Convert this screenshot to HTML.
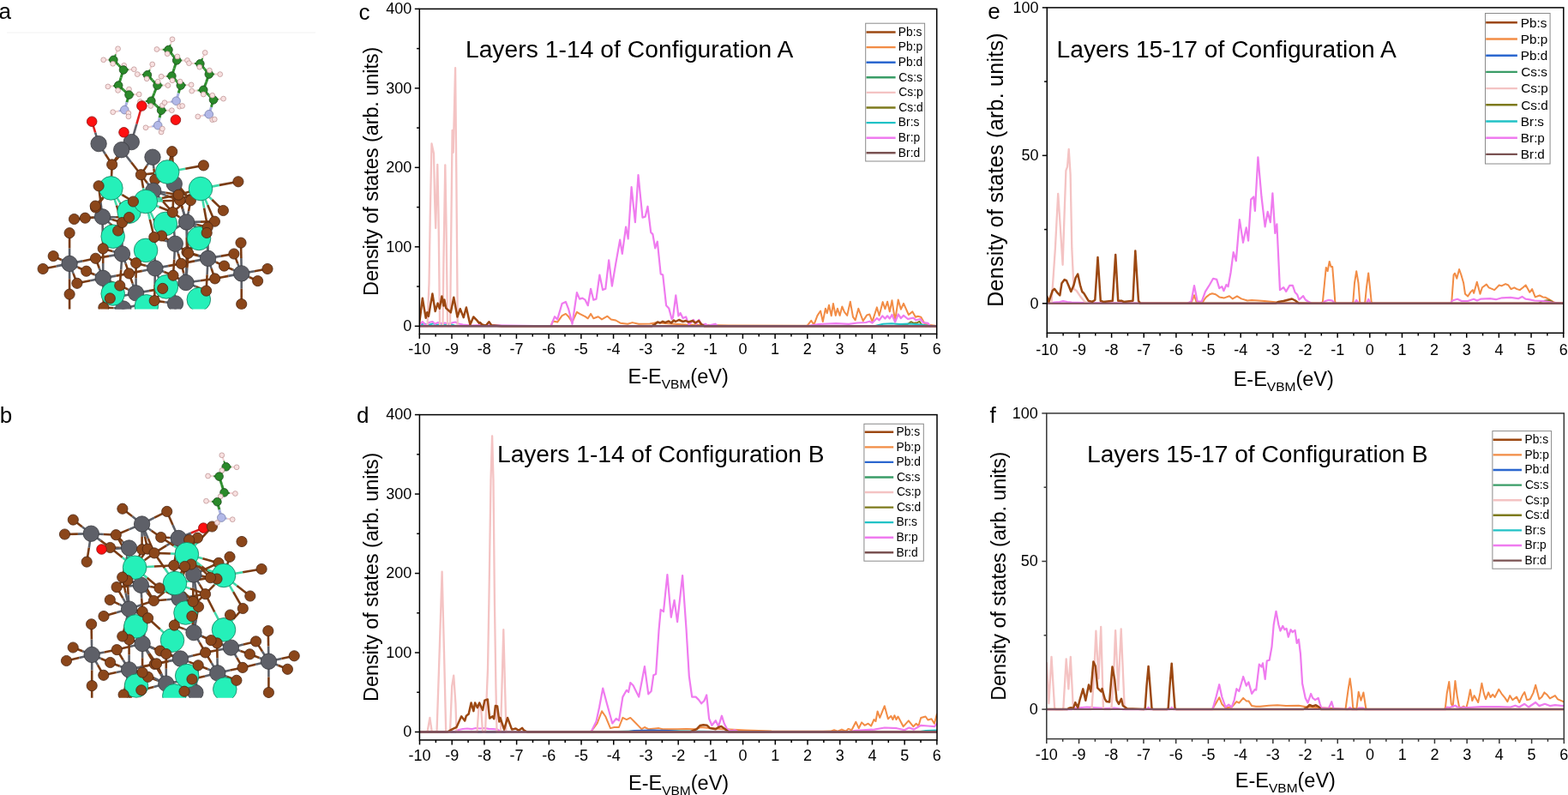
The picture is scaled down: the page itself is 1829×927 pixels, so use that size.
<!DOCTYPE html><html><head><meta charset="utf-8"><title>DOS figure</title><style>html,body{margin:0;padding:0;background:#fff;overflow:hidden}svg{display:block}</style></head><body><svg width="1829" height="927" viewBox="0 0 1829 927">
<defs>
<clipPath id="clipc"><rect x="489.3" y="10.4" width="603.4" height="379.0"/></clipPath>
<clipPath id="clipd"><rect x="489.4" y="483.6" width="603.6" height="379.3"/></clipPath>
<clipPath id="clipe"><rect x="1221.3" y="8.9" width="602.5" height="379.4"/></clipPath>
<clipPath id="clipf"><rect x="1220.8" y="481.9" width="603.5" height="379.7"/></clipPath>
<clipPath id="clipA"><rect x="0" y="38" width="380" height="322.6"/></clipPath>
<clipPath id="clipB"><rect x="0" y="510" width="380" height="303.7"/></clipPath>
</defs>
<rect width="1829" height="927" fill="#fff"/>
<g font-family="'Liberation Sans', Arial, sans-serif" fill="#000">
<text x="-1.40" y="22.40" font-size="26">a</text>
<text x="-0.38" y="493.30" font-size="26">b</text>
<text x="418.40" y="22.50" font-size="26">c</text>
<text x="415.91" y="493.20" font-size="26">d</text>
<text x="1152.20" y="22.10" font-size="26">e</text>
<text x="1154.53" y="493.40" font-size="26">f</text>
<line x1="8" y1="38" x2="368" y2="38" stroke="#f2f2f2" stroke-width="1"/>
<g clip-path="url(#clipA)"><line x1="203.3" y1="214.4" x2="192.1" y2="211.9" stroke="#5d6068" stroke-width="2.6"/><line x1="192.1" y1="211.9" x2="180.8" y2="209.4" stroke="#7a3c14" stroke-width="2.6"/>
<line x1="203.3" y1="214.4" x2="206.6" y2="224.1" stroke="#5d6068" stroke-width="2.6"/><line x1="206.6" y1="224.1" x2="209.9" y2="233.7" stroke="#7a3c14" stroke-width="2.6"/>
<line x1="203.3" y1="214.4" x2="212.9" y2="224.1" stroke="#5d6068" stroke-width="2.6"/><line x1="212.9" y1="224.1" x2="222.4" y2="233.7" stroke="#7a3c14" stroke-width="2.6"/>
<line x1="203.3" y1="214.4" x2="202.3" y2="230.9" stroke="#5d6068" stroke-width="2.6"/><line x1="202.3" y1="230.9" x2="201.3" y2="247.5" stroke="#7a3c14" stroke-width="2.6"/>
<line x1="203.3" y1="214.4" x2="202.0" y2="195.6" stroke="#5d6068" stroke-width="2.6"/><line x1="202.0" y1="195.6" x2="200.7" y2="176.7" stroke="#7a3c14" stroke-width="2.6"/>
<line x1="203.3" y1="214.4" x2="205.8" y2="220.8" stroke="#5d6068" stroke-width="2.6"/><line x1="205.8" y1="220.8" x2="208.2" y2="227.2" stroke="#7a3c14" stroke-width="2.6"/>
<line x1="180.8" y1="209.4" x2="179.8" y2="215.9" stroke="#7a3c14" stroke-width="2.6"/><line x1="179.8" y1="215.9" x2="178.7" y2="222.4" stroke="#5d6068" stroke-width="2.6"/>
<line x1="180.8" y1="209.4" x2="179.4" y2="196.3" stroke="#7a3c14" stroke-width="2.6"/><line x1="179.4" y1="196.3" x2="178.0" y2="183.2" stroke="#5d6068" stroke-width="2.6"/>
<line x1="180.8" y1="209.4" x2="175.3" y2="222.2" stroke="#7a3c14" stroke-width="2.6"/><line x1="175.3" y1="222.2" x2="169.8" y2="235.0" stroke="#40d8a8" stroke-width="2.6"/>
<line x1="180.8" y1="209.4" x2="188.0" y2="204.9" stroke="#7a3c14" stroke-width="2.6"/><line x1="188.0" y1="204.9" x2="195.2" y2="200.5" stroke="#40d8a8" stroke-width="2.6"/>
<line x1="119.5" y1="252.8" x2="115.5" y2="247.4" stroke="#5d6068" stroke-width="2.6"/><line x1="115.5" y1="247.4" x2="111.5" y2="242.0" stroke="#7a3c14" stroke-width="2.6"/>
<line x1="119.5" y1="252.8" x2="103.0" y2="254.2" stroke="#5d6068" stroke-width="2.6"/><line x1="103.0" y1="254.2" x2="86.5" y2="255.5" stroke="#7a3c14" stroke-width="2.6"/>
<line x1="119.5" y1="252.8" x2="109.4" y2="253.5" stroke="#5d6068" stroke-width="2.6"/><line x1="109.4" y1="253.5" x2="99.3" y2="254.2" stroke="#7a3c14" stroke-width="2.6"/>
<line x1="119.5" y1="252.8" x2="128.6" y2="260.9" stroke="#5d6068" stroke-width="2.6"/><line x1="128.6" y1="260.9" x2="137.7" y2="269.0" stroke="#7a3c14" stroke-width="2.6"/>
<line x1="119.5" y1="252.8" x2="131.0" y2="256.1" stroke="#5d6068" stroke-width="2.6"/><line x1="131.0" y1="256.1" x2="142.5" y2="259.5" stroke="#7a3c14" stroke-width="2.6"/>
<line x1="119.5" y1="252.8" x2="135.1" y2="253.2" stroke="#5d6068" stroke-width="2.6"/><line x1="135.1" y1="253.2" x2="150.6" y2="253.5" stroke="#7a3c14" stroke-width="2.6"/>
<line x1="119.5" y1="252.8" x2="119.8" y2="271.4" stroke="#5d6068" stroke-width="2.6"/><line x1="119.8" y1="271.4" x2="120.2" y2="289.9" stroke="#7a3c14" stroke-width="2.6"/>
<line x1="119.5" y1="252.8" x2="117.3" y2="234.8" stroke="#5d6068" stroke-width="2.6"/><line x1="117.3" y1="234.8" x2="115.1" y2="216.8" stroke="#7a3c14" stroke-width="2.6"/>
<line x1="119.5" y1="252.8" x2="115.3" y2="246.4" stroke="#5d6068" stroke-width="2.6"/><line x1="115.3" y1="246.4" x2="111.2" y2="240.1" stroke="#7a3c14" stroke-width="2.6"/>
<line x1="143.8" y1="360.0" x2="141.8" y2="346.5" stroke="#5d6068" stroke-width="2.6"/><line x1="141.8" y1="346.5" x2="139.8" y2="333.0" stroke="#7a3c14" stroke-width="2.6"/>
<line x1="143.8" y1="360.0" x2="136.1" y2="353.9" stroke="#5d6068" stroke-width="2.6"/><line x1="136.1" y1="353.9" x2="128.3" y2="347.9" stroke="#7a3c14" stroke-width="2.6"/>
<line x1="143.8" y1="360.0" x2="162.0" y2="355.3" stroke="#5d6068" stroke-width="2.6"/><line x1="162.0" y1="355.3" x2="180.2" y2="350.6" stroke="#7a3c14" stroke-width="2.6"/>
<line x1="143.8" y1="360.0" x2="132.4" y2="359.3" stroke="#5d6068" stroke-width="2.6"/><line x1="132.4" y1="359.3" x2="120.9" y2="358.6" stroke="#7a3c14" stroke-width="2.6"/>
<line x1="143.8" y1="360.0" x2="143.8" y2="377.5" stroke="#5d6068" stroke-width="2.6"/><line x1="143.8" y1="377.5" x2="143.8" y2="395.0" stroke="#7a3c14" stroke-width="2.6"/>
<line x1="204.5" y1="353.9" x2="197.1" y2="345.1" stroke="#5d6068" stroke-width="2.6"/><line x1="197.1" y1="345.1" x2="189.7" y2="336.4" stroke="#7a3c14" stroke-width="2.6"/>
<line x1="204.5" y1="353.9" x2="203.2" y2="337.5" stroke="#5d6068" stroke-width="2.6"/><line x1="203.2" y1="337.5" x2="202.0" y2="321.2" stroke="#7a3c14" stroke-width="2.6"/>
<line x1="204.5" y1="353.9" x2="192.3" y2="352.2" stroke="#5d6068" stroke-width="2.6"/><line x1="192.3" y1="352.2" x2="180.2" y2="350.6" stroke="#7a3c14" stroke-width="2.6"/>
<line x1="204.5" y1="353.9" x2="204.5" y2="371.9" stroke="#5d6068" stroke-width="2.6"/><line x1="204.5" y1="371.9" x2="204.5" y2="390.0" stroke="#7a3c14" stroke-width="2.6"/>
<line x1="216.9" y1="329.5" x2="214.2" y2="318.4" stroke="#5d6068" stroke-width="2.6"/><line x1="214.2" y1="318.4" x2="211.4" y2="307.4" stroke="#7a3c14" stroke-width="2.6"/>
<line x1="216.9" y1="329.5" x2="217.4" y2="311.8" stroke="#5d6068" stroke-width="2.6"/><line x1="217.4" y1="311.8" x2="218.0" y2="294.0" stroke="#7a3c14" stroke-width="2.6"/>
<line x1="216.9" y1="329.5" x2="203.3" y2="332.9" stroke="#5d6068" stroke-width="2.6"/><line x1="203.3" y1="332.9" x2="189.7" y2="336.4" stroke="#7a3c14" stroke-width="2.6"/>
<line x1="216.9" y1="329.5" x2="209.4" y2="325.4" stroke="#5d6068" stroke-width="2.6"/><line x1="209.4" y1="325.4" x2="202.0" y2="321.2" stroke="#7a3c14" stroke-width="2.6"/>
<line x1="216.9" y1="329.5" x2="218.3" y2="312.4" stroke="#5d6068" stroke-width="2.6"/><line x1="218.3" y1="312.4" x2="219.7" y2="295.3" stroke="#7a3c14" stroke-width="2.6"/>
<line x1="216.9" y1="329.5" x2="233.8" y2="327.2" stroke="#5d6068" stroke-width="2.6"/><line x1="233.8" y1="327.2" x2="250.7" y2="324.9" stroke="#7a3c14" stroke-width="2.6"/>
<line x1="216.9" y1="329.5" x2="228.8" y2="334.3" stroke="#5d6068" stroke-width="2.6"/><line x1="228.8" y1="334.3" x2="240.6" y2="339.1" stroke="#7a3c14" stroke-width="2.6"/>
<line x1="158.6" y1="341.8" x2="158.6" y2="324.2" stroke="#5d6068" stroke-width="2.6"/><line x1="158.6" y1="324.2" x2="158.6" y2="306.7" stroke="#7a3c14" stroke-width="2.6"/>
<line x1="158.6" y1="341.8" x2="154.6" y2="330.4" stroke="#5d6068" stroke-width="2.6"/><line x1="154.6" y1="330.4" x2="150.6" y2="318.9" stroke="#7a3c14" stroke-width="2.6"/>
<line x1="158.6" y1="341.8" x2="149.2" y2="337.4" stroke="#5d6068" stroke-width="2.6"/><line x1="149.2" y1="337.4" x2="139.8" y2="333.0" stroke="#7a3c14" stroke-width="2.6"/>
<line x1="158.6" y1="341.8" x2="143.4" y2="344.9" stroke="#5d6068" stroke-width="2.6"/><line x1="143.4" y1="344.9" x2="128.3" y2="347.9" stroke="#7a3c14" stroke-width="2.6"/>
<line x1="158.6" y1="341.8" x2="174.1" y2="339.1" stroke="#5d6068" stroke-width="2.6"/><line x1="174.1" y1="339.1" x2="189.7" y2="336.4" stroke="#7a3c14" stroke-width="2.6"/>
<line x1="158.6" y1="341.8" x2="169.4" y2="346.2" stroke="#5d6068" stroke-width="2.6"/><line x1="169.4" y1="346.2" x2="180.2" y2="350.6" stroke="#7a3c14" stroke-width="2.6"/>
<line x1="120.2" y1="324.3" x2="115.8" y2="312.8" stroke="#5d6068" stroke-width="2.6"/><line x1="115.8" y1="312.8" x2="111.5" y2="301.3" stroke="#7a3c14" stroke-width="2.6"/>
<line x1="120.2" y1="324.3" x2="120.2" y2="307.1" stroke="#5d6068" stroke-width="2.6"/><line x1="120.2" y1="307.1" x2="120.2" y2="289.9" stroke="#7a3c14" stroke-width="2.6"/>
<line x1="120.2" y1="324.3" x2="110.5" y2="320.2" stroke="#5d6068" stroke-width="2.6"/><line x1="110.5" y1="320.2" x2="100.7" y2="316.2" stroke="#7a3c14" stroke-width="2.6"/>
<line x1="120.2" y1="324.3" x2="135.4" y2="321.6" stroke="#5d6068" stroke-width="2.6"/><line x1="135.4" y1="321.6" x2="150.6" y2="318.9" stroke="#7a3c14" stroke-width="2.6"/>
<line x1="120.2" y1="324.3" x2="105.1" y2="327.3" stroke="#5d6068" stroke-width="2.6"/><line x1="105.1" y1="327.3" x2="89.9" y2="330.3" stroke="#7a3c14" stroke-width="2.6"/>
<line x1="120.2" y1="324.3" x2="130.0" y2="328.6" stroke="#5d6068" stroke-width="2.6"/><line x1="130.0" y1="328.6" x2="139.8" y2="333.0" stroke="#7a3c14" stroke-width="2.6"/>
<line x1="120.2" y1="324.3" x2="124.2" y2="336.1" stroke="#5d6068" stroke-width="2.6"/><line x1="124.2" y1="336.1" x2="128.3" y2="347.9" stroke="#7a3c14" stroke-width="2.6"/>
<line x1="120.2" y1="324.3" x2="120.6" y2="341.5" stroke="#5d6068" stroke-width="2.6"/><line x1="120.6" y1="341.5" x2="120.9" y2="358.6" stroke="#7a3c14" stroke-width="2.6"/>
<line x1="180.9" y1="312.8" x2="169.8" y2="309.8" stroke="#5d6068" stroke-width="2.6"/><line x1="169.8" y1="309.8" x2="158.6" y2="306.7" stroke="#7a3c14" stroke-width="2.6"/>
<line x1="180.9" y1="312.8" x2="196.2" y2="310.1" stroke="#5d6068" stroke-width="2.6"/><line x1="196.2" y1="310.1" x2="211.4" y2="307.4" stroke="#7a3c14" stroke-width="2.6"/>
<line x1="180.9" y1="312.8" x2="165.8" y2="315.9" stroke="#5d6068" stroke-width="2.6"/><line x1="165.8" y1="315.9" x2="150.6" y2="318.9" stroke="#7a3c14" stroke-width="2.6"/>
<line x1="180.9" y1="312.8" x2="185.3" y2="324.6" stroke="#5d6068" stroke-width="2.6"/><line x1="185.3" y1="324.6" x2="189.7" y2="336.4" stroke="#7a3c14" stroke-width="2.6"/>
<line x1="180.9" y1="312.8" x2="191.4" y2="317.0" stroke="#5d6068" stroke-width="2.6"/><line x1="191.4" y1="317.0" x2="202.0" y2="321.2" stroke="#7a3c14" stroke-width="2.6"/>
<line x1="180.9" y1="312.8" x2="180.6" y2="331.7" stroke="#5d6068" stroke-width="2.6"/><line x1="180.6" y1="331.7" x2="180.2" y2="350.6" stroke="#7a3c14" stroke-width="2.6"/>
<line x1="180.9" y1="312.8" x2="180.4" y2="294.6" stroke="#5d6068" stroke-width="2.6"/><line x1="180.4" y1="294.6" x2="179.8" y2="276.5" stroke="#7a3c14" stroke-width="2.6"/>
<line x1="142.5" y1="296.0" x2="140.1" y2="282.5" stroke="#5d6068" stroke-width="2.6"/><line x1="140.1" y1="282.5" x2="137.7" y2="269.0" stroke="#7a3c14" stroke-width="2.6"/>
<line x1="142.5" y1="296.0" x2="142.5" y2="277.8" stroke="#5d6068" stroke-width="2.6"/><line x1="142.5" y1="277.8" x2="142.5" y2="259.5" stroke="#7a3c14" stroke-width="2.6"/>
<line x1="142.5" y1="296.0" x2="127.0" y2="298.6" stroke="#5d6068" stroke-width="2.6"/><line x1="127.0" y1="298.6" x2="111.5" y2="301.3" stroke="#7a3c14" stroke-width="2.6"/>
<line x1="142.5" y1="296.0" x2="131.3" y2="292.9" stroke="#5d6068" stroke-width="2.6"/><line x1="131.3" y1="292.9" x2="120.2" y2="289.9" stroke="#7a3c14" stroke-width="2.6"/>
<line x1="142.5" y1="296.0" x2="150.6" y2="301.4" stroke="#5d6068" stroke-width="2.6"/><line x1="150.6" y1="301.4" x2="158.6" y2="306.7" stroke="#7a3c14" stroke-width="2.6"/>
<line x1="142.5" y1="296.0" x2="146.6" y2="307.4" stroke="#5d6068" stroke-width="2.6"/><line x1="146.6" y1="307.4" x2="150.6" y2="318.9" stroke="#7a3c14" stroke-width="2.6"/>
<line x1="142.5" y1="296.0" x2="141.2" y2="314.5" stroke="#5d6068" stroke-width="2.6"/><line x1="141.2" y1="314.5" x2="139.8" y2="333.0" stroke="#7a3c14" stroke-width="2.6"/>
<line x1="204.3" y1="284.2" x2="207.9" y2="295.8" stroke="#5d6068" stroke-width="2.6"/><line x1="207.9" y1="295.8" x2="211.4" y2="307.4" stroke="#7a3c14" stroke-width="2.6"/>
<line x1="204.3" y1="284.2" x2="211.2" y2="289.1" stroke="#5d6068" stroke-width="2.6"/><line x1="211.2" y1="289.1" x2="218.0" y2="294.0" stroke="#7a3c14" stroke-width="2.6"/>
<line x1="204.3" y1="284.2" x2="203.2" y2="302.7" stroke="#5d6068" stroke-width="2.6"/><line x1="203.2" y1="302.7" x2="202.0" y2="321.2" stroke="#7a3c14" stroke-width="2.6"/>
<line x1="204.3" y1="284.2" x2="212.0" y2="289.8" stroke="#5d6068" stroke-width="2.6"/><line x1="212.0" y1="289.8" x2="219.7" y2="295.3" stroke="#7a3c14" stroke-width="2.6"/>
<line x1="204.3" y1="284.2" x2="202.8" y2="265.9" stroke="#5d6068" stroke-width="2.6"/><line x1="202.8" y1="265.9" x2="201.3" y2="247.5" stroke="#7a3c14" stroke-width="2.6"/>
<line x1="204.3" y1="284.2" x2="196.4" y2="279.6" stroke="#5d6068" stroke-width="2.6"/><line x1="196.4" y1="279.6" x2="188.5" y2="275.0" stroke="#7a3c14" stroke-width="2.6"/>
<line x1="204.3" y1="284.2" x2="192.1" y2="280.4" stroke="#5d6068" stroke-width="2.6"/><line x1="192.1" y1="280.4" x2="179.8" y2="276.5" stroke="#7a3c14" stroke-width="2.6"/>
<line x1="242.6" y1="301.3" x2="227.0" y2="304.4" stroke="#5d6068" stroke-width="2.6"/><line x1="227.0" y1="304.4" x2="211.4" y2="307.4" stroke="#7a3c14" stroke-width="2.6"/>
<line x1="242.6" y1="301.3" x2="230.3" y2="297.6" stroke="#5d6068" stroke-width="2.6"/><line x1="230.3" y1="297.6" x2="218.0" y2="294.0" stroke="#7a3c14" stroke-width="2.6"/>
<line x1="242.6" y1="301.3" x2="231.1" y2="298.3" stroke="#5d6068" stroke-width="2.6"/><line x1="231.1" y1="298.3" x2="219.7" y2="295.3" stroke="#7a3c14" stroke-width="2.6"/>
<line x1="242.6" y1="301.3" x2="257.8" y2="298.6" stroke="#5d6068" stroke-width="2.6"/><line x1="257.8" y1="298.6" x2="272.9" y2="296.0" stroke="#7a3c14" stroke-width="2.6"/>
<line x1="242.6" y1="301.3" x2="252.1" y2="305.7" stroke="#5d6068" stroke-width="2.6"/><line x1="252.1" y1="305.7" x2="261.5" y2="310.1" stroke="#7a3c14" stroke-width="2.6"/>
<line x1="242.6" y1="301.3" x2="246.6" y2="313.1" stroke="#5d6068" stroke-width="2.6"/><line x1="246.6" y1="313.1" x2="250.7" y2="324.9" stroke="#7a3c14" stroke-width="2.6"/>
<line x1="242.6" y1="301.3" x2="241.6" y2="320.2" stroke="#5d6068" stroke-width="2.6"/><line x1="241.6" y1="320.2" x2="240.6" y2="339.1" stroke="#7a3c14" stroke-width="2.6"/>
<line x1="242.6" y1="301.3" x2="242.4" y2="283.1" stroke="#5d6068" stroke-width="2.6"/><line x1="242.4" y1="283.1" x2="242.2" y2="265.0" stroke="#7a3c14" stroke-width="2.6"/>
<line x1="242.6" y1="301.3" x2="241.9" y2="286.4" stroke="#5d6068" stroke-width="2.6"/><line x1="241.9" y1="286.4" x2="241.2" y2="271.5" stroke="#7a3c14" stroke-width="2.6"/>
<line x1="281.7" y1="318.9" x2="277.3" y2="307.4" stroke="#5d6068" stroke-width="2.6"/><line x1="277.3" y1="307.4" x2="272.9" y2="296.0" stroke="#7a3c14" stroke-width="2.6"/>
<line x1="281.7" y1="318.9" x2="281.4" y2="301.0" stroke="#5d6068" stroke-width="2.6"/><line x1="281.4" y1="301.0" x2="281.0" y2="283.1" stroke="#7a3c14" stroke-width="2.6"/>
<line x1="281.7" y1="318.9" x2="271.6" y2="314.5" stroke="#5d6068" stroke-width="2.6"/><line x1="271.6" y1="314.5" x2="261.5" y2="310.1" stroke="#7a3c14" stroke-width="2.6"/>
<line x1="281.7" y1="318.9" x2="296.9" y2="316.2" stroke="#5d6068" stroke-width="2.6"/><line x1="296.9" y1="316.2" x2="312.0" y2="313.5" stroke="#7a3c14" stroke-width="2.6"/>
<line x1="281.7" y1="318.9" x2="291.1" y2="323.2" stroke="#5d6068" stroke-width="2.6"/><line x1="291.1" y1="323.2" x2="300.6" y2="327.6" stroke="#7a3c14" stroke-width="2.6"/>
<line x1="281.7" y1="318.9" x2="266.2" y2="321.9" stroke="#5d6068" stroke-width="2.6"/><line x1="266.2" y1="321.9" x2="250.7" y2="324.9" stroke="#7a3c14" stroke-width="2.6"/>
<line x1="281.7" y1="318.9" x2="281.7" y2="336.8" stroke="#5d6068" stroke-width="2.6"/><line x1="281.7" y1="336.8" x2="281.7" y2="354.6" stroke="#7a3c14" stroke-width="2.6"/>
<line x1="81.1" y1="307.4" x2="81.1" y2="289.5" stroke="#5d6068" stroke-width="2.6"/><line x1="81.1" y1="289.5" x2="81.1" y2="271.7" stroke="#7a3c14" stroke-width="2.6"/>
<line x1="81.1" y1="307.4" x2="71.7" y2="303.0" stroke="#5d6068" stroke-width="2.6"/><line x1="71.7" y1="303.0" x2="62.2" y2="298.6" stroke="#7a3c14" stroke-width="2.6"/>
<line x1="81.1" y1="307.4" x2="65.6" y2="310.4" stroke="#5d6068" stroke-width="2.6"/><line x1="65.6" y1="310.4" x2="50.1" y2="313.5" stroke="#7a3c14" stroke-width="2.6"/>
<line x1="81.1" y1="307.4" x2="96.3" y2="304.4" stroke="#5d6068" stroke-width="2.6"/><line x1="96.3" y1="304.4" x2="111.5" y2="301.3" stroke="#7a3c14" stroke-width="2.6"/>
<line x1="81.1" y1="307.4" x2="90.9" y2="311.8" stroke="#5d6068" stroke-width="2.6"/><line x1="90.9" y1="311.8" x2="100.7" y2="316.2" stroke="#7a3c14" stroke-width="2.6"/>
<line x1="81.1" y1="307.4" x2="85.5" y2="318.9" stroke="#5d6068" stroke-width="2.6"/><line x1="85.5" y1="318.9" x2="89.9" y2="330.3" stroke="#7a3c14" stroke-width="2.6"/>
<line x1="81.1" y1="307.4" x2="81.1" y2="325.2" stroke="#5d6068" stroke-width="2.6"/><line x1="81.1" y1="325.2" x2="81.1" y2="343.1" stroke="#7a3c14" stroke-width="2.6"/>
<line x1="217.6" y1="259.0" x2="217.8" y2="276.5" stroke="#5d6068" stroke-width="2.6"/><line x1="217.8" y1="276.5" x2="218.0" y2="294.0" stroke="#7a3c14" stroke-width="2.6"/>
<line x1="217.6" y1="259.0" x2="218.6" y2="277.1" stroke="#5d6068" stroke-width="2.6"/><line x1="218.6" y1="277.1" x2="219.7" y2="295.3" stroke="#7a3c14" stroke-width="2.6"/>
<line x1="217.6" y1="259.0" x2="213.8" y2="246.3" stroke="#5d6068" stroke-width="2.6"/><line x1="213.8" y1="246.3" x2="209.9" y2="233.7" stroke="#7a3c14" stroke-width="2.6"/>
<line x1="217.6" y1="259.0" x2="220.0" y2="246.3" stroke="#5d6068" stroke-width="2.6"/><line x1="220.0" y1="246.3" x2="222.4" y2="233.7" stroke="#7a3c14" stroke-width="2.6"/>
<line x1="217.6" y1="259.0" x2="209.4" y2="253.2" stroke="#5d6068" stroke-width="2.6"/><line x1="209.4" y1="253.2" x2="201.3" y2="247.5" stroke="#7a3c14" stroke-width="2.6"/>
<line x1="217.6" y1="259.0" x2="234.0" y2="258.6" stroke="#5d6068" stroke-width="2.6"/><line x1="234.0" y1="258.6" x2="250.4" y2="258.2" stroke="#7a3c14" stroke-width="2.6"/>
<line x1="217.6" y1="259.0" x2="229.9" y2="262.0" stroke="#5d6068" stroke-width="2.6"/><line x1="229.9" y1="262.0" x2="242.2" y2="265.0" stroke="#7a3c14" stroke-width="2.6"/>
<line x1="217.6" y1="259.0" x2="229.4" y2="265.2" stroke="#5d6068" stroke-width="2.6"/><line x1="229.4" y1="265.2" x2="241.2" y2="271.5" stroke="#7a3c14" stroke-width="2.6"/>
<line x1="217.6" y1="259.0" x2="203.1" y2="267.0" stroke="#5d6068" stroke-width="2.6"/><line x1="203.1" y1="267.0" x2="188.5" y2="275.0" stroke="#7a3c14" stroke-width="2.6"/>
<line x1="217.6" y1="259.0" x2="212.9" y2="243.1" stroke="#5d6068" stroke-width="2.6"/><line x1="212.9" y1="243.1" x2="208.2" y2="227.2" stroke="#7a3c14" stroke-width="2.6"/>
<line x1="178.7" y1="222.4" x2="194.3" y2="228.1" stroke="#5d6068" stroke-width="2.6"/><line x1="194.3" y1="228.1" x2="209.9" y2="233.7" stroke="#7a3c14" stroke-width="2.6"/>
<line x1="178.7" y1="222.4" x2="190.0" y2="234.9" stroke="#5d6068" stroke-width="2.6"/><line x1="190.0" y1="234.9" x2="201.3" y2="247.5" stroke="#7a3c14" stroke-width="2.6"/>
<line x1="178.7" y1="222.4" x2="171.6" y2="213.1" stroke="#5d6068" stroke-width="2.6"/><line x1="171.6" y1="213.1" x2="164.4" y2="203.7" stroke="#7a3c14" stroke-width="2.6"/>
<line x1="178.7" y1="222.4" x2="167.1" y2="228.7" stroke="#5d6068" stroke-width="2.6"/><line x1="167.1" y1="228.7" x2="155.4" y2="235.0" stroke="#7a3c14" stroke-width="2.6"/>
<line x1="178.7" y1="222.4" x2="193.4" y2="224.8" stroke="#5d6068" stroke-width="2.6"/><line x1="193.4" y1="224.8" x2="208.2" y2="227.2" stroke="#7a3c14" stroke-width="2.6"/>
<line x1="150.6" y1="246.7" x2="144.1" y2="257.9" stroke="#40d8a8" stroke-width="2.6"/><line x1="144.1" y1="257.9" x2="137.7" y2="269.0" stroke="#7a3c14" stroke-width="2.6"/>
<line x1="150.6" y1="246.7" x2="146.6" y2="253.1" stroke="#40d8a8" stroke-width="2.6"/><line x1="146.6" y1="253.1" x2="142.5" y2="259.5" stroke="#7a3c14" stroke-width="2.6"/>
<line x1="150.6" y1="246.7" x2="153.0" y2="240.8" stroke="#40d8a8" stroke-width="2.6"/><line x1="153.0" y1="240.8" x2="155.4" y2="235.0" stroke="#7a3c14" stroke-width="2.6"/>
<line x1="131.7" y1="275.7" x2="137.1" y2="267.6" stroke="#40d8a8" stroke-width="2.6"/><line x1="137.1" y1="267.6" x2="142.5" y2="259.5" stroke="#7a3c14" stroke-width="2.6"/>
<line x1="131.7" y1="275.7" x2="125.9" y2="282.8" stroke="#40d8a8" stroke-width="2.6"/><line x1="125.9" y1="282.8" x2="120.2" y2="289.9" stroke="#7a3c14" stroke-width="2.6"/>
<line x1="170.1" y1="291.9" x2="164.3" y2="299.3" stroke="#40d8a8" stroke-width="2.6"/><line x1="164.3" y1="299.3" x2="158.6" y2="306.7" stroke="#7a3c14" stroke-width="2.6"/>
<line x1="170.1" y1="291.9" x2="179.3" y2="283.4" stroke="#40d8a8" stroke-width="2.6"/><line x1="179.3" y1="283.4" x2="188.5" y2="275.0" stroke="#7a3c14" stroke-width="2.6"/>
<line x1="170.1" y1="291.9" x2="174.9" y2="284.2" stroke="#40d8a8" stroke-width="2.6"/><line x1="174.9" y1="284.2" x2="179.8" y2="276.5" stroke="#7a3c14" stroke-width="2.6"/>
<line x1="193.9" y1="334.4" x2="197.9" y2="327.8" stroke="#40d8a8" stroke-width="2.6"/><line x1="197.9" y1="327.8" x2="202.0" y2="321.2" stroke="#7a3c14" stroke-width="2.6"/>
<line x1="193.9" y1="334.4" x2="187.1" y2="342.5" stroke="#40d8a8" stroke-width="2.6"/><line x1="187.1" y1="342.5" x2="180.2" y2="350.6" stroke="#7a3c14" stroke-width="2.6"/>
<line x1="131.7" y1="342.5" x2="135.8" y2="337.8" stroke="#40d8a8" stroke-width="2.6"/><line x1="135.8" y1="337.8" x2="139.8" y2="333.0" stroke="#7a3c14" stroke-width="2.6"/>
<line x1="131.7" y1="342.5" x2="126.3" y2="350.6" stroke="#40d8a8" stroke-width="2.6"/><line x1="126.3" y1="350.6" x2="120.9" y2="358.6" stroke="#7a3c14" stroke-width="2.6"/>
<line x1="170.8" y1="357.3" x2="175.5" y2="354.0" stroke="#40d8a8" stroke-width="2.6"/><line x1="175.5" y1="354.0" x2="180.2" y2="350.6" stroke="#7a3c14" stroke-width="2.6"/>
<line x1="231.8" y1="349.2" x2="236.2" y2="344.1" stroke="#40d8a8" stroke-width="2.6"/><line x1="236.2" y1="344.1" x2="240.6" y2="339.1" stroke="#7a3c14" stroke-width="2.6"/>
<line x1="232.0" y1="278.0" x2="225.0" y2="286.0" stroke="#40d8a8" stroke-width="2.6"/><line x1="225.0" y1="286.0" x2="218.0" y2="294.0" stroke="#7a3c14" stroke-width="2.6"/>
<line x1="232.0" y1="278.0" x2="225.8" y2="286.6" stroke="#40d8a8" stroke-width="2.6"/><line x1="225.8" y1="286.6" x2="219.7" y2="295.3" stroke="#7a3c14" stroke-width="2.6"/>
<line x1="232.0" y1="278.0" x2="237.1" y2="271.5" stroke="#40d8a8" stroke-width="2.6"/><line x1="237.1" y1="271.5" x2="242.2" y2="265.0" stroke="#7a3c14" stroke-width="2.6"/>
<line x1="232.0" y1="278.0" x2="236.6" y2="274.8" stroke="#40d8a8" stroke-width="2.6"/><line x1="236.6" y1="274.8" x2="241.2" y2="271.5" stroke="#7a3c14" stroke-width="2.6"/>
<line x1="192.9" y1="261.0" x2="197.1" y2="254.2" stroke="#40d8a8" stroke-width="2.6"/><line x1="197.1" y1="254.2" x2="201.3" y2="247.5" stroke="#7a3c14" stroke-width="2.6"/>
<line x1="192.9" y1="261.0" x2="190.7" y2="268.0" stroke="#40d8a8" stroke-width="2.6"/><line x1="190.7" y1="268.0" x2="188.5" y2="275.0" stroke="#7a3c14" stroke-width="2.6"/>
<line x1="192.9" y1="261.0" x2="186.4" y2="268.8" stroke="#40d8a8" stroke-width="2.6"/><line x1="186.4" y1="268.8" x2="179.8" y2="276.5" stroke="#7a3c14" stroke-width="2.6"/>
<line x1="115.1" y1="167.6" x2="122.9" y2="179.8" stroke="#5d6068" stroke-width="2.6"/><line x1="122.9" y1="179.8" x2="130.7" y2="191.9" stroke="#7a3c14" stroke-width="2.6"/>
<line x1="153.3" y1="165.6" x2="142.0" y2="178.8" stroke="#5d6068" stroke-width="2.6"/><line x1="142.0" y1="178.8" x2="130.7" y2="191.9" stroke="#7a3c14" stroke-width="2.6"/>
<line x1="141.7" y1="174.7" x2="136.2" y2="183.3" stroke="#5d6068" stroke-width="2.6"/><line x1="136.2" y1="183.3" x2="130.7" y2="191.9" stroke="#7a3c14" stroke-width="2.6"/>
<line x1="141.7" y1="174.7" x2="153.1" y2="189.2" stroke="#5d6068" stroke-width="2.6"/><line x1="153.1" y1="189.2" x2="164.4" y2="203.7" stroke="#7a3c14" stroke-width="2.6"/>
<line x1="178.0" y1="183.2" x2="171.2" y2="193.4" stroke="#5d6068" stroke-width="2.6"/><line x1="171.2" y1="193.4" x2="164.4" y2="203.7" stroke="#7a3c14" stroke-width="2.6"/>
<line x1="111.5" y1="242.0" x2="120.5" y2="230.7" stroke="#7a3c14" stroke-width="2.6"/><line x1="120.5" y1="230.7" x2="129.4" y2="219.4" stroke="#40d8a8" stroke-width="2.6"/>
<line x1="142.5" y1="259.5" x2="135.9" y2="239.4" stroke="#7a3c14" stroke-width="2.6"/><line x1="135.9" y1="239.4" x2="129.4" y2="219.4" stroke="#40d8a8" stroke-width="2.6"/>
<line x1="142.5" y1="259.5" x2="156.2" y2="247.2" stroke="#7a3c14" stroke-width="2.6"/><line x1="156.2" y1="247.2" x2="169.8" y2="235.0" stroke="#40d8a8" stroke-width="2.6"/>
<line x1="150.6" y1="253.5" x2="140.0" y2="236.4" stroke="#7a3c14" stroke-width="2.6"/><line x1="140.0" y1="236.4" x2="129.4" y2="219.4" stroke="#40d8a8" stroke-width="2.6"/>
<line x1="150.6" y1="253.5" x2="160.2" y2="244.2" stroke="#7a3c14" stroke-width="2.6"/><line x1="160.2" y1="244.2" x2="169.8" y2="235.0" stroke="#40d8a8" stroke-width="2.6"/>
<line x1="81.1" y1="343.1" x2="81.1" y2="361.1" stroke="#7a3c14" stroke-width="2.6"/><line x1="81.1" y1="361.1" x2="81.1" y2="379.0" stroke="#5d6068" stroke-width="2.6"/>
<line x1="281.7" y1="354.6" x2="281.7" y2="372.3" stroke="#7a3c14" stroke-width="2.6"/><line x1="281.7" y1="372.3" x2="281.7" y2="390.0" stroke="#5d6068" stroke-width="2.6"/>
<line x1="209.9" y1="233.7" x2="189.9" y2="234.3" stroke="#7a3c14" stroke-width="2.6"/><line x1="189.9" y1="234.3" x2="169.8" y2="235.0" stroke="#40d8a8" stroke-width="2.6"/>
<line x1="209.9" y1="233.7" x2="202.6" y2="217.1" stroke="#7a3c14" stroke-width="2.6"/><line x1="202.6" y1="217.1" x2="195.2" y2="200.5" stroke="#40d8a8" stroke-width="2.6"/>
<line x1="209.9" y1="233.7" x2="221.9" y2="226.9" stroke="#7a3c14" stroke-width="2.6"/><line x1="221.9" y1="226.9" x2="234.0" y2="220.1" stroke="#40d8a8" stroke-width="2.6"/>
<line x1="222.4" y1="233.7" x2="208.8" y2="217.1" stroke="#7a3c14" stroke-width="2.6"/><line x1="208.8" y1="217.1" x2="195.2" y2="200.5" stroke="#40d8a8" stroke-width="2.6"/>
<line x1="222.4" y1="233.7" x2="228.2" y2="226.9" stroke="#7a3c14" stroke-width="2.6"/><line x1="228.2" y1="226.9" x2="234.0" y2="220.1" stroke="#40d8a8" stroke-width="2.6"/>
<line x1="201.3" y1="247.5" x2="185.6" y2="241.2" stroke="#7a3c14" stroke-width="2.6"/><line x1="185.6" y1="241.2" x2="169.8" y2="235.0" stroke="#40d8a8" stroke-width="2.6"/>
<line x1="201.3" y1="247.5" x2="217.7" y2="233.8" stroke="#7a3c14" stroke-width="2.6"/><line x1="217.7" y1="233.8" x2="234.0" y2="220.1" stroke="#40d8a8" stroke-width="2.6"/>
<line x1="260.4" y1="245.5" x2="247.2" y2="232.8" stroke="#7a3c14" stroke-width="2.6"/><line x1="247.2" y1="232.8" x2="234.0" y2="220.1" stroke="#40d8a8" stroke-width="2.6"/>
<line x1="250.4" y1="258.2" x2="242.2" y2="239.1" stroke="#7a3c14" stroke-width="2.6"/><line x1="242.2" y1="239.1" x2="234.0" y2="220.1" stroke="#40d8a8" stroke-width="2.6"/>
<line x1="242.2" y1="265.0" x2="238.1" y2="242.6" stroke="#7a3c14" stroke-width="2.6"/><line x1="238.1" y1="242.6" x2="234.0" y2="220.1" stroke="#40d8a8" stroke-width="2.6"/>
<line x1="188.5" y1="275.0" x2="179.2" y2="255.0" stroke="#7a3c14" stroke-width="2.6"/><line x1="179.2" y1="255.0" x2="169.8" y2="235.0" stroke="#40d8a8" stroke-width="2.6"/>
<line x1="179.8" y1="276.5" x2="174.8" y2="255.8" stroke="#7a3c14" stroke-width="2.6"/><line x1="174.8" y1="255.8" x2="169.8" y2="235.0" stroke="#40d8a8" stroke-width="2.6"/>
<line x1="129.4" y1="219.4" x2="130.1" y2="205.7" stroke="#40d8a8" stroke-width="2.6"/><line x1="130.1" y1="205.7" x2="130.7" y2="191.9" stroke="#7a3c14" stroke-width="2.6"/>
<line x1="129.4" y1="219.4" x2="122.2" y2="218.1" stroke="#40d8a8" stroke-width="2.6"/><line x1="122.2" y1="218.1" x2="115.1" y2="216.8" stroke="#7a3c14" stroke-width="2.6"/>
<line x1="129.4" y1="219.4" x2="120.3" y2="229.8" stroke="#40d8a8" stroke-width="2.6"/><line x1="120.3" y1="229.8" x2="111.2" y2="240.1" stroke="#7a3c14" stroke-width="2.6"/>
<line x1="129.4" y1="219.4" x2="142.4" y2="227.2" stroke="#40d8a8" stroke-width="2.6"/><line x1="142.4" y1="227.2" x2="155.4" y2="235.0" stroke="#7a3c14" stroke-width="2.6"/>
<line x1="169.8" y1="235.0" x2="167.1" y2="219.3" stroke="#40d8a8" stroke-width="2.6"/><line x1="167.1" y1="219.3" x2="164.4" y2="203.7" stroke="#7a3c14" stroke-width="2.6"/>
<line x1="169.8" y1="235.0" x2="162.6" y2="235.0" stroke="#40d8a8" stroke-width="2.6"/><line x1="162.6" y1="235.0" x2="155.4" y2="235.0" stroke="#7a3c14" stroke-width="2.6"/>
<line x1="169.8" y1="235.0" x2="189.0" y2="231.1" stroke="#40d8a8" stroke-width="2.6"/><line x1="189.0" y1="231.1" x2="208.2" y2="227.2" stroke="#7a3c14" stroke-width="2.6"/>
<line x1="195.2" y1="200.5" x2="179.8" y2="202.1" stroke="#40d8a8" stroke-width="2.6"/><line x1="179.8" y1="202.1" x2="164.4" y2="203.7" stroke="#7a3c14" stroke-width="2.6"/>
<line x1="195.2" y1="200.5" x2="197.9" y2="188.6" stroke="#40d8a8" stroke-width="2.6"/><line x1="197.9" y1="188.6" x2="200.7" y2="176.7" stroke="#7a3c14" stroke-width="2.6"/>
<line x1="195.2" y1="200.5" x2="216.3" y2="196.7" stroke="#40d8a8" stroke-width="2.6"/><line x1="216.3" y1="196.7" x2="237.4" y2="192.9" stroke="#7a3c14" stroke-width="2.6"/>
<line x1="195.2" y1="200.5" x2="201.7" y2="213.8" stroke="#40d8a8" stroke-width="2.6"/><line x1="201.7" y1="213.8" x2="208.2" y2="227.2" stroke="#7a3c14" stroke-width="2.6"/>
<line x1="234.0" y1="220.1" x2="255.9" y2="215.9" stroke="#40d8a8" stroke-width="2.6"/><line x1="255.9" y1="215.9" x2="277.9" y2="211.8" stroke="#7a3c14" stroke-width="2.6"/>
<line x1="234.0" y1="220.1" x2="221.1" y2="223.6" stroke="#40d8a8" stroke-width="2.6"/><line x1="221.1" y1="223.6" x2="208.2" y2="227.2" stroke="#7a3c14" stroke-width="2.6"/>
<line x1="107.2" y1="141.7" x2="111.2" y2="154.6" stroke="#e02020" stroke-width="2.6"/><line x1="111.2" y1="154.6" x2="115.1" y2="167.6" stroke="#5d6068" stroke-width="2.6"/>
<line x1="165.4" y1="123.5" x2="159.4" y2="144.6" stroke="#e02020" stroke-width="2.6"/><line x1="159.4" y1="144.6" x2="153.3" y2="165.6" stroke="#5d6068" stroke-width="2.6"/>
<line x1="132.4" y1="69.8" x2="138.2" y2="75.7" stroke="#2f8f2f" stroke-width="3.0"/><line x1="138.2" y1="75.7" x2="144.0" y2="81.5" stroke="#2f8f2f" stroke-width="3.0"/>
<line x1="144.0" y1="81.5" x2="141.1" y2="90.5" stroke="#2f8f2f" stroke-width="3.0"/><line x1="141.1" y1="90.5" x2="138.2" y2="99.6" stroke="#2f8f2f" stroke-width="3.0"/>
<line x1="138.2" y1="99.6" x2="144.3" y2="105.1" stroke="#2f8f2f" stroke-width="3.0"/><line x1="144.3" y1="105.1" x2="150.5" y2="110.6" stroke="#2f8f2f" stroke-width="3.0"/>
<line x1="150.5" y1="110.6" x2="147.9" y2="119.3" stroke="#2f8f2f" stroke-width="3.0"/><line x1="147.9" y1="119.3" x2="145.3" y2="128.1" stroke="#a8b0e0" stroke-width="3.0"/>
<line x1="137.6" y1="56.8" x2="135.0" y2="63.3" stroke="#f0d0d0" stroke-width="2.0"/><line x1="135.0" y1="63.3" x2="132.4" y2="69.8" stroke="#2f8f2f" stroke-width="2.0"/>
<line x1="120.7" y1="69.8" x2="126.6" y2="69.8" stroke="#f0d0d0" stroke-width="2.0"/><line x1="126.6" y1="69.8" x2="132.4" y2="69.8" stroke="#2f8f2f" stroke-width="2.0"/>
<line x1="131.7" y1="74.3" x2="132.1" y2="72.0" stroke="#f0d0d0" stroke-width="2.0"/><line x1="132.1" y1="72.0" x2="132.4" y2="69.8" stroke="#2f8f2f" stroke-width="2.0"/>
<line x1="144.7" y1="76.3" x2="144.3" y2="78.9" stroke="#f0d0d0" stroke-width="2.0"/><line x1="144.3" y1="78.9" x2="144.0" y2="81.5" stroke="#2f8f2f" stroke-width="2.0"/>
<line x1="156.3" y1="80.8" x2="150.2" y2="81.2" stroke="#f0d0d0" stroke-width="2.0"/><line x1="150.2" y1="81.2" x2="144.0" y2="81.5" stroke="#2f8f2f" stroke-width="2.0"/>
<line x1="125.9" y1="100.9" x2="132.1" y2="100.2" stroke="#f0d0d0" stroke-width="2.0"/><line x1="132.1" y1="100.2" x2="138.2" y2="99.6" stroke="#2f8f2f" stroke-width="2.0"/>
<line x1="137.6" y1="105.4" x2="137.9" y2="102.5" stroke="#f0d0d0" stroke-width="2.0"/><line x1="137.9" y1="102.5" x2="138.2" y2="99.6" stroke="#2f8f2f" stroke-width="2.0"/>
<line x1="150.5" y1="104.1" x2="150.5" y2="107.3" stroke="#f0d0d0" stroke-width="2.0"/><line x1="150.5" y1="107.3" x2="150.5" y2="110.6" stroke="#2f8f2f" stroke-width="2.0"/>
<line x1="162.2" y1="110.0" x2="156.3" y2="110.3" stroke="#f0d0d0" stroke-width="2.0"/><line x1="156.3" y1="110.3" x2="150.5" y2="110.6" stroke="#2f8f2f" stroke-width="2.0"/>
<line x1="131.7" y1="130.7" x2="138.5" y2="129.4" stroke="#f0d0d0" stroke-width="2.0"/><line x1="138.5" y1="129.4" x2="145.3" y2="128.1" stroke="#a8b0e0" stroke-width="2.0"/>
<line x1="149.9" y1="132.0" x2="147.6" y2="130.1" stroke="#f0d0d0" stroke-width="2.0"/><line x1="147.6" y1="130.1" x2="145.3" y2="128.1" stroke="#a8b0e0" stroke-width="2.0"/>
<line x1="149.9" y1="135.9" x2="147.6" y2="132.0" stroke="#f0d0d0" stroke-width="2.0"/><line x1="147.6" y1="132.0" x2="145.3" y2="128.1" stroke="#a8b0e0" stroke-width="2.0"/>
<line x1="171.9" y1="87.3" x2="177.7" y2="93.4" stroke="#2f8f2f" stroke-width="3.0"/><line x1="177.7" y1="93.4" x2="183.5" y2="99.6" stroke="#2f8f2f" stroke-width="3.0"/>
<line x1="183.5" y1="99.6" x2="179.9" y2="108.7" stroke="#2f8f2f" stroke-width="3.0"/><line x1="179.9" y1="108.7" x2="176.4" y2="117.7" stroke="#2f8f2f" stroke-width="3.0"/>
<line x1="176.4" y1="117.7" x2="182.2" y2="123.2" stroke="#2f8f2f" stroke-width="3.0"/><line x1="182.2" y1="123.2" x2="188.1" y2="128.7" stroke="#2f8f2f" stroke-width="3.0"/>
<line x1="188.1" y1="128.7" x2="186.1" y2="137.4" stroke="#2f8f2f" stroke-width="3.0"/><line x1="186.1" y1="137.4" x2="184.2" y2="146.2" stroke="#a8b0e0" stroke-width="3.0"/>
<line x1="177.7" y1="75.0" x2="174.8" y2="81.2" stroke="#f0d0d0" stroke-width="2.0"/><line x1="174.8" y1="81.2" x2="171.9" y2="87.3" stroke="#2f8f2f" stroke-width="2.0"/>
<line x1="160.2" y1="86.6" x2="166.1" y2="86.9" stroke="#f0d0d0" stroke-width="2.0"/><line x1="166.1" y1="86.9" x2="171.9" y2="87.3" stroke="#2f8f2f" stroke-width="2.0"/>
<line x1="171.2" y1="91.8" x2="171.6" y2="89.5" stroke="#f0d0d0" stroke-width="2.0"/><line x1="171.6" y1="89.5" x2="171.9" y2="87.3" stroke="#2f8f2f" stroke-width="2.0"/>
<line x1="184.2" y1="95.1" x2="183.8" y2="97.3" stroke="#f0d0d0" stroke-width="2.0"/><line x1="183.8" y1="97.3" x2="183.5" y2="99.6" stroke="#2f8f2f" stroke-width="2.0"/>
<line x1="195.9" y1="99.6" x2="189.7" y2="99.6" stroke="#f0d0d0" stroke-width="2.0"/><line x1="189.7" y1="99.6" x2="183.5" y2="99.6" stroke="#2f8f2f" stroke-width="2.0"/>
<line x1="163.5" y1="118.4" x2="169.9" y2="118.1" stroke="#f0d0d0" stroke-width="2.0"/><line x1="169.9" y1="118.1" x2="176.4" y2="117.7" stroke="#2f8f2f" stroke-width="2.0"/>
<line x1="175.8" y1="123.5" x2="176.1" y2="120.6" stroke="#f0d0d0" stroke-width="2.0"/><line x1="176.1" y1="120.6" x2="176.4" y2="117.7" stroke="#2f8f2f" stroke-width="2.0"/>
<line x1="189.4" y1="122.9" x2="188.8" y2="125.8" stroke="#f0d0d0" stroke-width="2.0"/><line x1="188.8" y1="125.8" x2="188.1" y2="128.7" stroke="#2f8f2f" stroke-width="2.0"/>
<line x1="200.4" y1="128.7" x2="194.2" y2="128.7" stroke="#f0d0d0" stroke-width="2.0"/><line x1="194.2" y1="128.7" x2="188.1" y2="128.7" stroke="#2f8f2f" stroke-width="2.0"/>
<line x1="170.0" y1="148.8" x2="177.1" y2="147.5" stroke="#f0d0d0" stroke-width="2.0"/><line x1="177.1" y1="147.5" x2="184.2" y2="146.2" stroke="#a8b0e0" stroke-width="2.0"/>
<line x1="188.1" y1="154.0" x2="186.1" y2="150.1" stroke="#f0d0d0" stroke-width="2.0"/><line x1="186.1" y1="150.1" x2="184.2" y2="146.2" stroke="#a8b0e0" stroke-width="2.0"/>
<line x1="189.4" y1="150.1" x2="186.8" y2="148.1" stroke="#f0d0d0" stroke-width="2.0"/><line x1="186.8" y1="148.1" x2="184.2" y2="146.2" stroke="#a8b0e0" stroke-width="2.0"/>
<line x1="196.5" y1="58.1" x2="201.3" y2="64.2" stroke="#2f8f2f" stroke-width="3.0"/><line x1="201.3" y1="64.2" x2="206.2" y2="70.4" stroke="#2f8f2f" stroke-width="3.0"/>
<line x1="206.2" y1="70.4" x2="203.3" y2="79.5" stroke="#2f8f2f" stroke-width="3.0"/><line x1="203.3" y1="79.5" x2="200.4" y2="88.6" stroke="#2f8f2f" stroke-width="3.0"/>
<line x1="200.4" y1="88.6" x2="205.6" y2="94.1" stroke="#2f8f2f" stroke-width="3.0"/><line x1="205.6" y1="94.1" x2="210.8" y2="99.6" stroke="#2f8f2f" stroke-width="3.0"/>
<line x1="210.8" y1="99.6" x2="208.2" y2="108.7" stroke="#2f8f2f" stroke-width="3.0"/><line x1="208.2" y1="108.7" x2="205.6" y2="117.7" stroke="#a8b0e0" stroke-width="3.0"/>
<line x1="201.0" y1="45.8" x2="198.8" y2="52.0" stroke="#f0d0d0" stroke-width="2.0"/><line x1="198.8" y1="52.0" x2="196.5" y2="58.1" stroke="#2f8f2f" stroke-width="2.0"/>
<line x1="182.9" y1="57.5" x2="189.7" y2="57.8" stroke="#f0d0d0" stroke-width="2.0"/><line x1="189.7" y1="57.8" x2="196.5" y2="58.1" stroke="#2f8f2f" stroke-width="2.0"/>
<line x1="195.2" y1="62.7" x2="195.8" y2="60.4" stroke="#f0d0d0" stroke-width="2.0"/><line x1="195.8" y1="60.4" x2="196.5" y2="58.1" stroke="#2f8f2f" stroke-width="2.0"/>
<line x1="206.9" y1="65.9" x2="206.6" y2="68.2" stroke="#f0d0d0" stroke-width="2.0"/><line x1="206.6" y1="68.2" x2="206.2" y2="70.4" stroke="#2f8f2f" stroke-width="2.0"/>
<line x1="218.5" y1="70.4" x2="212.3" y2="70.4" stroke="#f0d0d0" stroke-width="2.0"/><line x1="212.3" y1="70.4" x2="206.2" y2="70.4" stroke="#2f8f2f" stroke-width="2.0"/>
<line x1="188.1" y1="89.2" x2="194.2" y2="88.9" stroke="#f0d0d0" stroke-width="2.0"/><line x1="194.2" y1="88.9" x2="200.4" y2="88.6" stroke="#2f8f2f" stroke-width="2.0"/>
<line x1="201.0" y1="93.8" x2="200.7" y2="91.2" stroke="#f0d0d0" stroke-width="2.0"/><line x1="200.7" y1="91.2" x2="200.4" y2="88.6" stroke="#2f8f2f" stroke-width="2.0"/>
<line x1="210.1" y1="95.1" x2="210.4" y2="97.3" stroke="#f0d0d0" stroke-width="2.0"/><line x1="210.4" y1="97.3" x2="210.8" y2="99.6" stroke="#2f8f2f" stroke-width="2.0"/>
<line x1="223.1" y1="98.9" x2="216.9" y2="99.2" stroke="#f0d0d0" stroke-width="2.0"/><line x1="216.9" y1="99.2" x2="210.8" y2="99.6" stroke="#2f8f2f" stroke-width="2.0"/>
<line x1="192.0" y1="119.7" x2="198.8" y2="118.7" stroke="#f0d0d0" stroke-width="2.0"/><line x1="198.8" y1="118.7" x2="205.6" y2="117.7" stroke="#a8b0e0" stroke-width="2.0"/>
<line x1="209.5" y1="124.2" x2="207.6" y2="121.0" stroke="#f0d0d0" stroke-width="2.0"/><line x1="207.6" y1="121.0" x2="205.6" y2="117.7" stroke="#a8b0e0" stroke-width="2.0"/>
<line x1="212.7" y1="123.5" x2="209.1" y2="120.6" stroke="#f0d0d0" stroke-width="2.0"/><line x1="209.1" y1="120.6" x2="205.6" y2="117.7" stroke="#a8b0e0" stroke-width="2.0"/>
<line x1="233.4" y1="74.3" x2="238.6" y2="80.4" stroke="#2f8f2f" stroke-width="3.0"/><line x1="238.6" y1="80.4" x2="243.8" y2="86.6" stroke="#2f8f2f" stroke-width="3.0"/>
<line x1="243.8" y1="86.6" x2="240.6" y2="95.7" stroke="#2f8f2f" stroke-width="3.0"/><line x1="240.6" y1="95.7" x2="237.3" y2="104.8" stroke="#2f8f2f" stroke-width="3.0"/>
<line x1="237.3" y1="104.8" x2="243.2" y2="110.6" stroke="#2f8f2f" stroke-width="3.0"/><line x1="243.2" y1="110.6" x2="249.0" y2="116.4" stroke="#2f8f2f" stroke-width="3.0"/>
<line x1="249.0" y1="116.4" x2="246.4" y2="124.9" stroke="#2f8f2f" stroke-width="3.0"/><line x1="246.4" y1="124.9" x2="243.8" y2="133.3" stroke="#a8b0e0" stroke-width="3.0"/>
<line x1="239.2" y1="61.4" x2="236.3" y2="67.8" stroke="#f0d0d0" stroke-width="2.0"/><line x1="236.3" y1="67.8" x2="233.4" y2="74.3" stroke="#2f8f2f" stroke-width="2.0"/>
<line x1="220.5" y1="73.7" x2="226.9" y2="74.0" stroke="#f0d0d0" stroke-width="2.0"/><line x1="226.9" y1="74.0" x2="233.4" y2="74.3" stroke="#2f8f2f" stroke-width="2.0"/>
<line x1="232.8" y1="78.2" x2="233.1" y2="76.2" stroke="#f0d0d0" stroke-width="2.0"/><line x1="233.1" y1="76.2" x2="233.4" y2="74.3" stroke="#2f8f2f" stroke-width="2.0"/>
<line x1="244.4" y1="82.1" x2="244.1" y2="84.3" stroke="#f0d0d0" stroke-width="2.0"/><line x1="244.1" y1="84.3" x2="243.8" y2="86.6" stroke="#2f8f2f" stroke-width="2.0"/>
<line x1="256.7" y1="86.6" x2="250.2" y2="86.6" stroke="#f0d0d0" stroke-width="2.0"/><line x1="250.2" y1="86.6" x2="243.8" y2="86.6" stroke="#2f8f2f" stroke-width="2.0"/>
<line x1="223.7" y1="106.1" x2="230.5" y2="105.4" stroke="#f0d0d0" stroke-width="2.0"/><line x1="230.5" y1="105.4" x2="237.3" y2="104.8" stroke="#2f8f2f" stroke-width="2.0"/>
<line x1="237.3" y1="110.0" x2="237.3" y2="107.4" stroke="#f0d0d0" stroke-width="2.0"/><line x1="237.3" y1="107.4" x2="237.3" y2="104.8" stroke="#2f8f2f" stroke-width="2.0"/>
<line x1="247.7" y1="111.2" x2="248.3" y2="113.8" stroke="#f0d0d0" stroke-width="2.0"/><line x1="248.3" y1="113.8" x2="249.0" y2="116.4" stroke="#2f8f2f" stroke-width="2.0"/>
<line x1="260.6" y1="115.1" x2="254.8" y2="115.8" stroke="#f0d0d0" stroke-width="2.0"/><line x1="254.8" y1="115.8" x2="249.0" y2="116.4" stroke="#2f8f2f" stroke-width="2.0"/>
<line x1="230.8" y1="135.9" x2="237.3" y2="134.6" stroke="#f0d0d0" stroke-width="2.0"/><line x1="237.3" y1="134.6" x2="243.8" y2="133.3" stroke="#a8b0e0" stroke-width="2.0"/>
<line x1="247.7" y1="139.7" x2="245.8" y2="136.5" stroke="#f0d0d0" stroke-width="2.0"/><line x1="245.8" y1="136.5" x2="243.8" y2="133.3" stroke="#a8b0e0" stroke-width="2.0"/>
<line x1="250.3" y1="139.1" x2="247.1" y2="136.2" stroke="#f0d0d0" stroke-width="2.0"/><line x1="247.1" y1="136.2" x2="243.8" y2="133.3" stroke="#a8b0e0" stroke-width="2.0"/>
<circle cx="203.3" cy="214.4" r="9.2" fill="#5e6068" stroke="#3a3b40" stroke-width="0.8"/>
<circle cx="180.8" cy="209.4" r="6.1" fill="#8b461a" stroke="#4a2410" stroke-width="0.8"/>
<circle cx="119.5" cy="252.8" r="9.2" fill="#5e6068" stroke="#3a3b40" stroke-width="0.8"/>
<circle cx="143.8" cy="360.0" r="9.2" fill="#5e6068" stroke="#3a3b40" stroke-width="0.8"/>
<circle cx="204.5" cy="353.9" r="9.2" fill="#5e6068" stroke="#3a3b40" stroke-width="0.8"/>
<circle cx="216.9" cy="329.5" r="9.2" fill="#5e6068" stroke="#3a3b40" stroke-width="0.8"/>
<circle cx="158.6" cy="341.8" r="9.2" fill="#5e6068" stroke="#3a3b40" stroke-width="0.8"/>
<circle cx="120.2" cy="324.3" r="9.2" fill="#5e6068" stroke="#3a3b40" stroke-width="0.8"/>
<circle cx="180.9" cy="312.8" r="9.2" fill="#5e6068" stroke="#3a3b40" stroke-width="0.8"/>
<circle cx="142.5" cy="296.0" r="9.2" fill="#5e6068" stroke="#3a3b40" stroke-width="0.8"/>
<circle cx="204.3" cy="284.2" r="9.2" fill="#5e6068" stroke="#3a3b40" stroke-width="0.8"/>
<circle cx="242.6" cy="301.3" r="9.2" fill="#5e6068" stroke="#3a3b40" stroke-width="0.8"/>
<circle cx="281.7" cy="318.9" r="9.2" fill="#5e6068" stroke="#3a3b40" stroke-width="0.8"/>
<circle cx="81.1" cy="307.4" r="9.2" fill="#5e6068" stroke="#3a3b40" stroke-width="0.8"/>
<circle cx="217.6" cy="259.0" r="9.2" fill="#5e6068" stroke="#3a3b40" stroke-width="0.8"/>
<circle cx="178.7" cy="222.4" r="9.2" fill="#5e6068" stroke="#3a3b40" stroke-width="0.8"/>
<circle cx="150.6" cy="246.7" r="13.8" fill="#25f0b9" stroke="#177a5c" stroke-width="0.8"/>
<circle cx="131.7" cy="275.7" r="13.8" fill="#25f0b9" stroke="#177a5c" stroke-width="0.8"/>
<circle cx="170.1" cy="291.9" r="13.8" fill="#25f0b9" stroke="#177a5c" stroke-width="0.8"/>
<circle cx="193.9" cy="334.4" r="13.8" fill="#25f0b9" stroke="#177a5c" stroke-width="0.8"/>
<circle cx="131.7" cy="342.5" r="13.8" fill="#25f0b9" stroke="#177a5c" stroke-width="0.8"/>
<circle cx="170.8" cy="357.3" r="13.8" fill="#25f0b9" stroke="#177a5c" stroke-width="0.8"/>
<circle cx="231.8" cy="349.2" r="13.8" fill="#25f0b9" stroke="#177a5c" stroke-width="0.8"/>
<circle cx="232.0" cy="278.0" r="13.8" fill="#25f0b9" stroke="#177a5c" stroke-width="0.8"/>
<circle cx="192.9" cy="261.0" r="13.8" fill="#25f0b9" stroke="#177a5c" stroke-width="0.8"/>
<circle cx="115.1" cy="167.6" r="9.2" fill="#5e6068" stroke="#3a3b40" stroke-width="0.8"/>
<circle cx="153.3" cy="165.6" r="9.2" fill="#5e6068" stroke="#3a3b40" stroke-width="0.8"/>
<circle cx="141.7" cy="174.7" r="9.2" fill="#5e6068" stroke="#3a3b40" stroke-width="0.8"/>
<circle cx="178.0" cy="183.2" r="9.2" fill="#5e6068" stroke="#3a3b40" stroke-width="0.8"/>
<circle cx="111.5" cy="242.0" r="6.1" fill="#8b461a" stroke="#4a2410" stroke-width="0.8"/>
<circle cx="86.5" cy="255.5" r="6.1" fill="#8b461a" stroke="#4a2410" stroke-width="0.8"/>
<circle cx="99.3" cy="254.2" r="6.1" fill="#8b461a" stroke="#4a2410" stroke-width="0.8"/>
<circle cx="137.7" cy="269.0" r="6.1" fill="#8b461a" stroke="#4a2410" stroke-width="0.8"/>
<circle cx="142.5" cy="259.5" r="6.1" fill="#8b461a" stroke="#4a2410" stroke-width="0.8"/>
<circle cx="150.6" cy="253.5" r="6.1" fill="#8b461a" stroke="#4a2410" stroke-width="0.8"/>
<circle cx="81.1" cy="271.7" r="6.1" fill="#8b461a" stroke="#4a2410" stroke-width="0.8"/>
<circle cx="62.2" cy="298.6" r="6.1" fill="#8b461a" stroke="#4a2410" stroke-width="0.8"/>
<circle cx="50.1" cy="313.5" r="6.1" fill="#8b461a" stroke="#4a2410" stroke-width="0.8"/>
<circle cx="111.5" cy="301.3" r="6.1" fill="#8b461a" stroke="#4a2410" stroke-width="0.8"/>
<circle cx="120.2" cy="289.9" r="6.1" fill="#8b461a" stroke="#4a2410" stroke-width="0.8"/>
<circle cx="158.6" cy="306.7" r="6.1" fill="#8b461a" stroke="#4a2410" stroke-width="0.8"/>
<circle cx="211.4" cy="307.4" r="6.1" fill="#8b461a" stroke="#4a2410" stroke-width="0.8"/>
<circle cx="218.0" cy="294.0" r="6.1" fill="#8b461a" stroke="#4a2410" stroke-width="0.8"/>
<circle cx="100.7" cy="316.2" r="6.1" fill="#8b461a" stroke="#4a2410" stroke-width="0.8"/>
<circle cx="150.6" cy="318.9" r="6.1" fill="#8b461a" stroke="#4a2410" stroke-width="0.8"/>
<circle cx="89.9" cy="330.3" r="6.1" fill="#8b461a" stroke="#4a2410" stroke-width="0.8"/>
<circle cx="81.1" cy="343.1" r="6.1" fill="#8b461a" stroke="#4a2410" stroke-width="0.8"/>
<circle cx="139.8" cy="333.0" r="6.1" fill="#8b461a" stroke="#4a2410" stroke-width="0.8"/>
<circle cx="128.3" cy="347.9" r="6.1" fill="#8b461a" stroke="#4a2410" stroke-width="0.8"/>
<circle cx="189.7" cy="336.4" r="6.1" fill="#8b461a" stroke="#4a2410" stroke-width="0.8"/>
<circle cx="202.0" cy="321.2" r="6.1" fill="#8b461a" stroke="#4a2410" stroke-width="0.8"/>
<circle cx="180.2" cy="350.6" r="6.1" fill="#8b461a" stroke="#4a2410" stroke-width="0.8"/>
<circle cx="120.9" cy="358.6" r="6.1" fill="#8b461a" stroke="#4a2410" stroke-width="0.8"/>
<circle cx="219.7" cy="295.3" r="6.1" fill="#8b461a" stroke="#4a2410" stroke-width="0.8"/>
<circle cx="272.9" cy="296.0" r="6.1" fill="#8b461a" stroke="#4a2410" stroke-width="0.8"/>
<circle cx="281.0" cy="283.1" r="6.1" fill="#8b461a" stroke="#4a2410" stroke-width="0.8"/>
<circle cx="261.5" cy="310.1" r="6.1" fill="#8b461a" stroke="#4a2410" stroke-width="0.8"/>
<circle cx="312.0" cy="313.5" r="6.1" fill="#8b461a" stroke="#4a2410" stroke-width="0.8"/>
<circle cx="300.6" cy="327.6" r="6.1" fill="#8b461a" stroke="#4a2410" stroke-width="0.8"/>
<circle cx="250.7" cy="324.9" r="6.1" fill="#8b461a" stroke="#4a2410" stroke-width="0.8"/>
<circle cx="240.6" cy="339.1" r="6.1" fill="#8b461a" stroke="#4a2410" stroke-width="0.8"/>
<circle cx="281.7" cy="354.6" r="6.1" fill="#8b461a" stroke="#4a2410" stroke-width="0.8"/>
<circle cx="209.9" cy="233.7" r="6.1" fill="#8b461a" stroke="#4a2410" stroke-width="0.8"/>
<circle cx="222.4" cy="233.7" r="6.1" fill="#8b461a" stroke="#4a2410" stroke-width="0.8"/>
<circle cx="201.3" cy="247.5" r="6.1" fill="#8b461a" stroke="#4a2410" stroke-width="0.8"/>
<circle cx="260.4" cy="245.5" r="6.1" fill="#8b461a" stroke="#4a2410" stroke-width="0.8"/>
<circle cx="250.4" cy="258.2" r="6.1" fill="#8b461a" stroke="#4a2410" stroke-width="0.8"/>
<circle cx="242.2" cy="265.0" r="6.1" fill="#8b461a" stroke="#4a2410" stroke-width="0.8"/>
<circle cx="241.2" cy="271.5" r="6.1" fill="#8b461a" stroke="#4a2410" stroke-width="0.8"/>
<circle cx="188.5" cy="275.0" r="6.1" fill="#8b461a" stroke="#4a2410" stroke-width="0.8"/>
<circle cx="179.8" cy="276.5" r="6.1" fill="#8b461a" stroke="#4a2410" stroke-width="0.8"/>
<circle cx="129.4" cy="219.4" r="13.8" fill="#25f0b9" stroke="#177a5c" stroke-width="0.8"/>
<circle cx="169.8" cy="235.0" r="13.8" fill="#25f0b9" stroke="#177a5c" stroke-width="0.8"/>
<circle cx="195.2" cy="200.5" r="13.8" fill="#25f0b9" stroke="#177a5c" stroke-width="0.8"/>
<circle cx="234.0" cy="220.1" r="13.8" fill="#25f0b9" stroke="#177a5c" stroke-width="0.8"/>
<circle cx="130.7" cy="191.9" r="6.1" fill="#8b461a" stroke="#4a2410" stroke-width="0.8"/>
<circle cx="164.4" cy="203.7" r="6.1" fill="#8b461a" stroke="#4a2410" stroke-width="0.8"/>
<circle cx="200.7" cy="176.7" r="6.1" fill="#8b461a" stroke="#4a2410" stroke-width="0.8"/>
<circle cx="237.4" cy="192.9" r="6.1" fill="#8b461a" stroke="#4a2410" stroke-width="0.8"/>
<circle cx="277.9" cy="211.8" r="6.1" fill="#8b461a" stroke="#4a2410" stroke-width="0.8"/>
<circle cx="115.1" cy="216.8" r="6.1" fill="#8b461a" stroke="#4a2410" stroke-width="0.8"/>
<circle cx="111.2" cy="240.1" r="6.1" fill="#8b461a" stroke="#4a2410" stroke-width="0.8"/>
<circle cx="155.4" cy="235.0" r="6.1" fill="#8b461a" stroke="#4a2410" stroke-width="0.8"/>
<circle cx="208.2" cy="227.2" r="6.1" fill="#8b461a" stroke="#4a2410" stroke-width="0.8"/>
<circle cx="137.6" cy="56.8" r="2.9" fill="#f8e0e0" stroke="#c09898" stroke-width="0.8"/>
<circle cx="120.7" cy="69.8" r="2.9" fill="#f8e0e0" stroke="#c09898" stroke-width="0.8"/>
<circle cx="132.4" cy="69.8" r="4.8" fill="#2a8a2a" stroke="#1a4a1a" stroke-width="0.8"/>
<circle cx="131.7" cy="74.3" r="2.9" fill="#f8e0e0" stroke="#c09898" stroke-width="0.8"/>
<circle cx="144.7" cy="76.3" r="2.9" fill="#f8e0e0" stroke="#c09898" stroke-width="0.8"/>
<circle cx="144.0" cy="81.5" r="4.8" fill="#2a8a2a" stroke="#1a4a1a" stroke-width="0.8"/>
<circle cx="156.3" cy="80.8" r="2.9" fill="#f8e0e0" stroke="#c09898" stroke-width="0.8"/>
<circle cx="138.2" cy="99.6" r="4.8" fill="#2a8a2a" stroke="#1a4a1a" stroke-width="0.8"/>
<circle cx="125.9" cy="100.9" r="2.9" fill="#f8e0e0" stroke="#c09898" stroke-width="0.8"/>
<circle cx="137.6" cy="105.4" r="2.9" fill="#f8e0e0" stroke="#c09898" stroke-width="0.8"/>
<circle cx="150.5" cy="104.1" r="2.9" fill="#f8e0e0" stroke="#c09898" stroke-width="0.8"/>
<circle cx="150.5" cy="110.6" r="4.8" fill="#2a8a2a" stroke="#1a4a1a" stroke-width="0.8"/>
<circle cx="162.2" cy="110.0" r="2.9" fill="#f8e0e0" stroke="#c09898" stroke-width="0.8"/>
<circle cx="145.3" cy="128.1" r="4.8" fill="#b2b8e8" stroke="#7a80a8" stroke-width="0.8"/>
<circle cx="131.7" cy="130.7" r="2.9" fill="#f8e0e0" stroke="#c09898" stroke-width="0.8"/>
<circle cx="149.9" cy="132.0" r="2.9" fill="#f8e0e0" stroke="#c09898" stroke-width="0.8"/>
<circle cx="149.9" cy="135.9" r="2.9" fill="#f8e0e0" stroke="#c09898" stroke-width="0.8"/>
<circle cx="177.7" cy="75.0" r="2.9" fill="#f8e0e0" stroke="#c09898" stroke-width="0.8"/>
<circle cx="160.2" cy="86.6" r="2.9" fill="#f8e0e0" stroke="#c09898" stroke-width="0.8"/>
<circle cx="171.9" cy="87.3" r="4.8" fill="#2a8a2a" stroke="#1a4a1a" stroke-width="0.8"/>
<circle cx="171.2" cy="91.8" r="2.9" fill="#f8e0e0" stroke="#c09898" stroke-width="0.8"/>
<circle cx="183.5" cy="99.6" r="4.8" fill="#2a8a2a" stroke="#1a4a1a" stroke-width="0.8"/>
<circle cx="184.2" cy="95.1" r="2.9" fill="#f8e0e0" stroke="#c09898" stroke-width="0.8"/>
<circle cx="195.9" cy="99.6" r="2.9" fill="#f8e0e0" stroke="#c09898" stroke-width="0.8"/>
<circle cx="176.4" cy="117.7" r="4.8" fill="#2a8a2a" stroke="#1a4a1a" stroke-width="0.8"/>
<circle cx="163.5" cy="118.4" r="2.9" fill="#f8e0e0" stroke="#c09898" stroke-width="0.8"/>
<circle cx="175.8" cy="123.5" r="2.9" fill="#f8e0e0" stroke="#c09898" stroke-width="0.8"/>
<circle cx="188.1" cy="128.7" r="4.8" fill="#2a8a2a" stroke="#1a4a1a" stroke-width="0.8"/>
<circle cx="189.4" cy="122.9" r="2.9" fill="#f8e0e0" stroke="#c09898" stroke-width="0.8"/>
<circle cx="200.4" cy="128.7" r="2.9" fill="#f8e0e0" stroke="#c09898" stroke-width="0.8"/>
<circle cx="184.2" cy="146.2" r="4.8" fill="#b2b8e8" stroke="#7a80a8" stroke-width="0.8"/>
<circle cx="170.0" cy="148.8" r="2.9" fill="#f8e0e0" stroke="#c09898" stroke-width="0.8"/>
<circle cx="188.1" cy="154.0" r="2.9" fill="#f8e0e0" stroke="#c09898" stroke-width="0.8"/>
<circle cx="189.4" cy="150.1" r="2.9" fill="#f8e0e0" stroke="#c09898" stroke-width="0.8"/>
<circle cx="201.0" cy="45.8" r="2.9" fill="#f8e0e0" stroke="#c09898" stroke-width="0.8"/>
<circle cx="182.9" cy="57.5" r="2.9" fill="#f8e0e0" stroke="#c09898" stroke-width="0.8"/>
<circle cx="196.5" cy="58.1" r="4.8" fill="#2a8a2a" stroke="#1a4a1a" stroke-width="0.8"/>
<circle cx="195.2" cy="62.7" r="2.9" fill="#f8e0e0" stroke="#c09898" stroke-width="0.8"/>
<circle cx="206.2" cy="70.4" r="4.8" fill="#2a8a2a" stroke="#1a4a1a" stroke-width="0.8"/>
<circle cx="206.9" cy="65.9" r="2.9" fill="#f8e0e0" stroke="#c09898" stroke-width="0.8"/>
<circle cx="218.5" cy="70.4" r="2.9" fill="#f8e0e0" stroke="#c09898" stroke-width="0.8"/>
<circle cx="200.4" cy="88.6" r="4.8" fill="#2a8a2a" stroke="#1a4a1a" stroke-width="0.8"/>
<circle cx="188.1" cy="89.2" r="2.9" fill="#f8e0e0" stroke="#c09898" stroke-width="0.8"/>
<circle cx="201.0" cy="93.8" r="2.9" fill="#f8e0e0" stroke="#c09898" stroke-width="0.8"/>
<circle cx="210.8" cy="99.6" r="4.8" fill="#2a8a2a" stroke="#1a4a1a" stroke-width="0.8"/>
<circle cx="210.1" cy="95.1" r="2.9" fill="#f8e0e0" stroke="#c09898" stroke-width="0.8"/>
<circle cx="223.1" cy="98.9" r="2.9" fill="#f8e0e0" stroke="#c09898" stroke-width="0.8"/>
<circle cx="205.6" cy="117.7" r="4.8" fill="#b2b8e8" stroke="#7a80a8" stroke-width="0.8"/>
<circle cx="192.0" cy="119.7" r="2.9" fill="#f8e0e0" stroke="#c09898" stroke-width="0.8"/>
<circle cx="209.5" cy="124.2" r="2.9" fill="#f8e0e0" stroke="#c09898" stroke-width="0.8"/>
<circle cx="212.7" cy="123.5" r="2.9" fill="#f8e0e0" stroke="#c09898" stroke-width="0.8"/>
<circle cx="239.2" cy="61.4" r="2.9" fill="#f8e0e0" stroke="#c09898" stroke-width="0.8"/>
<circle cx="220.5" cy="73.7" r="2.9" fill="#f8e0e0" stroke="#c09898" stroke-width="0.8"/>
<circle cx="233.4" cy="74.3" r="4.8" fill="#2a8a2a" stroke="#1a4a1a" stroke-width="0.8"/>
<circle cx="232.8" cy="78.2" r="2.9" fill="#f8e0e0" stroke="#c09898" stroke-width="0.8"/>
<circle cx="243.8" cy="86.6" r="4.8" fill="#2a8a2a" stroke="#1a4a1a" stroke-width="0.8"/>
<circle cx="244.4" cy="82.1" r="2.9" fill="#f8e0e0" stroke="#c09898" stroke-width="0.8"/>
<circle cx="256.7" cy="86.6" r="2.9" fill="#f8e0e0" stroke="#c09898" stroke-width="0.8"/>
<circle cx="237.3" cy="104.8" r="4.8" fill="#2a8a2a" stroke="#1a4a1a" stroke-width="0.8"/>
<circle cx="223.7" cy="106.1" r="2.9" fill="#f8e0e0" stroke="#c09898" stroke-width="0.8"/>
<circle cx="237.3" cy="110.0" r="2.9" fill="#f8e0e0" stroke="#c09898" stroke-width="0.8"/>
<circle cx="249.0" cy="116.4" r="4.8" fill="#2a8a2a" stroke="#1a4a1a" stroke-width="0.8"/>
<circle cx="247.7" cy="111.2" r="2.9" fill="#f8e0e0" stroke="#c09898" stroke-width="0.8"/>
<circle cx="260.6" cy="115.1" r="2.9" fill="#f8e0e0" stroke="#c09898" stroke-width="0.8"/>
<circle cx="243.8" cy="133.3" r="4.8" fill="#b2b8e8" stroke="#7a80a8" stroke-width="0.8"/>
<circle cx="230.8" cy="135.9" r="2.9" fill="#f8e0e0" stroke="#c09898" stroke-width="0.8"/>
<circle cx="247.7" cy="139.7" r="2.9" fill="#f8e0e0" stroke="#c09898" stroke-width="0.8"/>
<circle cx="250.3" cy="139.1" r="2.9" fill="#f8e0e0" stroke="#c09898" stroke-width="0.8"/>
<circle cx="165.4" cy="123.5" r="5.8" fill="#ff1010" stroke="#8a0a0a" stroke-width="0.8"/>
<circle cx="204.9" cy="139.7" r="5.8" fill="#ff1010" stroke="#8a0a0a" stroke-width="0.8"/>
<circle cx="107.2" cy="141.7" r="5.8" fill="#ff1010" stroke="#8a0a0a" stroke-width="0.8"/>
<circle cx="144.5" cy="154.3" r="5.8" fill="#ff1010" stroke="#8a0a0a" stroke-width="0.8"/></g>
<g clip-path="url(#clipB)"><line x1="165.6" y1="611.0" x2="154.2" y2="602.1" stroke="#5d6068" stroke-width="2.6"/><line x1="154.2" y1="602.1" x2="142.9" y2="593.2" stroke="#7a3c14" stroke-width="2.6"/>
<line x1="165.6" y1="611.0" x2="180.1" y2="603.7" stroke="#5d6068" stroke-width="2.6"/><line x1="180.1" y1="603.7" x2="194.7" y2="596.4" stroke="#7a3c14" stroke-width="2.6"/>
<line x1="165.6" y1="611.0" x2="150.4" y2="617.4" stroke="#5d6068" stroke-width="2.6"/><line x1="150.4" y1="617.4" x2="135.3" y2="623.7" stroke="#7a3c14" stroke-width="2.6"/>
<line x1="165.6" y1="611.0" x2="176.6" y2="618.8" stroke="#5d6068" stroke-width="2.6"/><line x1="176.6" y1="618.8" x2="187.7" y2="626.5" stroke="#7a3c14" stroke-width="2.6"/>
<line x1="165.6" y1="611.0" x2="165.6" y2="625.9" stroke="#5d6068" stroke-width="2.6"/><line x1="165.6" y1="625.9" x2="165.6" y2="640.7" stroke="#7a3c14" stroke-width="2.6"/>
<line x1="165.6" y1="611.0" x2="168.9" y2="625.5" stroke="#5d6068" stroke-width="2.6"/><line x1="168.9" y1="625.5" x2="172.2" y2="640.1" stroke="#7a3c14" stroke-width="2.6"/>
<line x1="165.6" y1="611.0" x2="172.8" y2="628.0" stroke="#5d6068" stroke-width="2.6"/><line x1="172.8" y1="628.0" x2="180.0" y2="644.9" stroke="#7a3c14" stroke-width="2.6"/>
<line x1="106.3" y1="622.2" x2="95.8" y2="614.2" stroke="#5d6068" stroke-width="2.6"/><line x1="95.8" y1="614.2" x2="85.3" y2="606.1" stroke="#7a3c14" stroke-width="2.6"/>
<line x1="106.3" y1="622.2" x2="90.9" y2="622.6" stroke="#5d6068" stroke-width="2.6"/><line x1="90.9" y1="622.6" x2="75.5" y2="623.0" stroke="#7a3c14" stroke-width="2.6"/>
<line x1="106.3" y1="622.2" x2="120.8" y2="623.0" stroke="#5d6068" stroke-width="2.6"/><line x1="120.8" y1="623.0" x2="135.3" y2="623.7" stroke="#7a3c14" stroke-width="2.6"/>
<line x1="106.3" y1="622.2" x2="117.4" y2="630.4" stroke="#5d6068" stroke-width="2.6"/><line x1="117.4" y1="630.4" x2="128.5" y2="638.5" stroke="#7a3c14" stroke-width="2.6"/>
<line x1="106.3" y1="622.2" x2="103.8" y2="638.7" stroke="#5d6068" stroke-width="2.6"/><line x1="103.8" y1="638.7" x2="101.2" y2="655.1" stroke="#7a3c14" stroke-width="2.6"/>
<line x1="208.3" y1="627.5" x2="201.5" y2="612.0" stroke="#5d6068" stroke-width="2.6"/><line x1="201.5" y1="612.0" x2="194.7" y2="596.4" stroke="#7a3c14" stroke-width="2.6"/>
<line x1="208.3" y1="627.5" x2="198.0" y2="627.0" stroke="#5d6068" stroke-width="2.6"/><line x1="198.0" y1="627.0" x2="187.7" y2="626.5" stroke="#7a3c14" stroke-width="2.6"/>
<line x1="208.3" y1="627.5" x2="219.4" y2="627.4" stroke="#5d6068" stroke-width="2.6"/><line x1="219.4" y1="627.4" x2="230.4" y2="627.2" stroke="#7a3c14" stroke-width="2.6"/>
<line x1="208.3" y1="627.5" x2="214.4" y2="628.5" stroke="#5d6068" stroke-width="2.6"/><line x1="214.4" y1="628.5" x2="220.6" y2="629.5" stroke="#7a3c14" stroke-width="2.6"/>
<line x1="208.3" y1="627.5" x2="194.2" y2="636.2" stroke="#5d6068" stroke-width="2.6"/><line x1="194.2" y1="636.2" x2="180.0" y2="644.9" stroke="#7a3c14" stroke-width="2.6"/>
<line x1="208.3" y1="627.5" x2="215.7" y2="642.8" stroke="#5d6068" stroke-width="2.6"/><line x1="215.7" y1="642.8" x2="223.0" y2="658.0" stroke="#7a3c14" stroke-width="2.6"/>
<line x1="208.3" y1="627.5" x2="211.9" y2="644.0" stroke="#5d6068" stroke-width="2.6"/><line x1="211.9" y1="644.0" x2="215.5" y2="660.5" stroke="#7a3c14" stroke-width="2.6"/>
<line x1="208.3" y1="627.5" x2="205.6" y2="643.4" stroke="#5d6068" stroke-width="2.6"/><line x1="205.6" y1="643.4" x2="202.8" y2="659.3" stroke="#7a3c14" stroke-width="2.6"/>
<line x1="150.6" y1="639.0" x2="142.9" y2="631.4" stroke="#5d6068" stroke-width="2.6"/><line x1="142.9" y1="631.4" x2="135.3" y2="623.7" stroke="#7a3c14" stroke-width="2.6"/>
<line x1="150.6" y1="639.0" x2="139.6" y2="638.8" stroke="#5d6068" stroke-width="2.6"/><line x1="139.6" y1="638.8" x2="128.5" y2="638.5" stroke="#7a3c14" stroke-width="2.6"/>
<line x1="150.6" y1="639.0" x2="158.1" y2="639.9" stroke="#5d6068" stroke-width="2.6"/><line x1="158.1" y1="639.9" x2="165.6" y2="640.7" stroke="#7a3c14" stroke-width="2.6"/>
<line x1="150.6" y1="639.0" x2="161.4" y2="639.5" stroke="#5d6068" stroke-width="2.6"/><line x1="161.4" y1="639.5" x2="172.2" y2="640.1" stroke="#7a3c14" stroke-width="2.6"/>
<line x1="150.6" y1="639.0" x2="165.3" y2="642.0" stroke="#5d6068" stroke-width="2.6"/><line x1="165.3" y1="642.0" x2="180.0" y2="644.9" stroke="#7a3c14" stroke-width="2.6"/>
<line x1="150.6" y1="639.0" x2="149.6" y2="657.9" stroke="#5d6068" stroke-width="2.6"/><line x1="149.6" y1="657.9" x2="148.7" y2="676.8" stroke="#7a3c14" stroke-width="2.6"/>
<line x1="150.6" y1="639.0" x2="146.6" y2="656.0" stroke="#5d6068" stroke-width="2.6"/><line x1="146.6" y1="656.0" x2="142.7" y2="673.1" stroke="#7a3c14" stroke-width="2.6"/>
<line x1="225.8" y1="670.0" x2="240.4" y2="663.2" stroke="#5d6068" stroke-width="2.6"/><line x1="240.4" y1="663.2" x2="255.0" y2="656.4" stroke="#7a3c14" stroke-width="2.6"/>
<line x1="225.8" y1="670.0" x2="224.4" y2="664.0" stroke="#5d6068" stroke-width="2.6"/><line x1="224.4" y1="664.0" x2="223.0" y2="658.0" stroke="#7a3c14" stroke-width="2.6"/>
<line x1="225.8" y1="670.0" x2="220.7" y2="665.2" stroke="#5d6068" stroke-width="2.6"/><line x1="220.7" y1="665.2" x2="215.5" y2="660.5" stroke="#7a3c14" stroke-width="2.6"/>
<line x1="225.8" y1="670.0" x2="214.3" y2="664.6" stroke="#5d6068" stroke-width="2.6"/><line x1="214.3" y1="664.6" x2="202.8" y2="659.3" stroke="#7a3c14" stroke-width="2.6"/>
<line x1="225.8" y1="670.0" x2="239.4" y2="672.5" stroke="#5d6068" stroke-width="2.6"/><line x1="239.4" y1="672.5" x2="253.0" y2="675.0" stroke="#7a3c14" stroke-width="2.6"/>
<line x1="225.8" y1="670.0" x2="235.7" y2="671.9" stroke="#5d6068" stroke-width="2.6"/><line x1="235.7" y1="671.9" x2="245.5" y2="673.7" stroke="#7a3c14" stroke-width="2.6"/>
<line x1="225.8" y1="670.0" x2="232.7" y2="681.4" stroke="#5d6068" stroke-width="2.6"/><line x1="232.7" y1="681.4" x2="239.5" y2="692.7" stroke="#7a3c14" stroke-width="2.6"/>
<line x1="225.8" y1="670.0" x2="228.7" y2="688.8" stroke="#5d6068" stroke-width="2.6"/><line x1="228.7" y1="688.8" x2="231.5" y2="707.5" stroke="#7a3c14" stroke-width="2.6"/>
<line x1="225.8" y1="670.0" x2="225.4" y2="685.7" stroke="#5d6068" stroke-width="2.6"/><line x1="225.4" y1="685.7" x2="225.1" y2="701.4" stroke="#7a3c14" stroke-width="2.6"/>
<line x1="164.3" y1="682.2" x2="156.5" y2="679.5" stroke="#5d6068" stroke-width="2.6"/><line x1="156.5" y1="679.5" x2="148.7" y2="676.8" stroke="#7a3c14" stroke-width="2.6"/>
<line x1="164.3" y1="682.2" x2="153.5" y2="677.7" stroke="#5d6068" stroke-width="2.6"/><line x1="153.5" y1="677.7" x2="142.7" y2="673.1" stroke="#7a3c14" stroke-width="2.6"/>
<line x1="164.3" y1="682.2" x2="150.2" y2="683.4" stroke="#5d6068" stroke-width="2.6"/><line x1="150.2" y1="683.4" x2="136.1" y2="684.6" stroke="#7a3c14" stroke-width="2.6"/>
<line x1="164.3" y1="682.2" x2="175.2" y2="684.0" stroke="#5d6068" stroke-width="2.6"/><line x1="175.2" y1="684.0" x2="186.0" y2="685.8" stroke="#7a3c14" stroke-width="2.6"/>
<line x1="164.3" y1="682.2" x2="171.9" y2="691.4" stroke="#5d6068" stroke-width="2.6"/><line x1="171.9" y1="691.4" x2="179.4" y2="700.5" stroke="#7a3c14" stroke-width="2.6"/>
<line x1="164.3" y1="682.2" x2="165.2" y2="697.7" stroke="#5d6068" stroke-width="2.6"/><line x1="165.2" y1="697.7" x2="166.2" y2="713.2" stroke="#7a3c14" stroke-width="2.6"/>
<line x1="209.2" y1="697.9" x2="212.3" y2="679.2" stroke="#5d6068" stroke-width="2.6"/><line x1="212.3" y1="679.2" x2="215.5" y2="660.5" stroke="#7a3c14" stroke-width="2.6"/>
<line x1="209.2" y1="697.9" x2="197.6" y2="691.8" stroke="#5d6068" stroke-width="2.6"/><line x1="197.6" y1="691.8" x2="186.0" y2="685.8" stroke="#7a3c14" stroke-width="2.6"/>
<line x1="209.2" y1="697.9" x2="194.3" y2="699.2" stroke="#5d6068" stroke-width="2.6"/><line x1="194.3" y1="699.2" x2="179.4" y2="700.5" stroke="#7a3c14" stroke-width="2.6"/>
<line x1="209.2" y1="697.9" x2="224.3" y2="695.3" stroke="#5d6068" stroke-width="2.6"/><line x1="224.3" y1="695.3" x2="239.5" y2="692.7" stroke="#7a3c14" stroke-width="2.6"/>
<line x1="209.2" y1="697.9" x2="220.3" y2="702.7" stroke="#5d6068" stroke-width="2.6"/><line x1="220.3" y1="702.7" x2="231.5" y2="707.5" stroke="#7a3c14" stroke-width="2.6"/>
<line x1="209.2" y1="697.9" x2="217.1" y2="699.6" stroke="#5d6068" stroke-width="2.6"/><line x1="217.1" y1="699.6" x2="225.1" y2="701.4" stroke="#7a3c14" stroke-width="2.6"/>
<line x1="209.2" y1="697.9" x2="216.6" y2="708.2" stroke="#5d6068" stroke-width="2.6"/><line x1="216.6" y1="708.2" x2="223.9" y2="718.5" stroke="#7a3c14" stroke-width="2.6"/>
<line x1="209.2" y1="697.9" x2="206.2" y2="713.5" stroke="#5d6068" stroke-width="2.6"/><line x1="206.2" y1="713.5" x2="203.3" y2="729.1" stroke="#7a3c14" stroke-width="2.6"/>
<line x1="150.6" y1="710.1" x2="149.6" y2="693.5" stroke="#5d6068" stroke-width="2.6"/><line x1="149.6" y1="693.5" x2="148.7" y2="676.8" stroke="#7a3c14" stroke-width="2.6"/>
<line x1="150.6" y1="710.1" x2="146.6" y2="691.6" stroke="#5d6068" stroke-width="2.6"/><line x1="146.6" y1="691.6" x2="142.7" y2="673.1" stroke="#7a3c14" stroke-width="2.6"/>
<line x1="150.6" y1="710.1" x2="143.3" y2="697.4" stroke="#5d6068" stroke-width="2.6"/><line x1="143.3" y1="697.4" x2="136.1" y2="684.6" stroke="#7a3c14" stroke-width="2.6"/>
<line x1="150.6" y1="710.1" x2="139.4" y2="704.8" stroke="#5d6068" stroke-width="2.6"/><line x1="139.4" y1="704.8" x2="128.3" y2="699.5" stroke="#7a3c14" stroke-width="2.6"/>
<line x1="150.6" y1="710.1" x2="165.0" y2="705.3" stroke="#5d6068" stroke-width="2.6"/><line x1="165.0" y1="705.3" x2="179.4" y2="700.5" stroke="#7a3c14" stroke-width="2.6"/>
<line x1="150.6" y1="710.1" x2="135.8" y2="714.3" stroke="#5d6068" stroke-width="2.6"/><line x1="135.8" y1="714.3" x2="121.0" y2="718.5" stroke="#7a3c14" stroke-width="2.6"/>
<line x1="150.6" y1="710.1" x2="158.4" y2="711.7" stroke="#5d6068" stroke-width="2.6"/><line x1="158.4" y1="711.7" x2="166.2" y2="713.2" stroke="#7a3c14" stroke-width="2.6"/>
<line x1="150.6" y1="710.1" x2="161.6" y2="715.4" stroke="#5d6068" stroke-width="2.6"/><line x1="161.6" y1="715.4" x2="172.6" y2="720.7" stroke="#7a3c14" stroke-width="2.6"/>
<line x1="150.6" y1="710.1" x2="150.6" y2="728.0" stroke="#5d6068" stroke-width="2.6"/><line x1="150.6" y1="728.0" x2="150.6" y2="745.9" stroke="#7a3c14" stroke-width="2.6"/>
<line x1="150.6" y1="710.1" x2="146.7" y2="726.0" stroke="#5d6068" stroke-width="2.6"/><line x1="146.7" y1="726.0" x2="142.8" y2="742.0" stroke="#7a3c14" stroke-width="2.6"/>
<line x1="226.0" y1="737.6" x2="228.8" y2="722.5" stroke="#5d6068" stroke-width="2.6"/><line x1="228.8" y1="722.5" x2="231.5" y2="707.5" stroke="#7a3c14" stroke-width="2.6"/>
<line x1="226.0" y1="737.6" x2="225.6" y2="719.5" stroke="#5d6068" stroke-width="2.6"/><line x1="225.6" y1="719.5" x2="225.1" y2="701.4" stroke="#7a3c14" stroke-width="2.6"/>
<line x1="226.0" y1="737.6" x2="224.9" y2="728.0" stroke="#5d6068" stroke-width="2.6"/><line x1="224.9" y1="728.0" x2="223.9" y2="718.5" stroke="#7a3c14" stroke-width="2.6"/>
<line x1="226.0" y1="737.6" x2="214.7" y2="733.4" stroke="#5d6068" stroke-width="2.6"/><line x1="214.7" y1="733.4" x2="203.3" y2="729.1" stroke="#7a3c14" stroke-width="2.6"/>
<line x1="226.0" y1="737.6" x2="239.6" y2="743.8" stroke="#5d6068" stroke-width="2.6"/><line x1="239.6" y1="743.8" x2="253.2" y2="749.9" stroke="#7a3c14" stroke-width="2.6"/>
<line x1="226.0" y1="737.6" x2="236.1" y2="742.1" stroke="#5d6068" stroke-width="2.6"/><line x1="236.1" y1="742.1" x2="246.1" y2="746.6" stroke="#7a3c14" stroke-width="2.6"/>
<line x1="226.0" y1="737.6" x2="232.8" y2="749.2" stroke="#5d6068" stroke-width="2.6"/><line x1="232.8" y1="749.2" x2="239.6" y2="760.9" stroke="#7a3c14" stroke-width="2.6"/>
<line x1="269.4" y1="755.1" x2="261.3" y2="752.5" stroke="#5d6068" stroke-width="2.6"/><line x1="261.3" y1="752.5" x2="253.2" y2="749.9" stroke="#7a3c14" stroke-width="2.6"/>
<line x1="269.4" y1="755.1" x2="257.8" y2="750.9" stroke="#5d6068" stroke-width="2.6"/><line x1="257.8" y1="750.9" x2="246.1" y2="746.6" stroke="#7a3c14" stroke-width="2.6"/>
<line x1="269.4" y1="755.1" x2="283.9" y2="751.5" stroke="#5d6068" stroke-width="2.6"/><line x1="283.9" y1="751.5" x2="298.5" y2="747.9" stroke="#7a3c14" stroke-width="2.6"/>
<line x1="269.4" y1="755.1" x2="254.5" y2="758.0" stroke="#5d6068" stroke-width="2.6"/><line x1="254.5" y1="758.0" x2="239.6" y2="760.9" stroke="#7a3c14" stroke-width="2.6"/>
<line x1="269.4" y1="755.1" x2="280.4" y2="759.0" stroke="#5d6068" stroke-width="2.6"/><line x1="280.4" y1="759.0" x2="291.4" y2="762.8" stroke="#7a3c14" stroke-width="2.6"/>
<line x1="269.4" y1="755.1" x2="276.2" y2="766.8" stroke="#5d6068" stroke-width="2.6"/><line x1="276.2" y1="766.8" x2="283.0" y2="778.4" stroke="#7a3c14" stroke-width="2.6"/>
<line x1="107.2" y1="763.4" x2="106.9" y2="745.6" stroke="#5d6068" stroke-width="2.6"/><line x1="106.9" y1="745.6" x2="106.6" y2="727.8" stroke="#7a3c14" stroke-width="2.6"/>
<line x1="107.2" y1="763.4" x2="96.2" y2="759.2" stroke="#5d6068" stroke-width="2.6"/><line x1="96.2" y1="759.2" x2="85.2" y2="755.0" stroke="#7a3c14" stroke-width="2.6"/>
<line x1="107.2" y1="763.4" x2="92.3" y2="767.0" stroke="#5d6068" stroke-width="2.6"/><line x1="92.3" y1="767.0" x2="77.5" y2="770.5" stroke="#7a3c14" stroke-width="2.6"/>
<line x1="107.2" y1="763.4" x2="121.8" y2="760.5" stroke="#5d6068" stroke-width="2.6"/><line x1="121.8" y1="760.5" x2="136.3" y2="757.6" stroke="#7a3c14" stroke-width="2.6"/>
<line x1="107.2" y1="763.4" x2="117.9" y2="768.0" stroke="#5d6068" stroke-width="2.6"/><line x1="117.9" y1="768.0" x2="128.6" y2="772.5" stroke="#7a3c14" stroke-width="2.6"/>
<line x1="107.2" y1="763.4" x2="114.0" y2="775.3" stroke="#5d6068" stroke-width="2.6"/><line x1="114.0" y1="775.3" x2="120.8" y2="787.3" stroke="#7a3c14" stroke-width="2.6"/>
<line x1="107.2" y1="763.4" x2="107.2" y2="781.5" stroke="#5d6068" stroke-width="2.6"/><line x1="107.2" y1="781.5" x2="107.2" y2="799.6" stroke="#7a3c14" stroke-width="2.6"/>
<line x1="166.1" y1="750.5" x2="166.1" y2="731.9" stroke="#5d6068" stroke-width="2.6"/><line x1="166.1" y1="731.9" x2="166.2" y2="713.2" stroke="#7a3c14" stroke-width="2.6"/>
<line x1="166.1" y1="750.5" x2="169.3" y2="735.6" stroke="#5d6068" stroke-width="2.6"/><line x1="169.3" y1="735.6" x2="172.6" y2="720.7" stroke="#7a3c14" stroke-width="2.6"/>
<line x1="166.1" y1="750.5" x2="151.2" y2="754.0" stroke="#5d6068" stroke-width="2.6"/><line x1="151.2" y1="754.0" x2="136.3" y2="757.6" stroke="#7a3c14" stroke-width="2.6"/>
<line x1="166.1" y1="750.5" x2="158.3" y2="748.2" stroke="#5d6068" stroke-width="2.6"/><line x1="158.3" y1="748.2" x2="150.6" y2="745.9" stroke="#7a3c14" stroke-width="2.6"/>
<line x1="166.1" y1="750.5" x2="154.4" y2="746.2" stroke="#5d6068" stroke-width="2.6"/><line x1="154.4" y1="746.2" x2="142.8" y2="742.0" stroke="#7a3c14" stroke-width="2.6"/>
<line x1="166.1" y1="750.5" x2="176.4" y2="754.7" stroke="#5d6068" stroke-width="2.6"/><line x1="176.4" y1="754.7" x2="186.8" y2="758.9" stroke="#7a3c14" stroke-width="2.6"/>
<line x1="166.1" y1="750.5" x2="179.9" y2="756.5" stroke="#5d6068" stroke-width="2.6"/><line x1="179.9" y1="756.5" x2="193.8" y2="762.5" stroke="#7a3c14" stroke-width="2.6"/>
<line x1="166.1" y1="750.5" x2="173.2" y2="762.5" stroke="#5d6068" stroke-width="2.6"/><line x1="173.2" y1="762.5" x2="180.3" y2="774.4" stroke="#7a3c14" stroke-width="2.6"/>
<line x1="166.1" y1="750.5" x2="166.1" y2="767.3" stroke="#5d6068" stroke-width="2.6"/><line x1="166.1" y1="767.3" x2="166.1" y2="784.1" stroke="#7a3c14" stroke-width="2.6"/>
<line x1="166.1" y1="750.5" x2="174.3" y2="762.1" stroke="#5d6068" stroke-width="2.6"/><line x1="174.3" y1="762.1" x2="182.6" y2="773.8" stroke="#7a3c14" stroke-width="2.6"/>
<line x1="150.6" y1="780.9" x2="143.4" y2="769.2" stroke="#5d6068" stroke-width="2.6"/><line x1="143.4" y1="769.2" x2="136.3" y2="757.6" stroke="#7a3c14" stroke-width="2.6"/>
<line x1="150.6" y1="780.9" x2="150.6" y2="763.4" stroke="#5d6068" stroke-width="2.6"/><line x1="150.6" y1="763.4" x2="150.6" y2="745.9" stroke="#7a3c14" stroke-width="2.6"/>
<line x1="150.6" y1="780.9" x2="139.6" y2="776.7" stroke="#5d6068" stroke-width="2.6"/><line x1="139.6" y1="776.7" x2="128.6" y2="772.5" stroke="#7a3c14" stroke-width="2.6"/>
<line x1="150.6" y1="780.9" x2="165.4" y2="777.6" stroke="#5d6068" stroke-width="2.6"/><line x1="165.4" y1="777.6" x2="180.3" y2="774.4" stroke="#7a3c14" stroke-width="2.6"/>
<line x1="150.6" y1="780.9" x2="135.7" y2="784.1" stroke="#5d6068" stroke-width="2.6"/><line x1="135.7" y1="784.1" x2="120.8" y2="787.3" stroke="#7a3c14" stroke-width="2.6"/>
<line x1="150.6" y1="780.9" x2="161.6" y2="785.1" stroke="#5d6068" stroke-width="2.6"/><line x1="161.6" y1="785.1" x2="172.6" y2="789.3" stroke="#7a3c14" stroke-width="2.6"/>
<line x1="150.6" y1="780.9" x2="158.3" y2="782.5" stroke="#5d6068" stroke-width="2.6"/><line x1="158.3" y1="782.5" x2="166.1" y2="784.1" stroke="#7a3c14" stroke-width="2.6"/>
<line x1="150.6" y1="780.9" x2="157.7" y2="792.8" stroke="#5d6068" stroke-width="2.6"/><line x1="157.7" y1="792.8" x2="164.8" y2="804.8" stroke="#7a3c14" stroke-width="2.6"/>
<line x1="150.6" y1="780.9" x2="147.3" y2="795.5" stroke="#5d6068" stroke-width="2.6"/><line x1="147.3" y1="795.5" x2="144.1" y2="810.0" stroke="#7a3c14" stroke-width="2.6"/>
<line x1="150.6" y1="780.9" x2="166.6" y2="777.3" stroke="#5d6068" stroke-width="2.6"/><line x1="166.6" y1="777.3" x2="182.6" y2="773.8" stroke="#7a3c14" stroke-width="2.6"/>
<line x1="150.6" y1="780.9" x2="150.6" y2="799.2" stroke="#5d6068" stroke-width="2.6"/><line x1="150.6" y1="799.2" x2="150.6" y2="817.5" stroke="#7a3c14" stroke-width="2.6"/>
<line x1="193.8" y1="797.1" x2="193.8" y2="779.8" stroke="#5d6068" stroke-width="2.6"/><line x1="193.8" y1="779.8" x2="193.8" y2="762.5" stroke="#7a3c14" stroke-width="2.6"/>
<line x1="193.8" y1="797.1" x2="187.1" y2="785.8" stroke="#5d6068" stroke-width="2.6"/><line x1="187.1" y1="785.8" x2="180.3" y2="774.4" stroke="#7a3c14" stroke-width="2.6"/>
<line x1="193.8" y1="797.1" x2="183.2" y2="793.2" stroke="#5d6068" stroke-width="2.6"/><line x1="183.2" y1="793.2" x2="172.6" y2="789.3" stroke="#7a3c14" stroke-width="2.6"/>
<line x1="193.8" y1="797.1" x2="179.9" y2="790.6" stroke="#5d6068" stroke-width="2.6"/><line x1="179.9" y1="790.6" x2="166.1" y2="784.1" stroke="#7a3c14" stroke-width="2.6"/>
<line x1="193.8" y1="797.1" x2="179.3" y2="801.0" stroke="#5d6068" stroke-width="2.6"/><line x1="179.3" y1="801.0" x2="164.8" y2="804.8" stroke="#7a3c14" stroke-width="2.6"/>
<line x1="193.8" y1="797.1" x2="188.2" y2="785.5" stroke="#5d6068" stroke-width="2.6"/><line x1="188.2" y1="785.5" x2="182.6" y2="773.8" stroke="#7a3c14" stroke-width="2.6"/>
<line x1="193.8" y1="797.1" x2="208.9" y2="794.5" stroke="#5d6068" stroke-width="2.6"/><line x1="208.9" y1="794.5" x2="224.0" y2="792.0" stroke="#7a3c14" stroke-width="2.6"/>
<line x1="193.8" y1="797.1" x2="204.4" y2="801.7" stroke="#5d6068" stroke-width="2.6"/><line x1="204.4" y1="801.7" x2="215.0" y2="806.2" stroke="#7a3c14" stroke-width="2.6"/>
<line x1="210.4" y1="768.0" x2="198.6" y2="763.5" stroke="#5d6068" stroke-width="2.6"/><line x1="198.6" y1="763.5" x2="186.8" y2="758.9" stroke="#7a3c14" stroke-width="2.6"/>
<line x1="210.4" y1="768.0" x2="202.1" y2="765.2" stroke="#5d6068" stroke-width="2.6"/><line x1="202.1" y1="765.2" x2="193.8" y2="762.5" stroke="#7a3c14" stroke-width="2.6"/>
<line x1="210.4" y1="768.0" x2="195.4" y2="771.2" stroke="#5d6068" stroke-width="2.6"/><line x1="195.4" y1="771.2" x2="180.3" y2="774.4" stroke="#7a3c14" stroke-width="2.6"/>
<line x1="210.4" y1="768.0" x2="225.0" y2="764.5" stroke="#5d6068" stroke-width="2.6"/><line x1="225.0" y1="764.5" x2="239.6" y2="760.9" stroke="#7a3c14" stroke-width="2.6"/>
<line x1="210.4" y1="768.0" x2="196.5" y2="770.9" stroke="#5d6068" stroke-width="2.6"/><line x1="196.5" y1="770.9" x2="182.6" y2="773.8" stroke="#7a3c14" stroke-width="2.6"/>
<line x1="210.4" y1="768.0" x2="220.8" y2="771.9" stroke="#5d6068" stroke-width="2.6"/><line x1="220.8" y1="771.9" x2="231.2" y2="775.8" stroke="#7a3c14" stroke-width="2.6"/>
<line x1="210.4" y1="768.0" x2="217.2" y2="780.0" stroke="#5d6068" stroke-width="2.6"/><line x1="217.2" y1="780.0" x2="224.0" y2="792.0" stroke="#7a3c14" stroke-width="2.6"/>
<line x1="313.4" y1="771.2" x2="305.9" y2="759.5" stroke="#5d6068" stroke-width="2.6"/><line x1="305.9" y1="759.5" x2="298.5" y2="747.9" stroke="#7a3c14" stroke-width="2.6"/>
<line x1="313.4" y1="771.2" x2="313.1" y2="753.4" stroke="#5d6068" stroke-width="2.6"/><line x1="313.1" y1="753.4" x2="312.8" y2="735.6" stroke="#7a3c14" stroke-width="2.6"/>
<line x1="313.4" y1="771.2" x2="302.4" y2="767.0" stroke="#5d6068" stroke-width="2.6"/><line x1="302.4" y1="767.0" x2="291.4" y2="762.8" stroke="#7a3c14" stroke-width="2.6"/>
<line x1="313.4" y1="771.2" x2="328.3" y2="768.0" stroke="#5d6068" stroke-width="2.6"/><line x1="328.3" y1="768.0" x2="343.2" y2="764.8" stroke="#7a3c14" stroke-width="2.6"/>
<line x1="313.4" y1="771.2" x2="324.4" y2="775.8" stroke="#5d6068" stroke-width="2.6"/><line x1="324.4" y1="775.8" x2="335.4" y2="780.3" stroke="#7a3c14" stroke-width="2.6"/>
<line x1="313.4" y1="771.2" x2="298.2" y2="774.8" stroke="#5d6068" stroke-width="2.6"/><line x1="298.2" y1="774.8" x2="283.0" y2="778.4" stroke="#7a3c14" stroke-width="2.6"/>
<line x1="313.4" y1="771.2" x2="313.4" y2="789.4" stroke="#5d6068" stroke-width="2.6"/><line x1="313.4" y1="789.4" x2="313.4" y2="807.5" stroke="#7a3c14" stroke-width="2.6"/>
<line x1="253.8" y1="784.8" x2="253.5" y2="767.3" stroke="#5d6068" stroke-width="2.6"/><line x1="253.5" y1="767.3" x2="253.2" y2="749.9" stroke="#7a3c14" stroke-width="2.6"/>
<line x1="253.8" y1="784.8" x2="246.7" y2="772.8" stroke="#5d6068" stroke-width="2.6"/><line x1="246.7" y1="772.8" x2="239.6" y2="760.9" stroke="#7a3c14" stroke-width="2.6"/>
<line x1="253.8" y1="784.8" x2="242.5" y2="780.3" stroke="#5d6068" stroke-width="2.6"/><line x1="242.5" y1="780.3" x2="231.2" y2="775.8" stroke="#7a3c14" stroke-width="2.6"/>
<line x1="253.8" y1="784.8" x2="268.4" y2="781.6" stroke="#5d6068" stroke-width="2.6"/><line x1="268.4" y1="781.6" x2="283.0" y2="778.4" stroke="#7a3c14" stroke-width="2.6"/>
<line x1="253.8" y1="784.8" x2="238.9" y2="788.4" stroke="#5d6068" stroke-width="2.6"/><line x1="238.9" y1="788.4" x2="224.0" y2="792.0" stroke="#7a3c14" stroke-width="2.6"/>
<line x1="253.8" y1="784.8" x2="264.9" y2="789.0" stroke="#5d6068" stroke-width="2.6"/><line x1="264.9" y1="789.0" x2="275.9" y2="793.3" stroke="#7a3c14" stroke-width="2.6"/>
<line x1="227.9" y1="807.5" x2="229.6" y2="791.6" stroke="#5d6068" stroke-width="2.6"/><line x1="229.6" y1="791.6" x2="231.2" y2="775.8" stroke="#7a3c14" stroke-width="2.6"/>
<line x1="227.9" y1="807.5" x2="225.9" y2="799.8" stroke="#5d6068" stroke-width="2.6"/><line x1="225.9" y1="799.8" x2="224.0" y2="792.0" stroke="#7a3c14" stroke-width="2.6"/>
<line x1="227.9" y1="807.5" x2="221.4" y2="806.9" stroke="#5d6068" stroke-width="2.6"/><line x1="221.4" y1="806.9" x2="215.0" y2="806.2" stroke="#7a3c14" stroke-width="2.6"/>
<line x1="158.3" y1="730.4" x2="162.2" y2="721.8" stroke="#40d8a8" stroke-width="2.6"/><line x1="162.2" y1="721.8" x2="166.2" y2="713.2" stroke="#7a3c14" stroke-width="2.6"/>
<line x1="158.3" y1="730.4" x2="165.4" y2="725.5" stroke="#40d8a8" stroke-width="2.6"/><line x1="165.4" y1="725.5" x2="172.6" y2="720.7" stroke="#7a3c14" stroke-width="2.6"/>
<line x1="158.3" y1="730.4" x2="154.4" y2="738.1" stroke="#40d8a8" stroke-width="2.6"/><line x1="154.4" y1="738.1" x2="150.6" y2="745.9" stroke="#7a3c14" stroke-width="2.6"/>
<line x1="158.3" y1="730.4" x2="150.6" y2="736.2" stroke="#40d8a8" stroke-width="2.6"/><line x1="150.6" y1="736.2" x2="142.8" y2="742.0" stroke="#7a3c14" stroke-width="2.6"/>
<line x1="201.0" y1="746.6" x2="202.2" y2="737.9" stroke="#40d8a8" stroke-width="2.6"/><line x1="202.2" y1="737.9" x2="203.3" y2="729.1" stroke="#7a3c14" stroke-width="2.6"/>
<line x1="201.0" y1="746.6" x2="193.9" y2="752.8" stroke="#40d8a8" stroke-width="2.6"/><line x1="193.9" y1="752.8" x2="186.8" y2="758.9" stroke="#7a3c14" stroke-width="2.6"/>
<line x1="201.0" y1="746.6" x2="197.4" y2="754.5" stroke="#40d8a8" stroke-width="2.6"/><line x1="197.4" y1="754.5" x2="193.8" y2="762.5" stroke="#7a3c14" stroke-width="2.6"/>
<line x1="159.0" y1="799.6" x2="165.8" y2="794.5" stroke="#40d8a8" stroke-width="2.6"/><line x1="165.8" y1="794.5" x2="172.6" y2="789.3" stroke="#7a3c14" stroke-width="2.6"/>
<line x1="159.0" y1="799.6" x2="162.6" y2="791.9" stroke="#40d8a8" stroke-width="2.6"/><line x1="162.6" y1="791.9" x2="166.1" y2="784.1" stroke="#7a3c14" stroke-width="2.6"/>
<line x1="159.0" y1="799.6" x2="151.6" y2="804.8" stroke="#40d8a8" stroke-width="2.6"/><line x1="151.6" y1="804.8" x2="144.1" y2="810.0" stroke="#7a3c14" stroke-width="2.6"/>
<line x1="159.0" y1="799.6" x2="154.8" y2="808.5" stroke="#40d8a8" stroke-width="2.6"/><line x1="154.8" y1="808.5" x2="150.6" y2="817.5" stroke="#7a3c14" stroke-width="2.6"/>
<line x1="218.2" y1="788.1" x2="224.7" y2="782.0" stroke="#40d8a8" stroke-width="2.6"/><line x1="224.7" y1="782.0" x2="231.2" y2="775.8" stroke="#7a3c14" stroke-width="2.6"/>
<line x1="218.2" y1="788.1" x2="216.6" y2="797.2" stroke="#40d8a8" stroke-width="2.6"/><line x1="216.6" y1="797.2" x2="215.0" y2="806.2" stroke="#7a3c14" stroke-width="2.6"/>
<line x1="262.3" y1="803.6" x2="269.1" y2="798.5" stroke="#40d8a8" stroke-width="2.6"/><line x1="269.1" y1="798.5" x2="275.9" y2="793.3" stroke="#7a3c14" stroke-width="2.6"/>
<line x1="203.3" y1="811.4" x2="209.2" y2="808.8" stroke="#40d8a8" stroke-width="2.6"/><line x1="209.2" y1="808.8" x2="215.0" y2="806.2" stroke="#7a3c14" stroke-width="2.6"/>
<line x1="261.0" y1="734.3" x2="264.8" y2="725.6" stroke="#40d8a8" stroke-width="2.6"/><line x1="264.8" y1="725.6" x2="268.5" y2="717.0" stroke="#7a3c14" stroke-width="2.6"/>
<line x1="261.0" y1="734.3" x2="257.1" y2="742.1" stroke="#40d8a8" stroke-width="2.6"/><line x1="257.1" y1="742.1" x2="253.2" y2="749.9" stroke="#7a3c14" stroke-width="2.6"/>
<line x1="261.0" y1="734.3" x2="253.6" y2="740.5" stroke="#40d8a8" stroke-width="2.6"/><line x1="253.6" y1="740.5" x2="246.1" y2="746.6" stroke="#7a3c14" stroke-width="2.6"/>
<line x1="135.3" y1="623.7" x2="146.2" y2="642.7" stroke="#7a3c14" stroke-width="2.6"/><line x1="146.2" y1="642.7" x2="157.1" y2="661.7" stroke="#40d8a8" stroke-width="2.6"/>
<line x1="187.7" y1="626.5" x2="202.8" y2="636.4" stroke="#7a3c14" stroke-width="2.6"/><line x1="202.8" y1="636.4" x2="217.9" y2="646.2" stroke="#40d8a8" stroke-width="2.6"/>
<line x1="230.4" y1="627.2" x2="224.2" y2="636.7" stroke="#7a3c14" stroke-width="2.6"/><line x1="224.2" y1="636.7" x2="217.9" y2="646.2" stroke="#40d8a8" stroke-width="2.6"/>
<line x1="220.6" y1="629.5" x2="219.2" y2="637.9" stroke="#7a3c14" stroke-width="2.6"/><line x1="219.2" y1="637.9" x2="217.9" y2="646.2" stroke="#40d8a8" stroke-width="2.6"/>
<line x1="128.5" y1="638.5" x2="142.8" y2="650.1" stroke="#7a3c14" stroke-width="2.6"/><line x1="142.8" y1="650.1" x2="157.1" y2="661.7" stroke="#40d8a8" stroke-width="2.6"/>
<line x1="165.6" y1="640.7" x2="161.3" y2="651.2" stroke="#7a3c14" stroke-width="2.6"/><line x1="161.3" y1="651.2" x2="157.1" y2="661.7" stroke="#40d8a8" stroke-width="2.6"/>
<line x1="172.2" y1="640.1" x2="164.6" y2="650.9" stroke="#7a3c14" stroke-width="2.6"/><line x1="164.6" y1="650.9" x2="157.1" y2="661.7" stroke="#40d8a8" stroke-width="2.6"/>
<line x1="180.0" y1="644.9" x2="198.9" y2="645.5" stroke="#7a3c14" stroke-width="2.6"/><line x1="198.9" y1="645.5" x2="217.9" y2="646.2" stroke="#40d8a8" stroke-width="2.6"/>
<line x1="180.0" y1="644.9" x2="168.6" y2="653.3" stroke="#7a3c14" stroke-width="2.6"/><line x1="168.6" y1="653.3" x2="157.1" y2="661.7" stroke="#40d8a8" stroke-width="2.6"/>
<line x1="180.0" y1="644.9" x2="192.0" y2="662.5" stroke="#7a3c14" stroke-width="2.6"/><line x1="192.0" y1="662.5" x2="204.0" y2="680.0" stroke="#40d8a8" stroke-width="2.6"/>
<line x1="217.9" y1="646.2" x2="236.4" y2="651.3" stroke="#40d8a8" stroke-width="2.6"/><line x1="236.4" y1="651.3" x2="255.0" y2="656.4" stroke="#7a3c14" stroke-width="2.6"/>
<line x1="217.9" y1="646.2" x2="220.4" y2="652.1" stroke="#40d8a8" stroke-width="2.6"/><line x1="220.4" y1="652.1" x2="223.0" y2="658.0" stroke="#7a3c14" stroke-width="2.6"/>
<line x1="217.9" y1="646.2" x2="216.7" y2="653.4" stroke="#40d8a8" stroke-width="2.6"/><line x1="216.7" y1="653.4" x2="215.5" y2="660.5" stroke="#7a3c14" stroke-width="2.6"/>
<line x1="217.9" y1="646.2" x2="210.4" y2="652.8" stroke="#40d8a8" stroke-width="2.6"/><line x1="210.4" y1="652.8" x2="202.8" y2="659.3" stroke="#7a3c14" stroke-width="2.6"/>
<line x1="217.9" y1="646.2" x2="235.4" y2="660.6" stroke="#40d8a8" stroke-width="2.6"/><line x1="235.4" y1="660.6" x2="253.0" y2="675.0" stroke="#7a3c14" stroke-width="2.6"/>
<line x1="217.9" y1="646.2" x2="231.7" y2="660.0" stroke="#40d8a8" stroke-width="2.6"/><line x1="231.7" y1="660.0" x2="245.5" y2="673.7" stroke="#7a3c14" stroke-width="2.6"/>
<line x1="217.9" y1="646.2" x2="232.7" y2="630.1" stroke="#40d8a8" stroke-width="2.6"/><line x1="232.7" y1="630.1" x2="247.4" y2="614.0" stroke="#7a3c14" stroke-width="2.6"/>
<line x1="157.1" y1="661.7" x2="179.9" y2="660.5" stroke="#40d8a8" stroke-width="2.6"/><line x1="179.9" y1="660.5" x2="202.8" y2="659.3" stroke="#7a3c14" stroke-width="2.6"/>
<line x1="157.1" y1="661.7" x2="152.9" y2="669.2" stroke="#40d8a8" stroke-width="2.6"/><line x1="152.9" y1="669.2" x2="148.7" y2="676.8" stroke="#7a3c14" stroke-width="2.6"/>
<line x1="157.1" y1="661.7" x2="149.9" y2="667.4" stroke="#40d8a8" stroke-width="2.6"/><line x1="149.9" y1="667.4" x2="142.7" y2="673.1" stroke="#7a3c14" stroke-width="2.6"/>
<line x1="157.1" y1="661.7" x2="146.6" y2="673.2" stroke="#40d8a8" stroke-width="2.6"/><line x1="146.6" y1="673.2" x2="136.1" y2="684.6" stroke="#7a3c14" stroke-width="2.6"/>
<line x1="157.1" y1="661.7" x2="171.6" y2="673.8" stroke="#40d8a8" stroke-width="2.6"/><line x1="171.6" y1="673.8" x2="186.0" y2="685.8" stroke="#7a3c14" stroke-width="2.6"/>
<line x1="157.1" y1="661.7" x2="168.2" y2="681.1" stroke="#40d8a8" stroke-width="2.6"/><line x1="168.2" y1="681.1" x2="179.4" y2="700.5" stroke="#7a3c14" stroke-width="2.6"/>
<line x1="268.0" y1="649.3" x2="264.5" y2="660.1" stroke="#7a3c14" stroke-width="2.6"/><line x1="264.5" y1="660.1" x2="261.0" y2="671.0" stroke="#40d8a8" stroke-width="2.6"/>
<line x1="255.0" y1="656.4" x2="258.0" y2="663.7" stroke="#7a3c14" stroke-width="2.6"/><line x1="258.0" y1="663.7" x2="261.0" y2="671.0" stroke="#40d8a8" stroke-width="2.6"/>
<line x1="223.0" y1="658.0" x2="242.0" y2="664.5" stroke="#7a3c14" stroke-width="2.6"/><line x1="242.0" y1="664.5" x2="261.0" y2="671.0" stroke="#40d8a8" stroke-width="2.6"/>
<line x1="223.0" y1="658.0" x2="213.5" y2="669.0" stroke="#7a3c14" stroke-width="2.6"/><line x1="213.5" y1="669.0" x2="204.0" y2="680.0" stroke="#40d8a8" stroke-width="2.6"/>
<line x1="215.5" y1="660.5" x2="209.8" y2="670.2" stroke="#7a3c14" stroke-width="2.6"/><line x1="209.8" y1="670.2" x2="204.0" y2="680.0" stroke="#40d8a8" stroke-width="2.6"/>
<line x1="202.8" y1="659.3" x2="203.4" y2="669.6" stroke="#7a3c14" stroke-width="2.6"/><line x1="203.4" y1="669.6" x2="204.0" y2="680.0" stroke="#40d8a8" stroke-width="2.6"/>
<line x1="305.1" y1="663.5" x2="283.1" y2="667.2" stroke="#7a3c14" stroke-width="2.6"/><line x1="283.1" y1="667.2" x2="261.0" y2="671.0" stroke="#40d8a8" stroke-width="2.6"/>
<line x1="261.0" y1="671.0" x2="253.2" y2="672.4" stroke="#40d8a8" stroke-width="2.6"/><line x1="253.2" y1="672.4" x2="245.5" y2="673.7" stroke="#7a3c14" stroke-width="2.6"/>
<line x1="261.0" y1="671.0" x2="250.2" y2="681.9" stroke="#40d8a8" stroke-width="2.6"/><line x1="250.2" y1="681.9" x2="239.5" y2="692.7" stroke="#7a3c14" stroke-width="2.6"/>
<line x1="261.0" y1="671.0" x2="276.4" y2="683.0" stroke="#40d8a8" stroke-width="2.6"/><line x1="276.4" y1="683.0" x2="291.8" y2="695.0" stroke="#7a3c14" stroke-width="2.6"/>
<line x1="261.0" y1="671.0" x2="272.1" y2="690.2" stroke="#40d8a8" stroke-width="2.6"/><line x1="272.1" y1="690.2" x2="283.3" y2="709.5" stroke="#7a3c14" stroke-width="2.6"/>
<line x1="204.0" y1="680.0" x2="224.8" y2="676.9" stroke="#40d8a8" stroke-width="2.6"/><line x1="224.8" y1="676.9" x2="245.5" y2="673.7" stroke="#7a3c14" stroke-width="2.6"/>
<line x1="204.0" y1="680.0" x2="195.0" y2="682.9" stroke="#40d8a8" stroke-width="2.6"/><line x1="195.0" y1="682.9" x2="186.0" y2="685.8" stroke="#7a3c14" stroke-width="2.6"/>
<line x1="204.0" y1="680.0" x2="191.7" y2="690.2" stroke="#40d8a8" stroke-width="2.6"/><line x1="191.7" y1="690.2" x2="179.4" y2="700.5" stroke="#7a3c14" stroke-width="2.6"/>
<line x1="204.0" y1="680.0" x2="221.8" y2="686.4" stroke="#40d8a8" stroke-width="2.6"/><line x1="221.8" y1="686.4" x2="239.5" y2="692.7" stroke="#7a3c14" stroke-width="2.6"/>
<line x1="204.0" y1="680.0" x2="217.8" y2="693.8" stroke="#40d8a8" stroke-width="2.6"/><line x1="217.8" y1="693.8" x2="231.5" y2="707.5" stroke="#7a3c14" stroke-width="2.6"/>
<line x1="204.0" y1="680.0" x2="214.6" y2="690.7" stroke="#40d8a8" stroke-width="2.6"/><line x1="214.6" y1="690.7" x2="225.1" y2="701.4" stroke="#7a3c14" stroke-width="2.6"/>
<line x1="204.0" y1="680.0" x2="213.9" y2="699.2" stroke="#40d8a8" stroke-width="2.6"/><line x1="213.9" y1="699.2" x2="223.9" y2="718.5" stroke="#7a3c14" stroke-width="2.6"/>
<line x1="216.5" y1="714.5" x2="224.0" y2="711.0" stroke="#40d8a8" stroke-width="2.6"/><line x1="224.0" y1="711.0" x2="231.5" y2="707.5" stroke="#7a3c14" stroke-width="2.6"/>
<line x1="216.5" y1="714.5" x2="220.8" y2="708.0" stroke="#40d8a8" stroke-width="2.6"/><line x1="220.8" y1="708.0" x2="225.1" y2="701.4" stroke="#7a3c14" stroke-width="2.6"/>
<line x1="216.5" y1="714.5" x2="209.9" y2="721.8" stroke="#40d8a8" stroke-width="2.6"/><line x1="209.9" y1="721.8" x2="203.3" y2="729.1" stroke="#7a3c14" stroke-width="2.6"/>
<line x1="107.2" y1="799.6" x2="107.2" y2="817.8" stroke="#7a3c14" stroke-width="2.6"/><line x1="107.2" y1="817.8" x2="107.2" y2="836.0" stroke="#5d6068" stroke-width="2.6"/>
<line x1="313.4" y1="807.5" x2="313.4" y2="825.2" stroke="#7a3c14" stroke-width="2.6"/><line x1="313.4" y1="825.2" x2="313.4" y2="843.0" stroke="#5d6068" stroke-width="2.6"/>
<line x1="237.3" y1="615.6" x2="222.8" y2="621.5" stroke="#e02020" stroke-width="2.6"/><line x1="222.8" y1="621.5" x2="208.3" y2="627.5" stroke="#5d6068" stroke-width="2.6"/>
<line x1="261.0" y1="734.3" x2="250.2" y2="713.5" stroke="#40d8a8" stroke-width="2.6"/><line x1="250.2" y1="713.5" x2="239.5" y2="692.7" stroke="#7a3c14" stroke-width="2.6"/>
<line x1="261.0" y1="734.3" x2="272.1" y2="721.9" stroke="#40d8a8" stroke-width="2.6"/><line x1="272.1" y1="721.9" x2="283.3" y2="709.5" stroke="#7a3c14" stroke-width="2.6"/>
<line x1="201.0" y1="746.6" x2="186.8" y2="733.7" stroke="#40d8a8" stroke-width="2.6"/><line x1="186.8" y1="733.7" x2="172.6" y2="720.7" stroke="#7a3c14" stroke-width="2.6"/>
<line x1="201.0" y1="746.6" x2="202.2" y2="737.9" stroke="#40d8a8" stroke-width="2.6"/><line x1="202.2" y1="737.9" x2="203.3" y2="729.1" stroke="#7a3c14" stroke-width="2.6"/>
<line x1="216.5" y1="714.5" x2="228.0" y2="703.6" stroke="#40d8a8" stroke-width="2.6"/><line x1="228.0" y1="703.6" x2="239.5" y2="692.7" stroke="#7a3c14" stroke-width="2.6"/>
<line x1="216.5" y1="714.5" x2="220.2" y2="716.5" stroke="#40d8a8" stroke-width="2.6"/><line x1="220.2" y1="716.5" x2="223.9" y2="718.5" stroke="#7a3c14" stroke-width="2.6"/>
<line x1="118.5" y1="640.5" x2="134.6" y2="639.8" stroke="#e02020" stroke-width="2.6"/><line x1="134.6" y1="639.8" x2="150.6" y2="639.0" stroke="#5d6068" stroke-width="2.6"/>
<line x1="263.7" y1="544.3" x2="259.6" y2="550.0" stroke="#2f8f2f" stroke-width="3.0"/><line x1="259.6" y1="550.0" x2="255.6" y2="555.6" stroke="#2f8f2f" stroke-width="3.0"/>
<line x1="255.6" y1="555.6" x2="258.6" y2="565.0" stroke="#2f8f2f" stroke-width="3.0"/><line x1="258.6" y1="565.0" x2="261.5" y2="574.4" stroke="#2f8f2f" stroke-width="3.0"/>
<line x1="261.5" y1="574.4" x2="257.4" y2="579.8" stroke="#2f8f2f" stroke-width="3.0"/><line x1="257.4" y1="579.8" x2="253.4" y2="585.2" stroke="#2f8f2f" stroke-width="3.0"/>
<line x1="253.4" y1="585.2" x2="255.9" y2="594.4" stroke="#2f8f2f" stroke-width="3.0"/><line x1="255.9" y1="594.4" x2="258.3" y2="603.6" stroke="#a8b0e0" stroke-width="3.0"/>
<line x1="258.8" y1="530.8" x2="261.2" y2="537.5" stroke="#f0d0d0" stroke-width="2.0"/><line x1="261.2" y1="537.5" x2="263.7" y2="544.3" stroke="#2f8f2f" stroke-width="2.0"/>
<line x1="276.1" y1="544.8" x2="269.9" y2="544.5" stroke="#f0d0d0" stroke-width="2.0"/><line x1="269.9" y1="544.5" x2="263.7" y2="544.3" stroke="#2f8f2f" stroke-width="2.0"/>
<line x1="258.8" y1="548.6" x2="261.2" y2="546.5" stroke="#f0d0d0" stroke-width="2.0"/><line x1="261.2" y1="546.5" x2="263.7" y2="544.3" stroke="#2f8f2f" stroke-width="2.0"/>
<line x1="242.6" y1="555.0" x2="249.1" y2="555.3" stroke="#f0d0d0" stroke-width="2.0"/><line x1="249.1" y1="555.3" x2="255.6" y2="555.6" stroke="#2f8f2f" stroke-width="2.0"/>
<line x1="274.4" y1="575.5" x2="267.9" y2="575.0" stroke="#f0d0d0" stroke-width="2.0"/><line x1="267.9" y1="575.0" x2="261.5" y2="574.4" stroke="#2f8f2f" stroke-width="2.0"/>
<line x1="257.2" y1="578.8" x2="259.4" y2="576.6" stroke="#f0d0d0" stroke-width="2.0"/><line x1="259.4" y1="576.6" x2="261.5" y2="574.4" stroke="#2f8f2f" stroke-width="2.0"/>
<line x1="240.5" y1="584.2" x2="246.9" y2="584.7" stroke="#f0d0d0" stroke-width="2.0"/><line x1="246.9" y1="584.7" x2="253.4" y2="585.2" stroke="#2f8f2f" stroke-width="2.0"/>
<line x1="271.2" y1="605.7" x2="264.8" y2="604.7" stroke="#f0d0d0" stroke-width="2.0"/><line x1="264.8" y1="604.7" x2="258.3" y2="603.6" stroke="#a8b0e0" stroke-width="2.0"/>
<line x1="253.4" y1="609.5" x2="255.9" y2="606.5" stroke="#f0d0d0" stroke-width="2.0"/><line x1="255.9" y1="606.5" x2="258.3" y2="603.6" stroke="#a8b0e0" stroke-width="2.0"/>
<circle cx="165.6" cy="611.0" r="9.2" fill="#5e6068" stroke="#3a3b40" stroke-width="0.8"/>
<circle cx="106.3" cy="622.2" r="9.2" fill="#5e6068" stroke="#3a3b40" stroke-width="0.8"/>
<circle cx="208.3" cy="627.5" r="9.2" fill="#5e6068" stroke="#3a3b40" stroke-width="0.8"/>
<circle cx="150.6" cy="639.0" r="9.2" fill="#5e6068" stroke="#3a3b40" stroke-width="0.8"/>
<circle cx="225.8" cy="670.0" r="9.2" fill="#5e6068" stroke="#3a3b40" stroke-width="0.8"/>
<circle cx="164.3" cy="682.2" r="9.2" fill="#5e6068" stroke="#3a3b40" stroke-width="0.8"/>
<circle cx="209.2" cy="697.9" r="9.2" fill="#5e6068" stroke="#3a3b40" stroke-width="0.8"/>
<circle cx="150.6" cy="710.1" r="9.2" fill="#5e6068" stroke="#3a3b40" stroke-width="0.8"/>
<circle cx="226.0" cy="737.6" r="9.2" fill="#5e6068" stroke="#3a3b40" stroke-width="0.8"/>
<circle cx="269.4" cy="755.1" r="9.2" fill="#5e6068" stroke="#3a3b40" stroke-width="0.8"/>
<circle cx="107.2" cy="763.4" r="9.2" fill="#5e6068" stroke="#3a3b40" stroke-width="0.8"/>
<circle cx="166.1" cy="750.5" r="9.2" fill="#5e6068" stroke="#3a3b40" stroke-width="0.8"/>
<circle cx="150.6" cy="780.9" r="9.2" fill="#5e6068" stroke="#3a3b40" stroke-width="0.8"/>
<circle cx="193.8" cy="797.1" r="9.2" fill="#5e6068" stroke="#3a3b40" stroke-width="0.8"/>
<circle cx="210.4" cy="768.0" r="9.2" fill="#5e6068" stroke="#3a3b40" stroke-width="0.8"/>
<circle cx="313.4" cy="771.2" r="9.2" fill="#5e6068" stroke="#3a3b40" stroke-width="0.8"/>
<circle cx="253.8" cy="784.8" r="9.2" fill="#5e6068" stroke="#3a3b40" stroke-width="0.8"/>
<circle cx="227.9" cy="807.5" r="9.2" fill="#5e6068" stroke="#3a3b40" stroke-width="0.8"/>
<circle cx="158.3" cy="730.4" r="13.8" fill="#25f0b9" stroke="#177a5c" stroke-width="0.8"/>
<circle cx="201.0" cy="746.6" r="13.8" fill="#25f0b9" stroke="#177a5c" stroke-width="0.8"/>
<circle cx="159.0" cy="799.6" r="13.8" fill="#25f0b9" stroke="#177a5c" stroke-width="0.8"/>
<circle cx="218.2" cy="788.1" r="13.8" fill="#25f0b9" stroke="#177a5c" stroke-width="0.8"/>
<circle cx="262.3" cy="803.6" r="13.8" fill="#25f0b9" stroke="#177a5c" stroke-width="0.8"/>
<circle cx="203.3" cy="811.4" r="13.8" fill="#25f0b9" stroke="#177a5c" stroke-width="0.8"/>
<circle cx="261.0" cy="734.3" r="13.8" fill="#25f0b9" stroke="#177a5c" stroke-width="0.8"/>
<circle cx="142.9" cy="593.2" r="6.1" fill="#8b461a" stroke="#4a2410" stroke-width="0.8"/>
<circle cx="194.7" cy="596.4" r="6.1" fill="#8b461a" stroke="#4a2410" stroke-width="0.8"/>
<circle cx="85.3" cy="606.1" r="6.1" fill="#8b461a" stroke="#4a2410" stroke-width="0.8"/>
<circle cx="75.5" cy="623.0" r="6.1" fill="#8b461a" stroke="#4a2410" stroke-width="0.8"/>
<circle cx="135.3" cy="623.7" r="6.1" fill="#8b461a" stroke="#4a2410" stroke-width="0.8"/>
<circle cx="187.7" cy="626.5" r="6.1" fill="#8b461a" stroke="#4a2410" stroke-width="0.8"/>
<circle cx="230.4" cy="627.2" r="6.1" fill="#8b461a" stroke="#4a2410" stroke-width="0.8"/>
<circle cx="220.6" cy="629.5" r="6.1" fill="#8b461a" stroke="#4a2410" stroke-width="0.8"/>
<circle cx="128.5" cy="638.5" r="6.1" fill="#8b461a" stroke="#4a2410" stroke-width="0.8"/>
<circle cx="165.6" cy="640.7" r="6.1" fill="#8b461a" stroke="#4a2410" stroke-width="0.8"/>
<circle cx="172.2" cy="640.1" r="6.1" fill="#8b461a" stroke="#4a2410" stroke-width="0.8"/>
<circle cx="180.0" cy="644.9" r="6.1" fill="#8b461a" stroke="#4a2410" stroke-width="0.8"/>
<circle cx="282.0" cy="631.5" r="6.1" fill="#8b461a" stroke="#4a2410" stroke-width="0.8"/>
<circle cx="217.9" cy="646.2" r="13.8" fill="#25f0b9" stroke="#177a5c" stroke-width="0.8"/>
<circle cx="157.1" cy="661.7" r="13.8" fill="#25f0b9" stroke="#177a5c" stroke-width="0.8"/>
<circle cx="101.2" cy="655.1" r="6.1" fill="#8b461a" stroke="#4a2410" stroke-width="0.8"/>
<circle cx="268.0" cy="649.3" r="6.1" fill="#8b461a" stroke="#4a2410" stroke-width="0.8"/>
<circle cx="255.0" cy="656.4" r="6.1" fill="#8b461a" stroke="#4a2410" stroke-width="0.8"/>
<circle cx="223.0" cy="658.0" r="6.1" fill="#8b461a" stroke="#4a2410" stroke-width="0.8"/>
<circle cx="215.5" cy="660.5" r="6.1" fill="#8b461a" stroke="#4a2410" stroke-width="0.8"/>
<circle cx="202.8" cy="659.3" r="6.1" fill="#8b461a" stroke="#4a2410" stroke-width="0.8"/>
<circle cx="305.1" cy="663.5" r="6.1" fill="#8b461a" stroke="#4a2410" stroke-width="0.8"/>
<circle cx="261.0" cy="671.0" r="13.8" fill="#25f0b9" stroke="#177a5c" stroke-width="0.8"/>
<circle cx="204.0" cy="680.0" r="13.8" fill="#25f0b9" stroke="#177a5c" stroke-width="0.8"/>
<circle cx="216.5" cy="714.5" r="13.8" fill="#25f0b9" stroke="#177a5c" stroke-width="0.8"/>
<circle cx="253.0" cy="675.0" r="6.1" fill="#8b461a" stroke="#4a2410" stroke-width="0.8"/>
<circle cx="245.5" cy="673.7" r="6.1" fill="#8b461a" stroke="#4a2410" stroke-width="0.8"/>
<circle cx="148.7" cy="676.8" r="6.1" fill="#8b461a" stroke="#4a2410" stroke-width="0.8"/>
<circle cx="142.7" cy="673.1" r="6.1" fill="#8b461a" stroke="#4a2410" stroke-width="0.8"/>
<circle cx="136.1" cy="684.6" r="6.1" fill="#8b461a" stroke="#4a2410" stroke-width="0.8"/>
<circle cx="186.0" cy="685.8" r="6.1" fill="#8b461a" stroke="#4a2410" stroke-width="0.8"/>
<circle cx="128.3" cy="699.5" r="6.1" fill="#8b461a" stroke="#4a2410" stroke-width="0.8"/>
<circle cx="179.4" cy="700.5" r="6.1" fill="#8b461a" stroke="#4a2410" stroke-width="0.8"/>
<circle cx="239.5" cy="692.7" r="6.1" fill="#8b461a" stroke="#4a2410" stroke-width="0.8"/>
<circle cx="291.8" cy="695.0" r="6.1" fill="#8b461a" stroke="#4a2410" stroke-width="0.8"/>
<circle cx="283.3" cy="709.5" r="6.1" fill="#8b461a" stroke="#4a2410" stroke-width="0.8"/>
<circle cx="231.5" cy="707.5" r="6.1" fill="#8b461a" stroke="#4a2410" stroke-width="0.8"/>
<circle cx="225.1" cy="701.4" r="6.1" fill="#8b461a" stroke="#4a2410" stroke-width="0.8"/>
<circle cx="121.0" cy="718.5" r="6.1" fill="#8b461a" stroke="#4a2410" stroke-width="0.8"/>
<circle cx="166.2" cy="713.2" r="6.1" fill="#8b461a" stroke="#4a2410" stroke-width="0.8"/>
<circle cx="268.5" cy="717.0" r="6.1" fill="#8b461a" stroke="#4a2410" stroke-width="0.8"/>
<circle cx="223.9" cy="718.5" r="6.1" fill="#8b461a" stroke="#4a2410" stroke-width="0.8"/>
<circle cx="172.6" cy="720.7" r="6.1" fill="#8b461a" stroke="#4a2410" stroke-width="0.8"/>
<circle cx="106.6" cy="727.8" r="6.1" fill="#8b461a" stroke="#4a2410" stroke-width="0.8"/>
<circle cx="203.3" cy="729.1" r="6.1" fill="#8b461a" stroke="#4a2410" stroke-width="0.8"/>
<circle cx="253.2" cy="749.9" r="6.1" fill="#8b461a" stroke="#4a2410" stroke-width="0.8"/>
<circle cx="246.1" cy="746.6" r="6.1" fill="#8b461a" stroke="#4a2410" stroke-width="0.8"/>
<circle cx="298.5" cy="747.9" r="6.1" fill="#8b461a" stroke="#4a2410" stroke-width="0.8"/>
<circle cx="312.8" cy="735.6" r="6.1" fill="#8b461a" stroke="#4a2410" stroke-width="0.8"/>
<circle cx="85.2" cy="755.0" r="6.1" fill="#8b461a" stroke="#4a2410" stroke-width="0.8"/>
<circle cx="77.5" cy="770.5" r="6.1" fill="#8b461a" stroke="#4a2410" stroke-width="0.8"/>
<circle cx="136.3" cy="757.6" r="6.1" fill="#8b461a" stroke="#4a2410" stroke-width="0.8"/>
<circle cx="150.6" cy="745.9" r="6.1" fill="#8b461a" stroke="#4a2410" stroke-width="0.8"/>
<circle cx="142.8" cy="742.0" r="6.1" fill="#8b461a" stroke="#4a2410" stroke-width="0.8"/>
<circle cx="186.8" cy="758.9" r="6.1" fill="#8b461a" stroke="#4a2410" stroke-width="0.8"/>
<circle cx="193.8" cy="762.5" r="6.1" fill="#8b461a" stroke="#4a2410" stroke-width="0.8"/>
<circle cx="128.6" cy="772.5" r="6.1" fill="#8b461a" stroke="#4a2410" stroke-width="0.8"/>
<circle cx="180.3" cy="774.4" r="6.1" fill="#8b461a" stroke="#4a2410" stroke-width="0.8"/>
<circle cx="120.8" cy="787.3" r="6.1" fill="#8b461a" stroke="#4a2410" stroke-width="0.8"/>
<circle cx="107.2" cy="799.6" r="6.1" fill="#8b461a" stroke="#4a2410" stroke-width="0.8"/>
<circle cx="172.6" cy="789.3" r="6.1" fill="#8b461a" stroke="#4a2410" stroke-width="0.8"/>
<circle cx="166.1" cy="784.1" r="6.1" fill="#8b461a" stroke="#4a2410" stroke-width="0.8"/>
<circle cx="164.8" cy="804.8" r="6.1" fill="#8b461a" stroke="#4a2410" stroke-width="0.8"/>
<circle cx="144.1" cy="810.0" r="6.1" fill="#8b461a" stroke="#4a2410" stroke-width="0.8"/>
<circle cx="239.6" cy="760.9" r="6.1" fill="#8b461a" stroke="#4a2410" stroke-width="0.8"/>
<circle cx="291.4" cy="762.8" r="6.1" fill="#8b461a" stroke="#4a2410" stroke-width="0.8"/>
<circle cx="343.2" cy="764.8" r="6.1" fill="#8b461a" stroke="#4a2410" stroke-width="0.8"/>
<circle cx="335.4" cy="780.3" r="6.1" fill="#8b461a" stroke="#4a2410" stroke-width="0.8"/>
<circle cx="182.6" cy="773.8" r="6.1" fill="#8b461a" stroke="#4a2410" stroke-width="0.8"/>
<circle cx="231.2" cy="775.8" r="6.1" fill="#8b461a" stroke="#4a2410" stroke-width="0.8"/>
<circle cx="283.0" cy="778.4" r="6.1" fill="#8b461a" stroke="#4a2410" stroke-width="0.8"/>
<circle cx="224.0" cy="792.0" r="6.1" fill="#8b461a" stroke="#4a2410" stroke-width="0.8"/>
<circle cx="275.9" cy="793.3" r="6.1" fill="#8b461a" stroke="#4a2410" stroke-width="0.8"/>
<circle cx="313.4" cy="807.5" r="6.1" fill="#8b461a" stroke="#4a2410" stroke-width="0.8"/>
<circle cx="215.0" cy="806.2" r="6.1" fill="#8b461a" stroke="#4a2410" stroke-width="0.8"/>
<circle cx="237.3" cy="615.6" r="5.8" fill="#ff1010" stroke="#8a0a0a" stroke-width="0.8"/>
<circle cx="118.5" cy="640.5" r="5.8" fill="#ff1010" stroke="#8a0a0a" stroke-width="0.8"/>
<circle cx="247.4" cy="614.0" r="6.1" fill="#8b461a" stroke="#4a2410" stroke-width="0.8"/>
<circle cx="258.8" cy="530.8" r="2.9" fill="#f8e0e0" stroke="#c09898" stroke-width="0.8"/>
<circle cx="263.7" cy="544.3" r="4.8" fill="#2a8a2a" stroke="#1a4a1a" stroke-width="0.8"/>
<circle cx="276.1" cy="544.8" r="2.9" fill="#f8e0e0" stroke="#c09898" stroke-width="0.8"/>
<circle cx="258.8" cy="548.6" r="2.9" fill="#f8e0e0" stroke="#c09898" stroke-width="0.8"/>
<circle cx="255.6" cy="555.6" r="4.8" fill="#2a8a2a" stroke="#1a4a1a" stroke-width="0.8"/>
<circle cx="242.6" cy="555.0" r="2.9" fill="#f8e0e0" stroke="#c09898" stroke-width="0.8"/>
<circle cx="261.5" cy="574.4" r="4.8" fill="#2a8a2a" stroke="#1a4a1a" stroke-width="0.8"/>
<circle cx="274.4" cy="575.5" r="2.9" fill="#f8e0e0" stroke="#c09898" stroke-width="0.8"/>
<circle cx="257.2" cy="578.8" r="2.9" fill="#f8e0e0" stroke="#c09898" stroke-width="0.8"/>
<circle cx="253.4" cy="585.2" r="4.8" fill="#2a8a2a" stroke="#1a4a1a" stroke-width="0.8"/>
<circle cx="240.5" cy="584.2" r="2.9" fill="#f8e0e0" stroke="#c09898" stroke-width="0.8"/>
<circle cx="258.3" cy="603.6" r="4.8" fill="#b2b8e8" stroke="#7a80a8" stroke-width="0.8"/>
<circle cx="271.2" cy="605.7" r="2.9" fill="#f8e0e0" stroke="#c09898" stroke-width="0.8"/>
<circle cx="253.4" cy="609.5" r="2.9" fill="#f8e0e0" stroke="#c09898" stroke-width="0.8"/></g>
<g clip-path="url(#clipc)">
<polyline points="489.3,380.3 640.0,380.3 642.7,379.9 645.0,374.5 650.2,375.6 655.6,368.1 659.9,365.9 663.2,369.2 667.5,375.6 672.9,363.8 676.1,365.9 682.6,369.2 685.8,371.3 689.1,365.9 692.3,371.3 697.8,369.2 702.0,372.4 708.5,368.7 712.8,372.4 718.2,373.5 723.6,376.7 732.2,377.8 737.6,376.1 745.0,377.8 758.0,377.5 766.8,376.1 775.0,377.0 790.0,378.0 800.0,378.6 850.0,379.5 930.0,379.8 941.7,379.6 946.2,373.8 949.4,378.7 953.5,367.9 957.1,362.5 959.8,375.1 962.9,359.8 964.7,365.2 967.0,355.7 969.7,368.3 971.9,353.9 974.7,367.9 976.9,359.8 979.6,367.9 982.3,357.5 985.0,363.8 988.2,367.9 991.8,351.7 995.0,369.7 997.7,373.3 1001.3,359.8 1006.7,374.2 1011.2,367.4 1014.3,366.5 1017.5,375.1 1022.9,358.4 1025.6,367.9 1029.7,352.1 1032.4,360.2 1035.1,351.7 1037.8,363.4 1040.5,350.3 1044.1,374.2 1047.7,349.4 1050.9,360.7 1054.0,353.9 1059.9,367.0 1064.4,363.4 1068.0,369.7 1070.7,368.8 1074.3,369.7 1078.8,377.8 1083.4,378.7 1092.4,380.1" fill="none" stroke="#f28c45" stroke-width="2.0" stroke-linejoin="round" stroke-linecap="round"/>
<polyline points="1040.0,380.3 1058.0,378.5 1062.6,375.2 1066.0,376.8 1070.0,376.2 1072.5,374.8 1075.0,378.5 1080.0,380.3" fill="none" stroke="#7d7a1c" stroke-width="2.0" stroke-linejoin="round" stroke-linecap="round"/>
<polyline points="489.3,378.6 495.0,377.5 500.0,379.0 505.0,377.2 510.0,378.8 515.0,377.6 520.0,379.0 525.0,377.8 530.0,379.5 540.0,380.3 1020.0,380.3 1030.0,377.8 1040.0,377.2 1050.0,378.0 1060.0,377.5 1075.0,378.5 1085.0,380.3" fill="none" stroke="#21c2c6" stroke-width="2.0" stroke-linejoin="round" stroke-linecap="round"/>
<polyline points="489.3,380.3 490.5,377.0 493.0,375.2 495.5,378.3 498.0,378.5 500.6,376.0 504.5,375.0 507.5,377.8 511.0,376.0 515.0,377.0 519.0,376.5 523.0,377.5 527.0,376.5 531.0,375.5 535.0,377.5 540.0,378.5 550.0,379.5 560.0,379.2 640.0,380.3 642.7,379.9 647.0,369.2 650.2,372.4 655.6,354.0 659.9,351.9 663.2,360.5 667.5,377.8 672.9,341.1 676.1,348.6 679.4,347.6 682.6,349.7 685.8,356.2 689.1,336.8 692.3,349.7 695.5,348.6 699.4,320.6 703.1,337.9 706.3,336.8 710.2,303.3 713.9,333.5 718.2,307.6 723.2,279.6 725.8,295.8 730.1,264.5 732.7,278.5 736.6,218.1 740.9,259.1 744.5,204.0 749.5,253.7 752.7,252.6 755.5,240.7 759.2,270.9 761.4,273.1 764.2,289.3 766.8,281.7 770.7,319.5 773.2,320.6 777.1,356.2 780.2,359.4 783.6,372.0 785.0,370.0 788.3,344.4 791.4,368.5 793.6,365.0 796.6,371.1 800.1,369.4 803.6,378.6 808.9,372.9 811.9,377.7 815.4,372.9 818.5,379.0 822.9,377.7 825.5,379.9 834.2,377.7 836.9,379.9 900.0,380.3 940.0,380.3 955.0,378.0 975.0,377.2 990.0,377.8 1000.0,376.5 1010.0,376.0 1014.3,374.7 1017.5,376.5 1022.9,371.0 1025.6,373.3 1029.2,368.3 1032.4,371.5 1035.1,368.3 1037.8,371.5 1040.5,367.0 1044.1,375.6 1047.7,366.5 1050.9,371.0 1054.0,367.9 1059.0,372.0 1065.3,370.6 1068.5,373.3 1073.4,372.0 1077.0,376.0 1082.5,376.9 1085.2,380.3 1092.4,380.3" fill="none" stroke="#ef7bef" stroke-width="2.2" stroke-linejoin="round" stroke-linecap="round"/>
<polyline points="489.3,380.3 498.5,380.3 500.5,330.0 501.8,250.0 503.5,167.5 506.0,179.0 507.0,230.0 508.2,266.0 509.2,230.0 510.3,191.8 511.5,250.0 513.0,380.3 516.5,380.3 517.5,300.0 519.3,192.3 520.5,260.0 522.0,380.3 525.0,380.3 526.5,250.0 527.6,152.0 528.7,177.8 531.1,79.2 532.3,200.0 533.8,380.3 1092.4,380.3" fill="none" stroke="#f4c3c3" stroke-width="2.3" stroke-linejoin="round" stroke-linecap="round"/>
<polyline points="488.9,377.9 490.2,368.8 492.8,347.8 494.7,359.1 496.7,370.8 498.3,364.3 499.9,368.8 504.4,342.6 507.7,363.0 510.6,353.6 512.8,359.8 515.4,345.5 517.4,356.5 518.3,349.4 520.3,359.4 525.8,364.3 529.3,346.8 533.5,369.5 536.8,360.1 540.7,370.1 543.9,358.5 548.4,378.5 552.3,369.5 556.2,373.4 558.8,376.6 559.8,376.0 562.3,378.5 566.6,379.8 570.4,375.3 573.3,379.2 585.0,380.3 760.0,380.3 764.0,378.0 767.0,375.5 770.0,376.5 773.0,374.8 776.0,376.2 780.0,374.5 783.0,376.5 786.0,373.5 788.0,375.0 792.0,373.0 796.6,375.0 800.0,374.0 803.0,375.5 808.0,374.0 811.0,376.5 815.0,374.0 818.0,378.0 822.0,380.3 1092.4,380.3" fill="none" stroke="#9c4812" stroke-width="2.5" stroke-linejoin="round" stroke-linecap="round"/>
<line x1="489.3" y1="380.3" x2="1092.7" y2="380.3" stroke="#7b5262" stroke-width="2.4"/>
</g>
<rect x="489.3" y="10.4" width="603.4" height="379" fill="none" stroke="#000" stroke-width="1.5"/>
<line x1="489.3" y1="389.4" x2="489.3" y2="394.9" stroke="#000" stroke-width="1.5"/>
<text x="489.3" y="412.8" text-anchor="middle" font-size="18">-10</text>
<line x1="508.15" y1="389.4" x2="508.15" y2="392.6" stroke="#000" stroke-width="1.5"/>
<line x1="527.01" y1="389.4" x2="527.01" y2="394.9" stroke="#000" stroke-width="1.5"/>
<text x="527.01" y="412.8" text-anchor="middle" font-size="18">-9</text>
<line x1="545.87" y1="389.4" x2="545.87" y2="392.6" stroke="#000" stroke-width="1.5"/>
<line x1="564.72" y1="389.4" x2="564.72" y2="394.9" stroke="#000" stroke-width="1.5"/>
<text x="564.72" y="412.8" text-anchor="middle" font-size="18">-8</text>
<line x1="583.58" y1="389.4" x2="583.58" y2="392.6" stroke="#000" stroke-width="1.5"/>
<line x1="602.43" y1="389.4" x2="602.43" y2="394.9" stroke="#000" stroke-width="1.5"/>
<text x="602.43" y="412.8" text-anchor="middle" font-size="18">-7</text>
<line x1="621.28" y1="389.4" x2="621.28" y2="392.6" stroke="#000" stroke-width="1.5"/>
<line x1="640.14" y1="389.4" x2="640.14" y2="394.9" stroke="#000" stroke-width="1.5"/>
<text x="640.14" y="412.8" text-anchor="middle" font-size="18">-6</text>
<line x1="659" y1="389.4" x2="659" y2="392.6" stroke="#000" stroke-width="1.5"/>
<line x1="677.85" y1="389.4" x2="677.85" y2="394.9" stroke="#000" stroke-width="1.5"/>
<text x="677.85" y="412.8" text-anchor="middle" font-size="18">-5</text>
<line x1="696.7" y1="389.4" x2="696.7" y2="392.6" stroke="#000" stroke-width="1.5"/>
<line x1="715.56" y1="389.4" x2="715.56" y2="394.9" stroke="#000" stroke-width="1.5"/>
<text x="715.56" y="412.8" text-anchor="middle" font-size="18">-4</text>
<line x1="734.41" y1="389.4" x2="734.41" y2="392.6" stroke="#000" stroke-width="1.5"/>
<line x1="753.27" y1="389.4" x2="753.27" y2="394.9" stroke="#000" stroke-width="1.5"/>
<text x="753.27" y="412.8" text-anchor="middle" font-size="18">-3</text>
<line x1="772.12" y1="389.4" x2="772.12" y2="392.6" stroke="#000" stroke-width="1.5"/>
<line x1="790.98" y1="389.4" x2="790.98" y2="394.9" stroke="#000" stroke-width="1.5"/>
<text x="790.98" y="412.8" text-anchor="middle" font-size="18">-2</text>
<line x1="809.84" y1="389.4" x2="809.84" y2="392.6" stroke="#000" stroke-width="1.5"/>
<line x1="828.69" y1="389.4" x2="828.69" y2="394.9" stroke="#000" stroke-width="1.5"/>
<text x="828.69" y="412.8" text-anchor="middle" font-size="18">-1</text>
<line x1="847.54" y1="389.4" x2="847.54" y2="392.6" stroke="#000" stroke-width="1.5"/>
<line x1="866.4" y1="389.4" x2="866.4" y2="394.9" stroke="#000" stroke-width="1.5"/>
<text x="866.4" y="412.8" text-anchor="middle" font-size="18">0</text>
<line x1="885.25" y1="389.4" x2="885.25" y2="392.6" stroke="#000" stroke-width="1.5"/>
<line x1="904.11" y1="389.4" x2="904.11" y2="394.9" stroke="#000" stroke-width="1.5"/>
<text x="904.11" y="412.8" text-anchor="middle" font-size="18">1</text>
<line x1="922.96" y1="389.4" x2="922.96" y2="392.6" stroke="#000" stroke-width="1.5"/>
<line x1="941.82" y1="389.4" x2="941.82" y2="394.9" stroke="#000" stroke-width="1.5"/>
<text x="941.82" y="412.8" text-anchor="middle" font-size="18">2</text>
<line x1="960.67" y1="389.4" x2="960.67" y2="392.6" stroke="#000" stroke-width="1.5"/>
<line x1="979.53" y1="389.4" x2="979.53" y2="394.9" stroke="#000" stroke-width="1.5"/>
<text x="979.53" y="412.8" text-anchor="middle" font-size="18">3</text>
<line x1="998.38" y1="389.4" x2="998.38" y2="392.6" stroke="#000" stroke-width="1.5"/>
<line x1="1017.24" y1="389.4" x2="1017.24" y2="394.9" stroke="#000" stroke-width="1.5"/>
<text x="1017.24" y="412.8" text-anchor="middle" font-size="18">4</text>
<line x1="1036.1" y1="389.4" x2="1036.1" y2="392.6" stroke="#000" stroke-width="1.5"/>
<line x1="1054.95" y1="389.4" x2="1054.95" y2="394.9" stroke="#000" stroke-width="1.5"/>
<text x="1054.95" y="412.8" text-anchor="middle" font-size="18">5</text>
<line x1="1073.81" y1="389.4" x2="1073.81" y2="392.6" stroke="#000" stroke-width="1.5"/>
<line x1="1092.66" y1="389.4" x2="1092.66" y2="394.9" stroke="#000" stroke-width="1.5"/>
<text x="1092.66" y="412.8" text-anchor="middle" font-size="18">6</text>
<line x1="489.3" y1="380.3" x2="483.8" y2="380.3" stroke="#000" stroke-width="1.5"/>
<text x="480.3" y="386.2" text-anchor="end" font-size="18">0</text>
<line x1="489.3" y1="334.06" x2="486.1" y2="334.06" stroke="#000" stroke-width="1.5"/>
<line x1="489.3" y1="287.82" x2="483.8" y2="287.82" stroke="#000" stroke-width="1.5"/>
<text x="480.3" y="293.72" text-anchor="end" font-size="18">100</text>
<line x1="489.3" y1="241.58" x2="486.1" y2="241.58" stroke="#000" stroke-width="1.5"/>
<line x1="489.3" y1="195.34" x2="483.8" y2="195.34" stroke="#000" stroke-width="1.5"/>
<text x="480.3" y="201.24" text-anchor="end" font-size="18">200</text>
<line x1="489.3" y1="149.1" x2="486.1" y2="149.1" stroke="#000" stroke-width="1.5"/>
<line x1="489.3" y1="102.86" x2="483.8" y2="102.86" stroke="#000" stroke-width="1.5"/>
<text x="480.3" y="108.76" text-anchor="end" font-size="18">300</text>
<line x1="489.3" y1="56.62" x2="486.1" y2="56.62" stroke="#000" stroke-width="1.5"/>
<line x1="489.3" y1="10.38" x2="483.8" y2="10.38" stroke="#000" stroke-width="1.5"/>
<text x="480.3" y="16.28" text-anchor="end" font-size="18">400</text>
<g clip-path="url(#clipd)">
<polyline points="489.3,853.5 688.0,853.5 690.0,852.4 696.6,843.5 702.1,829.2 706.5,835.8 712.0,849.1 716.5,848.0 722.0,848.0 726.4,836.9 730.9,839.1 735.3,836.9 739.7,841.3 745.2,846.9 748.5,850.2 751.9,848.0 756.3,850.2 768.5,849.1 772.9,850.2 790.6,850.2 800.0,850.0 812.7,850.2 817.0,848.0 840.0,850.0 870.0,851.5 900.0,852.5 960.0,852.8 968.9,852.6 973.0,851.3 977.1,852.6 981.9,850.6 986.7,852.6 989.4,849.9 993.5,851.3 998.3,841.7 1001.7,849.2 1005.1,842.4 1008.6,845.8 1012.7,843.7 1016.1,846.5 1019.5,839.0 1021.5,841.0 1023.6,829.4 1026.3,836.9 1031.8,823.2 1035.9,838.3 1039.3,834.9 1041.4,839.0 1043.4,834.2 1045.5,839.0 1047.5,835.5 1053.7,847.2 1059.8,840.3 1065.3,847.2 1068.7,843.7 1071.4,846.5 1074.2,837.0 1079.6,835.5 1082.4,839.5 1086.5,838.3 1089.9,843.7 1092.8,832.8" fill="none" stroke="#f28c45" stroke-width="2.0" stroke-linejoin="round" stroke-linecap="round"/>
<polyline points="489.3,853.5 700.0,853.5 740.0,852.6 780.0,852.3 820.0,852.8 860.0,853.5 1070.0,853.5 1080.0,852.0 1092.8,851.5" fill="none" stroke="#21c2c6" stroke-width="2.0" stroke-linejoin="round" stroke-linecap="round"/>
<polyline points="489.3,853.5 730.0,853.5 740.0,852.0 760.0,851.5 780.0,852.0 800.0,853.5 1092.8,853.5" fill="none" stroke="#2b67cf" stroke-width="2.0" stroke-linejoin="round" stroke-linecap="round"/>
<polyline points="489.3,853.5 530.0,853.5 535.0,851.0 540.0,850.0 545.0,849.5 550.0,850.2 555.0,849.0 560.0,849.5 565.0,849.0 570.0,849.8 575.0,850.2 580.0,850.5 585.0,853.5 688.0,853.5 690.0,852.4 695.5,841.3 699.0,825.0 703.2,802.6 707.6,819.2 714.3,843.5 718.7,838.0 722.0,840.2 726.4,812.6 730.9,804.8 733.1,807.1 735.3,796.0 738.6,799.3 741.9,806.0 745.2,812.6 751.9,777.2 756.3,809.3 759.6,806.0 762.3,787.2 765.1,786.0 768.5,735.2 770.7,710.9 774.0,713.1 778.4,670.0 782.8,719.7 786.6,699.8 790.1,725.2 796.1,671.1 800.5,733.0 803.8,788.3 807.2,812.6 811.6,812.6 814.9,815.9 818.2,820.3 821.5,817.0 824.2,810.4 827.1,838.0 830.4,845.8 834.8,840.2 838.1,846.9 841.9,834.7 844.7,843.5 848.1,850.2 853.6,852.4 856.9,851.3 862.0,853.5 990.0,853.5 998.0,851.9 1020.0,850.6 1031.8,848.5 1046.0,849.2 1055.0,851.3 1060.5,848.5 1066.0,850.6 1074.2,845.8 1082.4,846.5 1090.0,847.2 1092.8,843.7" fill="none" stroke="#ef7bef" stroke-width="2.2" stroke-linejoin="round" stroke-linecap="round"/>
<polyline points="489.3,853.5 498.5,853.5 501.4,837.0 503.8,853.5 509.5,853.5 512.0,780.0 515.6,666.6 518.0,760.0 520.2,853.5 525.0,853.5 527.2,800.0 529.2,787.7 531.4,820.0 532.5,853.5 556.5,853.5 558.5,824.0 561.0,824.0 563.0,853.5 566.0,853.5 569.0,780.0 570.4,700.0 572.5,560.0 574.1,508.3 575.5,560.0 576.9,700.0 578.4,800.0 579.5,853.5 584.0,853.5 585.5,800.0 587.3,734.2 589.0,800.0 590.5,853.5 1092.8,853.5" fill="none" stroke="#f4c3c3" stroke-width="2.3" stroke-linejoin="round" stroke-linecap="round"/>
<polyline points="489.3,853.5 522.0,853.5 526.9,850.6 532.6,847.8 538.2,835.3 542.2,840.4 543.9,834.7 546.7,832.5 549.6,819.5 552.4,829.1 554.1,819.5 556.9,825.1 559.2,819.5 563.1,828.0 565.4,816.6 568.8,815.5 571.1,837.6 574.5,835.3 576.2,838.1 577.9,822.9 580.1,823.4 582.4,841.5 583.5,837.0 588.1,850.6 592.0,837.0 597.1,850.6 601.6,849.5 605.0,851.7 609.0,848.9 611.3,851.7 615.0,853.5 805.0,853.5 812.7,850.2 816.5,846.0 820.4,845.3 824.8,845.8 828.2,849.1 834.8,850.2 838.0,848.0 841.4,846.9 845.9,850.2 850.0,853.5 1092.8,853.5" fill="none" stroke="#9c4812" stroke-width="2.5" stroke-linejoin="round" stroke-linecap="round"/>
<line x1="489.4" y1="853.5" x2="1093.0" y2="853.5" stroke="#7b5262" stroke-width="2.4"/>
</g>
<rect x="489.4" y="483.6" width="603.6" height="379.3" fill="none" stroke="#000" stroke-width="1.5"/>
<line x1="489.5" y1="862.9" x2="489.5" y2="868.4" stroke="#000" stroke-width="1.5"/>
<text x="489.5" y="887" text-anchor="middle" font-size="18">-10</text>
<line x1="508.36" y1="862.9" x2="508.36" y2="866.1" stroke="#000" stroke-width="1.5"/>
<line x1="527.21" y1="862.9" x2="527.21" y2="868.4" stroke="#000" stroke-width="1.5"/>
<text x="527.21" y="887" text-anchor="middle" font-size="18">-9</text>
<line x1="546.07" y1="862.9" x2="546.07" y2="866.1" stroke="#000" stroke-width="1.5"/>
<line x1="564.92" y1="862.9" x2="564.92" y2="868.4" stroke="#000" stroke-width="1.5"/>
<text x="564.92" y="887" text-anchor="middle" font-size="18">-8</text>
<line x1="583.78" y1="862.9" x2="583.78" y2="866.1" stroke="#000" stroke-width="1.5"/>
<line x1="602.63" y1="862.9" x2="602.63" y2="868.4" stroke="#000" stroke-width="1.5"/>
<text x="602.63" y="887" text-anchor="middle" font-size="18">-7</text>
<line x1="621.49" y1="862.9" x2="621.49" y2="866.1" stroke="#000" stroke-width="1.5"/>
<line x1="640.34" y1="862.9" x2="640.34" y2="868.4" stroke="#000" stroke-width="1.5"/>
<text x="640.34" y="887" text-anchor="middle" font-size="18">-6</text>
<line x1="659.2" y1="862.9" x2="659.2" y2="866.1" stroke="#000" stroke-width="1.5"/>
<line x1="678.05" y1="862.9" x2="678.05" y2="868.4" stroke="#000" stroke-width="1.5"/>
<text x="678.05" y="887" text-anchor="middle" font-size="18">-5</text>
<line x1="696.9" y1="862.9" x2="696.9" y2="866.1" stroke="#000" stroke-width="1.5"/>
<line x1="715.76" y1="862.9" x2="715.76" y2="868.4" stroke="#000" stroke-width="1.5"/>
<text x="715.76" y="887" text-anchor="middle" font-size="18">-4</text>
<line x1="734.62" y1="862.9" x2="734.62" y2="866.1" stroke="#000" stroke-width="1.5"/>
<line x1="753.47" y1="862.9" x2="753.47" y2="868.4" stroke="#000" stroke-width="1.5"/>
<text x="753.47" y="887" text-anchor="middle" font-size="18">-3</text>
<line x1="772.33" y1="862.9" x2="772.33" y2="866.1" stroke="#000" stroke-width="1.5"/>
<line x1="791.18" y1="862.9" x2="791.18" y2="868.4" stroke="#000" stroke-width="1.5"/>
<text x="791.18" y="887" text-anchor="middle" font-size="18">-2</text>
<line x1="810.04" y1="862.9" x2="810.04" y2="866.1" stroke="#000" stroke-width="1.5"/>
<line x1="828.89" y1="862.9" x2="828.89" y2="868.4" stroke="#000" stroke-width="1.5"/>
<text x="828.89" y="887" text-anchor="middle" font-size="18">-1</text>
<line x1="847.75" y1="862.9" x2="847.75" y2="866.1" stroke="#000" stroke-width="1.5"/>
<line x1="866.6" y1="862.9" x2="866.6" y2="868.4" stroke="#000" stroke-width="1.5"/>
<text x="866.6" y="887" text-anchor="middle" font-size="18">0</text>
<line x1="885.46" y1="862.9" x2="885.46" y2="866.1" stroke="#000" stroke-width="1.5"/>
<line x1="904.31" y1="862.9" x2="904.31" y2="868.4" stroke="#000" stroke-width="1.5"/>
<text x="904.31" y="887" text-anchor="middle" font-size="18">1</text>
<line x1="923.16" y1="862.9" x2="923.16" y2="866.1" stroke="#000" stroke-width="1.5"/>
<line x1="942.02" y1="862.9" x2="942.02" y2="868.4" stroke="#000" stroke-width="1.5"/>
<text x="942.02" y="887" text-anchor="middle" font-size="18">2</text>
<line x1="960.88" y1="862.9" x2="960.88" y2="866.1" stroke="#000" stroke-width="1.5"/>
<line x1="979.73" y1="862.9" x2="979.73" y2="868.4" stroke="#000" stroke-width="1.5"/>
<text x="979.73" y="887" text-anchor="middle" font-size="18">3</text>
<line x1="998.59" y1="862.9" x2="998.59" y2="866.1" stroke="#000" stroke-width="1.5"/>
<line x1="1017.44" y1="862.9" x2="1017.44" y2="868.4" stroke="#000" stroke-width="1.5"/>
<text x="1017.44" y="887" text-anchor="middle" font-size="18">4</text>
<line x1="1036.3" y1="862.9" x2="1036.3" y2="866.1" stroke="#000" stroke-width="1.5"/>
<line x1="1055.15" y1="862.9" x2="1055.15" y2="868.4" stroke="#000" stroke-width="1.5"/>
<text x="1055.15" y="887" text-anchor="middle" font-size="18">5</text>
<line x1="1074.01" y1="862.9" x2="1074.01" y2="866.1" stroke="#000" stroke-width="1.5"/>
<line x1="1092.86" y1="862.9" x2="1092.86" y2="868.4" stroke="#000" stroke-width="1.5"/>
<text x="1092.86" y="887" text-anchor="middle" font-size="18">6</text>
<line x1="489.4" y1="853.5" x2="483.9" y2="853.5" stroke="#000" stroke-width="1.5"/>
<text x="480.2" y="859.4" text-anchor="end" font-size="18">0</text>
<line x1="489.4" y1="807.26" x2="486.2" y2="807.26" stroke="#000" stroke-width="1.5"/>
<line x1="489.4" y1="761.02" x2="483.9" y2="761.02" stroke="#000" stroke-width="1.5"/>
<text x="480.2" y="766.92" text-anchor="end" font-size="18">100</text>
<line x1="489.4" y1="714.78" x2="486.2" y2="714.78" stroke="#000" stroke-width="1.5"/>
<line x1="489.4" y1="668.54" x2="483.9" y2="668.54" stroke="#000" stroke-width="1.5"/>
<text x="480.2" y="674.44" text-anchor="end" font-size="18">200</text>
<line x1="489.4" y1="622.3" x2="486.2" y2="622.3" stroke="#000" stroke-width="1.5"/>
<line x1="489.4" y1="576.06" x2="483.9" y2="576.06" stroke="#000" stroke-width="1.5"/>
<text x="480.2" y="581.96" text-anchor="end" font-size="18">300</text>
<line x1="489.4" y1="529.82" x2="486.2" y2="529.82" stroke="#000" stroke-width="1.5"/>
<line x1="489.4" y1="483.58" x2="483.9" y2="483.58" stroke="#000" stroke-width="1.5"/>
<text x="480.2" y="489.48" text-anchor="end" font-size="18">400</text>
<g clip-path="url(#clipe)">
<polyline points="1221.3,353.8 1389.0,353.8 1390.0,352.0 1393.0,344.3 1395.5,352.0 1402.0,353.8 1405.0,349.0 1407.0,346.4 1411.0,343.2 1414.0,342.3 1418.0,343.3 1422.3,346.4 1428.0,347.4 1434.0,345.3 1437.8,348.4 1443.0,345.3 1448.0,348.4 1455.0,350.5 1460.0,350.0 1468.0,350.5 1475.0,351.0 1490.0,352.5 1500.0,352.8 1540.0,353.8 1542.9,352.1 1545.5,325.0 1546.8,311.9 1548.6,316.2 1550.7,304.9 1552.5,311.0 1554.2,311.0 1556.0,333.7 1557.3,352.1 1558.5,353.8 1577.5,353.8 1578.3,352.1 1580.0,330.0 1582.2,316.2 1584.5,330.0 1586.2,352.1 1587.0,353.8 1591.5,353.8 1592.3,352.1 1594.0,335.0 1596.2,318.4 1598.0,335.0 1599.7,352.1 1600.5,353.8 1692.5,353.8 1693.3,351.9 1695.6,320.5 1697.0,318.7 1699.3,324.7 1702.1,314.0 1704.4,320.5 1707.1,329.7 1709.0,342.7 1712.2,345.5 1715.5,340.4 1717.8,338.1 1719.2,341.8 1722.8,328.8 1726.5,342.7 1728.9,335.3 1733.9,331.6 1736.7,335.3 1738.6,336.2 1743.2,338.1 1748.7,332.5 1751.5,333.4 1756.1,331.1 1759.4,332.5 1762.6,337.1 1766.3,335.3 1769.5,337.1 1772.8,338.1 1776.5,335.3 1779.7,332.5 1784.3,340.8 1787.1,337.1 1790.8,346.4 1795.9,344.5 1799.6,346.4 1802.8,346.8 1807.0,349.2 1811.6,351.9 1815.0,353.8 1823.8,353.8" fill="none" stroke="#f28c45" stroke-width="2.0" stroke-linejoin="round" stroke-linecap="round"/>
<polyline points="1795.0,353.8 1798.0,351.5 1803.0,350.5 1807.0,350.3 1810.0,351.5 1813.0,353.8" fill="none" stroke="#7d7a1c" stroke-width="2.0" stroke-linejoin="round" stroke-linecap="round"/>
<polyline points="1221.3,353.8 1230.0,352.5 1236.0,352.0 1240.0,351.2 1245.0,352.0 1250.0,352.5 1265.0,353.0 1385.0,353.8 1389.5,351.5 1393.0,333.0 1396.7,351.5 1401.8,351.5 1405.9,340.2 1411.0,332.0 1415.1,324.8 1419.2,325.9 1422.3,336.1 1425.4,334.1 1427.4,339.2 1430.5,332.0 1432.6,334.1 1435.6,317.7 1438.7,294.1 1441.8,304.3 1445.9,256.1 1450.0,282.8 1453.7,265.4 1456.1,280.7 1459.2,232.6 1462.3,229.5 1463.9,245.9 1467.4,183.3 1471.5,229.5 1475.6,264.3 1478.7,246.9 1481.8,259.2 1484.4,225.4 1487.3,272.0 1489.4,261.3 1493.0,338.2 1497.2,335.1 1500.2,339.9 1504.3,332.9 1507.9,332.9 1510.5,340.7 1513.1,343.4 1515.3,349.5 1520.1,345.1 1522.7,349.5 1526.2,351.7 1530.0,353.8 1542.0,353.8 1546.0,351.0 1550.0,349.8 1554.0,350.5 1557.0,353.8 1580.0,353.8 1582.2,349.8 1585.0,353.8 1594.0,353.8 1596.2,349.0 1599.0,353.8 1692.0,353.8 1694.0,350.5 1700.0,348.7 1705.0,351.0 1712.0,351.0 1719.0,348.7 1723.0,350.5 1727.0,348.7 1738.0,348.2 1745.0,349.2 1752.0,347.3 1762.0,346.8 1771.0,348.2 1775.5,345.9 1779.5,348.7 1783.0,349.2 1790.0,350.5 1800.0,351.0 1810.0,352.5 1823.8,353.8" fill="none" stroke="#ef7bef" stroke-width="2.2" stroke-linejoin="round" stroke-linecap="round"/>
<polyline points="1221.3,353.8 1226.6,353.0 1230.9,289.4 1234.2,225.8 1236.3,257.0 1239.6,308.8 1241.7,246.2 1243.4,198.8 1245.0,194.5 1246.7,174.0 1248.6,203.1 1250.3,289.4 1252.5,336.8 1255.7,339.0 1260.0,345.4 1265.4,351.9 1270.0,353.8 1823.8,353.8" fill="none" stroke="#f4c3c3" stroke-width="2.3" stroke-linejoin="round" stroke-linecap="round"/>
<polyline points="1221.2,345.4 1223.4,351.9 1227.7,339.0 1229.9,336.8 1233.1,341.1 1236.3,344.3 1238.5,330.3 1241.7,326.0 1243.9,327.1 1247.1,334.6 1249.3,340.0 1252.5,332.5 1254.7,323.9 1257.2,319.6 1260.0,332.5 1262.2,340.0 1264.4,342.2 1269.7,350.8 1274.1,351.9 1277.3,349.7 1280.5,300.1 1283.8,350.8 1287.0,351.9 1297.8,350.8 1301.2,296.9 1304.2,350.8 1308.6,350.8 1310.7,351.9 1321.5,350.8 1324.3,292.6 1328.0,350.8 1330.0,353.8 1488.0,353.8 1491.0,352.0 1497.0,351.0 1503.0,349.5 1507.0,348.5 1511.0,350.5 1515.0,353.8 1823.8,353.8" fill="none" stroke="#9c4812" stroke-width="2.5" stroke-linejoin="round" stroke-linecap="round"/>
<line x1="1221.3" y1="353.8" x2="1823.8" y2="353.8" stroke="#7b5262" stroke-width="2.0"/>
</g>
<rect x="1221.3" y="8.9" width="602.5" height="379.4" fill="none" stroke="#000" stroke-width="1.5"/>
<line x1="1221.3" y1="388.3" x2="1221.3" y2="393.8" stroke="#000" stroke-width="1.5"/>
<text x="1221.3" y="413.9" text-anchor="middle" font-size="18">-10</text>
<line x1="1240.12" y1="388.3" x2="1240.12" y2="391.5" stroke="#000" stroke-width="1.5"/>
<line x1="1258.95" y1="388.3" x2="1258.95" y2="393.8" stroke="#000" stroke-width="1.5"/>
<text x="1258.95" y="413.9" text-anchor="middle" font-size="18">-9</text>
<line x1="1277.78" y1="388.3" x2="1277.78" y2="391.5" stroke="#000" stroke-width="1.5"/>
<line x1="1296.6" y1="388.3" x2="1296.6" y2="393.8" stroke="#000" stroke-width="1.5"/>
<text x="1296.6" y="413.9" text-anchor="middle" font-size="18">-8</text>
<line x1="1315.42" y1="388.3" x2="1315.42" y2="391.5" stroke="#000" stroke-width="1.5"/>
<line x1="1334.25" y1="388.3" x2="1334.25" y2="393.8" stroke="#000" stroke-width="1.5"/>
<text x="1334.25" y="413.9" text-anchor="middle" font-size="18">-7</text>
<line x1="1353.08" y1="388.3" x2="1353.08" y2="391.5" stroke="#000" stroke-width="1.5"/>
<line x1="1371.9" y1="388.3" x2="1371.9" y2="393.8" stroke="#000" stroke-width="1.5"/>
<text x="1371.9" y="413.9" text-anchor="middle" font-size="18">-6</text>
<line x1="1390.72" y1="388.3" x2="1390.72" y2="391.5" stroke="#000" stroke-width="1.5"/>
<line x1="1409.55" y1="388.3" x2="1409.55" y2="393.8" stroke="#000" stroke-width="1.5"/>
<text x="1409.55" y="413.9" text-anchor="middle" font-size="18">-5</text>
<line x1="1428.38" y1="388.3" x2="1428.38" y2="391.5" stroke="#000" stroke-width="1.5"/>
<line x1="1447.2" y1="388.3" x2="1447.2" y2="393.8" stroke="#000" stroke-width="1.5"/>
<text x="1447.2" y="413.9" text-anchor="middle" font-size="18">-4</text>
<line x1="1466.02" y1="388.3" x2="1466.02" y2="391.5" stroke="#000" stroke-width="1.5"/>
<line x1="1484.85" y1="388.3" x2="1484.85" y2="393.8" stroke="#000" stroke-width="1.5"/>
<text x="1484.85" y="413.9" text-anchor="middle" font-size="18">-3</text>
<line x1="1503.67" y1="388.3" x2="1503.67" y2="391.5" stroke="#000" stroke-width="1.5"/>
<line x1="1522.5" y1="388.3" x2="1522.5" y2="393.8" stroke="#000" stroke-width="1.5"/>
<text x="1522.5" y="413.9" text-anchor="middle" font-size="18">-2</text>
<line x1="1541.33" y1="388.3" x2="1541.33" y2="391.5" stroke="#000" stroke-width="1.5"/>
<line x1="1560.15" y1="388.3" x2="1560.15" y2="393.8" stroke="#000" stroke-width="1.5"/>
<text x="1560.15" y="413.9" text-anchor="middle" font-size="18">-1</text>
<line x1="1578.97" y1="388.3" x2="1578.97" y2="391.5" stroke="#000" stroke-width="1.5"/>
<line x1="1597.8" y1="388.3" x2="1597.8" y2="393.8" stroke="#000" stroke-width="1.5"/>
<text x="1597.8" y="413.9" text-anchor="middle" font-size="18">0</text>
<line x1="1616.62" y1="388.3" x2="1616.62" y2="391.5" stroke="#000" stroke-width="1.5"/>
<line x1="1635.45" y1="388.3" x2="1635.45" y2="393.8" stroke="#000" stroke-width="1.5"/>
<text x="1635.45" y="413.9" text-anchor="middle" font-size="18">1</text>
<line x1="1654.27" y1="388.3" x2="1654.27" y2="391.5" stroke="#000" stroke-width="1.5"/>
<line x1="1673.1" y1="388.3" x2="1673.1" y2="393.8" stroke="#000" stroke-width="1.5"/>
<text x="1673.1" y="413.9" text-anchor="middle" font-size="18">2</text>
<line x1="1691.92" y1="388.3" x2="1691.92" y2="391.5" stroke="#000" stroke-width="1.5"/>
<line x1="1710.75" y1="388.3" x2="1710.75" y2="393.8" stroke="#000" stroke-width="1.5"/>
<text x="1710.75" y="413.9" text-anchor="middle" font-size="18">3</text>
<line x1="1729.58" y1="388.3" x2="1729.58" y2="391.5" stroke="#000" stroke-width="1.5"/>
<line x1="1748.4" y1="388.3" x2="1748.4" y2="393.8" stroke="#000" stroke-width="1.5"/>
<text x="1748.4" y="413.9" text-anchor="middle" font-size="18">4</text>
<line x1="1767.22" y1="388.3" x2="1767.22" y2="391.5" stroke="#000" stroke-width="1.5"/>
<line x1="1786.05" y1="388.3" x2="1786.05" y2="393.8" stroke="#000" stroke-width="1.5"/>
<text x="1786.05" y="413.9" text-anchor="middle" font-size="18">5</text>
<line x1="1804.88" y1="388.3" x2="1804.88" y2="391.5" stroke="#000" stroke-width="1.5"/>
<line x1="1823.7" y1="388.3" x2="1823.7" y2="393.8" stroke="#000" stroke-width="1.5"/>
<text x="1823.7" y="413.9" text-anchor="middle" font-size="18">6</text>
<line x1="1221.3" y1="353.8" x2="1215.8" y2="353.8" stroke="#000" stroke-width="1.5"/>
<text x="1211.6" y="359.7" text-anchor="end" font-size="18">0</text>
<line x1="1221.3" y1="267.58" x2="1218.1" y2="267.58" stroke="#000" stroke-width="1.5"/>
<line x1="1221.3" y1="181.35" x2="1215.8" y2="181.35" stroke="#000" stroke-width="1.5"/>
<text x="1211.6" y="187.25" text-anchor="end" font-size="18">50</text>
<line x1="1221.3" y1="95.12" x2="1218.1" y2="95.12" stroke="#000" stroke-width="1.5"/>
<line x1="1221.3" y1="8.9" x2="1215.8" y2="8.9" stroke="#000" stroke-width="1.5"/>
<text x="1211.6" y="14.8" text-anchor="end" font-size="18">100</text>
<g clip-path="url(#clipf)">
<polyline points="1220.8,827.1 1414.0,827.1 1414.7,826.0 1418.2,820.3 1422.2,813.2 1425.3,821.0 1429.6,825.3 1436.7,824.6 1442.4,818.1 1445.3,819.6 1450.2,813.9 1453.8,817.4 1456.4,817.4 1460.2,823.1 1465.0,823.8 1470.0,823.8 1480.0,822.8 1490.0,822.3 1500.0,823.0 1515.0,822.8 1525.0,824.5 1545.0,825.5 1569.0,827.1 1569.7,825.5 1572.5,805.0 1574.7,791.2 1576.5,805.0 1578.2,825.5 1582.0,827.1 1582.5,825.5 1584.7,806.8 1587.5,816.8 1590.4,807.5 1593.2,825.5 1594.0,827.1 1685.0,827.1 1685.9,825.5 1687.7,808.8 1690.3,795.0 1692.8,820.8 1694.7,823.6 1697.4,794.0 1699.7,811.6 1702.1,824.5 1704.4,825.5 1707.1,823.6 1710.4,825.5 1712.7,816.2 1715.0,804.2 1717.3,817.1 1719.6,811.1 1724.2,819.0 1726.5,807.9 1728.4,796.8 1730.7,807.9 1733.0,815.3 1736.2,807.4 1738.6,813.0 1741.3,809.7 1743.6,813.0 1748.3,803.7 1751.5,808.8 1755.2,813.4 1758.4,818.1 1761.2,811.1 1764.4,816.2 1769.1,812.5 1772.3,819.0 1775.5,811.6 1778.3,807.0 1781.1,816.2 1784.8,815.3 1788.5,807.9 1791.2,798.7 1795.4,815.3 1798.6,812.5 1801.4,807.4 1804.2,809.7 1807.9,814.4 1813.9,811.1 1817.1,815.3 1823.6,818.1" fill="none" stroke="#f28c45" stroke-width="2.0" stroke-linejoin="round" stroke-linecap="round"/>
<polyline points="1220.8,827.1 1250.0,827.1 1255.0,825.5 1262.0,825.0 1268.0,824.5 1275.0,825.0 1283.0,825.5 1290.0,826.0 1300.0,825.5 1310.0,827.1 1337.0,827.1 1339.6,825.0 1342.0,827.1 1364.0,827.1 1366.7,825.0 1369.0,827.1 1414.0,827.1 1414.7,826.0 1418.2,813.9 1422.2,798.2 1425.3,812.5 1429.6,824.6 1433.2,821.7 1436.7,824.6 1439.6,816.7 1442.4,803.2 1445.3,806.0 1450.2,789.0 1453.8,799.6 1456.4,795.4 1460.2,808.9 1463.8,803.9 1465.2,804.6 1468.8,774.7 1471.6,777.6 1473.0,773.4 1475.7,791.9 1477.8,770.5 1480.7,769.8 1483.5,754.1 1485.7,728.5 1488.5,712.8 1491.4,728.5 1493.5,735.6 1496.3,729.9 1498.5,734.2 1500.6,732.8 1502.8,742.7 1505.6,734.2 1507.7,737.0 1510.6,734.9 1512.7,749.9 1514.9,745.6 1517.0,762.7 1519.1,796.9 1522.7,813.9 1525.5,819.6 1529.1,809.0 1531.2,813.9 1534.1,816.1 1537.7,813.9 1539.8,821.1 1541.2,825.3 1549.8,826.0 1553.3,818.2 1555.5,826.0 1572.0,827.1 1574.7,825.0 1577.0,827.1 1583.0,827.1 1585.0,825.5 1590.0,825.5 1592.0,827.1 1686.0,827.1 1687.7,824.5 1691.0,825.0 1697.4,822.7 1700.0,824.5 1712.0,825.0 1728.4,824.1 1748.0,824.1 1762.0,824.5 1767.5,822.7 1772.0,824.5 1778.3,820.8 1783.0,824.5 1791.2,819.0 1795.5,823.1 1802.0,820.8 1807.9,823.1 1813.9,822.2 1823.6,823.1" fill="none" stroke="#ef7bef" stroke-width="2.2" stroke-linejoin="round" stroke-linecap="round"/>
<polyline points="1221.0,773.2 1223.4,820.3 1226.5,765.9 1230.1,825.1 1231.0,827.1 1239.5,827.1 1240.4,825.1 1243.7,768.3 1246.4,803.4 1248.8,766.0 1251.8,825.1 1253.0,827.1 1272.5,827.1 1273.6,825.1 1276.0,790.0 1278.4,735.7 1281.4,791.3 1284.2,730.9 1286.9,825.1 1288.0,827.1 1295.5,827.1 1296.5,825.1 1299.0,790.0 1301.1,735.1 1304.4,804.6 1307.7,733.3 1311.7,825.1 1313.0,827.1 1824.3,827.1" fill="none" stroke="#f4c3c3" stroke-width="2.3" stroke-linejoin="round" stroke-linecap="round"/>
<polyline points="1220.8,827.1 1245.0,827.1 1247.0,825.7 1249.4,825.1 1251.8,826.3 1254.3,819.1 1257.3,825.1 1259.7,815.5 1263.3,803.4 1266.3,816.7 1270.0,798.5 1272.4,806.4 1275.4,771.4 1277.8,776.8 1280.2,802.2 1284.5,806.4 1285.5,803.0 1288.7,814.9 1290.5,817.9 1294.1,818.5 1297.5,777.4 1300.2,792.5 1302.6,816.7 1305.0,820.9 1308.0,814.9 1309.8,822.7 1314.7,826.3 1334.0,827.1 1335.7,826.0 1337.5,800.0 1339.6,776.9 1341.5,800.0 1343.5,826.0 1345.0,827.1 1361.0,827.1 1362.7,826.0 1364.5,800.0 1366.7,773.7 1368.5,800.0 1370.5,826.0 1372.0,827.1 1520.0,827.1 1524.0,825.5 1527.5,822.0 1531.0,823.5 1535.0,822.3 1538.0,824.0 1541.0,827.1 1824.3,827.1" fill="none" stroke="#9c4812" stroke-width="2.5" stroke-linejoin="round" stroke-linecap="round"/>
<line x1="1220.8" y1="827.1" x2="1824.3" y2="827.1" stroke="#7b5262" stroke-width="2.0"/>
</g>
<rect x="1220.8" y="481.9" width="603.5" height="379.7" fill="none" stroke="#363636" stroke-width="1.5"/>
<line x1="1220.8" y1="861.6" x2="1220.8" y2="867.1" stroke="#363636" stroke-width="1.5"/>
<text x="1220.8" y="885.6" text-anchor="middle" font-size="18">-10</text>
<line x1="1239.66" y1="861.6" x2="1239.66" y2="864.8" stroke="#363636" stroke-width="1.5"/>
<line x1="1258.52" y1="861.6" x2="1258.52" y2="867.1" stroke="#363636" stroke-width="1.5"/>
<text x="1258.52" y="885.6" text-anchor="middle" font-size="18">-9</text>
<line x1="1277.38" y1="861.6" x2="1277.38" y2="864.8" stroke="#363636" stroke-width="1.5"/>
<line x1="1296.24" y1="861.6" x2="1296.24" y2="867.1" stroke="#363636" stroke-width="1.5"/>
<text x="1296.24" y="885.6" text-anchor="middle" font-size="18">-8</text>
<line x1="1315.1" y1="861.6" x2="1315.1" y2="864.8" stroke="#363636" stroke-width="1.5"/>
<line x1="1333.96" y1="861.6" x2="1333.96" y2="867.1" stroke="#363636" stroke-width="1.5"/>
<text x="1333.96" y="885.6" text-anchor="middle" font-size="18">-7</text>
<line x1="1352.82" y1="861.6" x2="1352.82" y2="864.8" stroke="#363636" stroke-width="1.5"/>
<line x1="1371.68" y1="861.6" x2="1371.68" y2="867.1" stroke="#363636" stroke-width="1.5"/>
<text x="1371.68" y="885.6" text-anchor="middle" font-size="18">-6</text>
<line x1="1390.54" y1="861.6" x2="1390.54" y2="864.8" stroke="#363636" stroke-width="1.5"/>
<line x1="1409.4" y1="861.6" x2="1409.4" y2="867.1" stroke="#363636" stroke-width="1.5"/>
<text x="1409.4" y="885.6" text-anchor="middle" font-size="18">-5</text>
<line x1="1428.26" y1="861.6" x2="1428.26" y2="864.8" stroke="#363636" stroke-width="1.5"/>
<line x1="1447.12" y1="861.6" x2="1447.12" y2="867.1" stroke="#363636" stroke-width="1.5"/>
<text x="1447.12" y="885.6" text-anchor="middle" font-size="18">-4</text>
<line x1="1465.98" y1="861.6" x2="1465.98" y2="864.8" stroke="#363636" stroke-width="1.5"/>
<line x1="1484.84" y1="861.6" x2="1484.84" y2="867.1" stroke="#363636" stroke-width="1.5"/>
<text x="1484.84" y="885.6" text-anchor="middle" font-size="18">-3</text>
<line x1="1503.7" y1="861.6" x2="1503.7" y2="864.8" stroke="#363636" stroke-width="1.5"/>
<line x1="1522.56" y1="861.6" x2="1522.56" y2="867.1" stroke="#363636" stroke-width="1.5"/>
<text x="1522.56" y="885.6" text-anchor="middle" font-size="18">-2</text>
<line x1="1541.42" y1="861.6" x2="1541.42" y2="864.8" stroke="#363636" stroke-width="1.5"/>
<line x1="1560.28" y1="861.6" x2="1560.28" y2="867.1" stroke="#363636" stroke-width="1.5"/>
<text x="1560.28" y="885.6" text-anchor="middle" font-size="18">-1</text>
<line x1="1579.14" y1="861.6" x2="1579.14" y2="864.8" stroke="#363636" stroke-width="1.5"/>
<line x1="1598" y1="861.6" x2="1598" y2="867.1" stroke="#363636" stroke-width="1.5"/>
<text x="1598" y="885.6" text-anchor="middle" font-size="18">0</text>
<line x1="1616.86" y1="861.6" x2="1616.86" y2="864.8" stroke="#363636" stroke-width="1.5"/>
<line x1="1635.72" y1="861.6" x2="1635.72" y2="867.1" stroke="#363636" stroke-width="1.5"/>
<text x="1635.72" y="885.6" text-anchor="middle" font-size="18">1</text>
<line x1="1654.58" y1="861.6" x2="1654.58" y2="864.8" stroke="#363636" stroke-width="1.5"/>
<line x1="1673.44" y1="861.6" x2="1673.44" y2="867.1" stroke="#363636" stroke-width="1.5"/>
<text x="1673.44" y="885.6" text-anchor="middle" font-size="18">2</text>
<line x1="1692.3" y1="861.6" x2="1692.3" y2="864.8" stroke="#363636" stroke-width="1.5"/>
<line x1="1711.16" y1="861.6" x2="1711.16" y2="867.1" stroke="#363636" stroke-width="1.5"/>
<text x="1711.16" y="885.6" text-anchor="middle" font-size="18">3</text>
<line x1="1730.02" y1="861.6" x2="1730.02" y2="864.8" stroke="#363636" stroke-width="1.5"/>
<line x1="1748.88" y1="861.6" x2="1748.88" y2="867.1" stroke="#363636" stroke-width="1.5"/>
<text x="1748.88" y="885.6" text-anchor="middle" font-size="18">4</text>
<line x1="1767.74" y1="861.6" x2="1767.74" y2="864.8" stroke="#363636" stroke-width="1.5"/>
<line x1="1786.6" y1="861.6" x2="1786.6" y2="867.1" stroke="#363636" stroke-width="1.5"/>
<text x="1786.6" y="885.6" text-anchor="middle" font-size="18">5</text>
<line x1="1805.46" y1="861.6" x2="1805.46" y2="864.8" stroke="#363636" stroke-width="1.5"/>
<line x1="1824.32" y1="861.6" x2="1824.32" y2="867.1" stroke="#363636" stroke-width="1.5"/>
<text x="1824.32" y="885.6" text-anchor="middle" font-size="18">6</text>
<line x1="1220.8" y1="827.1" x2="1215.3" y2="827.1" stroke="#363636" stroke-width="1.5"/>
<text x="1210.7" y="833" text-anchor="end" font-size="18">0</text>
<line x1="1220.8" y1="740.8" x2="1217.6" y2="740.8" stroke="#363636" stroke-width="1.5"/>
<line x1="1220.8" y1="654.5" x2="1215.3" y2="654.5" stroke="#363636" stroke-width="1.5"/>
<text x="1210.7" y="660.4" text-anchor="end" font-size="18">50</text>
<line x1="1220.8" y1="568.2" x2="1217.6" y2="568.2" stroke="#363636" stroke-width="1.5"/>
<line x1="1220.8" y1="481.9" x2="1215.3" y2="481.9" stroke="#363636" stroke-width="1.5"/>
<text x="1210.7" y="487.8" text-anchor="end" font-size="18">100</text>
<rect x="1009.7" y="27.2" width="68.9" height="160.8" fill="#fff" stroke="#8a8a8a" stroke-width="1"/>
<line x1="1010.5" y1="37.5" x2="1044.6" y2="37.5" stroke="#9c4812" stroke-width="2.4"/>
<text x="1047.87" y="41.80" font-size="13.8">Pb:s</text>
<line x1="1010.5" y1="55.1" x2="1044.6" y2="55.1" stroke="#f28c45" stroke-width="2.4"/>
<text x="1047.87" y="59.40" font-size="13.8">Pb:p</text>
<line x1="1010.5" y1="72.7" x2="1044.6" y2="72.7" stroke="#2b67cf" stroke-width="2.4"/>
<text x="1047.87" y="77.00" font-size="13.8">Pb:d</text>
<line x1="1010.5" y1="90.3" x2="1044.6" y2="90.3" stroke="#3a9d67" stroke-width="2.4"/>
<text x="1048.30" y="94.60" font-size="13.8">Cs:s</text>
<line x1="1010.5" y1="107.9" x2="1044.6" y2="107.9" stroke="#f4c3c3" stroke-width="2.4"/>
<text x="1048.30" y="112.20" font-size="13.8">Cs:p</text>
<line x1="1010.5" y1="125.5" x2="1044.6" y2="125.5" stroke="#7d7a1c" stroke-width="2.4"/>
<text x="1048.30" y="129.80" font-size="13.8">Cs:d</text>
<line x1="1010.5" y1="143.1" x2="1044.6" y2="143.1" stroke="#21c2c6" stroke-width="2.4"/>
<text x="1047.87" y="147.40" font-size="13.8">Br:s</text>
<line x1="1010.5" y1="160.7" x2="1044.6" y2="160.7" stroke="#ef7bef" stroke-width="2.4"/>
<text x="1047.87" y="165.00" font-size="13.8">Br:p</text>
<line x1="1010.5" y1="178.3" x2="1044.6" y2="178.3" stroke="#7a5252" stroke-width="2.4"/>
<text x="1047.87" y="182.60" font-size="13.8">Br:d</text>
<rect x="1007.9" y="494.3" width="69.4" height="159.9" fill="#fff" stroke="#8a8a8a" stroke-width="1"/>
<line x1="1008.7" y1="503.8" x2="1042.2" y2="503.8" stroke="#9c4812" stroke-width="2.4"/>
<text x="1045.47" y="508.10" font-size="13.8">Pb:s</text>
<line x1="1008.7" y1="521.36" x2="1042.2" y2="521.36" stroke="#f28c45" stroke-width="2.4"/>
<text x="1045.47" y="525.66" font-size="13.8">Pb:p</text>
<line x1="1008.7" y1="538.92" x2="1042.2" y2="538.92" stroke="#2b67cf" stroke-width="2.4"/>
<text x="1045.47" y="543.22" font-size="13.8">Pb:d</text>
<line x1="1008.7" y1="556.48" x2="1042.2" y2="556.48" stroke="#3a9d67" stroke-width="2.4"/>
<text x="1045.90" y="560.78" font-size="13.8">Cs:s</text>
<line x1="1008.7" y1="574.04" x2="1042.2" y2="574.04" stroke="#f4c3c3" stroke-width="2.4"/>
<text x="1045.90" y="578.34" font-size="13.8">Cs:p</text>
<line x1="1008.7" y1="591.6" x2="1042.2" y2="591.6" stroke="#7d7a1c" stroke-width="2.4"/>
<text x="1045.90" y="595.90" font-size="13.8">Cs:d</text>
<line x1="1008.7" y1="609.16" x2="1042.2" y2="609.16" stroke="#21c2c6" stroke-width="2.4"/>
<text x="1045.47" y="613.46" font-size="13.8">Br:s</text>
<line x1="1008.7" y1="626.72" x2="1042.2" y2="626.72" stroke="#ef7bef" stroke-width="2.4"/>
<text x="1045.47" y="631.02" font-size="13.8">Br:p</text>
<line x1="1008.7" y1="644.28" x2="1042.2" y2="644.28" stroke="#7a5252" stroke-width="2.4"/>
<text x="1045.47" y="648.58" font-size="13.8">Br:d</text>
<rect x="1732.5" y="15.5" width="75.6" height="175.5" fill="#fff" stroke="#8a8a8a" stroke-width="1"/>
<line x1="1733.2" y1="26.3" x2="1769.9" y2="26.3" stroke="#9c4812" stroke-width="2.4"/>
<text x="1773.84" y="31.50" font-size="15.3">Pb:s</text>
<line x1="1733.2" y1="45.5" x2="1769.9" y2="45.5" stroke="#f28c45" stroke-width="2.4"/>
<text x="1773.84" y="50.70" font-size="15.3">Pb:p</text>
<line x1="1733.2" y1="64.7" x2="1769.9" y2="64.7" stroke="#2b67cf" stroke-width="2.4"/>
<text x="1773.84" y="69.90" font-size="15.3">Pb:d</text>
<line x1="1733.2" y1="83.9" x2="1769.9" y2="83.9" stroke="#3a9d67" stroke-width="2.4"/>
<text x="1774.32" y="89.10" font-size="15.3">Cs:s</text>
<line x1="1733.2" y1="103.1" x2="1769.9" y2="103.1" stroke="#f4c3c3" stroke-width="2.4"/>
<text x="1774.32" y="108.30" font-size="15.3">Cs:p</text>
<line x1="1733.2" y1="122.3" x2="1769.9" y2="122.3" stroke="#7d7a1c" stroke-width="2.4"/>
<text x="1774.32" y="127.50" font-size="15.3">Cs:d</text>
<line x1="1733.2" y1="141.5" x2="1769.9" y2="141.5" stroke="#21c2c6" stroke-width="2.4"/>
<text x="1773.84" y="146.70" font-size="15.3">Br:s</text>
<line x1="1733.2" y1="160.7" x2="1769.9" y2="160.7" stroke="#ef7bef" stroke-width="2.4"/>
<text x="1773.84" y="165.90" font-size="15.3">Br:p</text>
<line x1="1733.2" y1="179.9" x2="1769.9" y2="179.9" stroke="#7a5252" stroke-width="2.4"/>
<text x="1773.84" y="185.10" font-size="15.3">Br:d</text>
<rect x="1740.9" y="502.6" width="68.7" height="160.6" fill="#fff" stroke="#8a8a8a" stroke-width="1"/>
<line x1="1741.6" y1="512.8" x2="1775" y2="512.8" stroke="#9c4812" stroke-width="2.4"/>
<text x="1778.47" y="517.10" font-size="13.8">Pb:s</text>
<line x1="1741.6" y1="530.4" x2="1775" y2="530.4" stroke="#f28c45" stroke-width="2.4"/>
<text x="1778.47" y="534.70" font-size="13.8">Pb:p</text>
<line x1="1741.6" y1="548" x2="1775" y2="548" stroke="#2b67cf" stroke-width="2.4"/>
<text x="1778.47" y="552.30" font-size="13.8">Pb:d</text>
<line x1="1741.6" y1="565.6" x2="1775" y2="565.6" stroke="#3a9d67" stroke-width="2.4"/>
<text x="1778.90" y="569.90" font-size="13.8">Cs:s</text>
<line x1="1741.6" y1="583.2" x2="1775" y2="583.2" stroke="#f4c3c3" stroke-width="2.4"/>
<text x="1778.90" y="587.50" font-size="13.8">Cs:p</text>
<line x1="1741.6" y1="600.8" x2="1775" y2="600.8" stroke="#7d7a1c" stroke-width="2.4"/>
<text x="1778.90" y="605.10" font-size="13.8">Cs:d</text>
<line x1="1741.6" y1="618.4" x2="1775" y2="618.4" stroke="#21c2c6" stroke-width="2.4"/>
<text x="1778.47" y="622.70" font-size="13.8">Br:s</text>
<line x1="1741.6" y1="636" x2="1775" y2="636" stroke="#ef7bef" stroke-width="2.4"/>
<text x="1778.47" y="640.30" font-size="13.8">Br:p</text>
<line x1="1741.6" y1="653.6" x2="1775" y2="653.6" stroke="#7a5252" stroke-width="2.4"/>
<text x="1778.47" y="657.90" font-size="13.8">Br:d</text>
<text x="542.89" y="66.60" font-size="28.2" textLength="382.47" lengthAdjust="spacing">Layers 1-14 of Configuration A</text>
<text x="579.99" y="538.60" font-size="28.2" textLength="381.60" lengthAdjust="spacing">Layers 1-14 of Configuration B</text>
<text x="1232.59" y="66.50" font-size="28.2" textLength="396.17" lengthAdjust="spacing">Layers 15-17 of Configuration A</text>
<text x="1267.99" y="538.80" font-size="28.2" textLength="397.60" lengthAdjust="spacing">Layers 15-17 of Configuration B</text>
<text x="732.57" y="446.8" font-size="23.5">E-E<tspan font-size="15.5" dy="6">VBM</tspan><tspan dy="-6">(eV)</tspan></text>
<text x="732.97" y="920.6" font-size="23.5">E-E<tspan font-size="15.5" dy="6">VBM</tspan><tspan dy="-6">(eV)</tspan></text>
<text x="1438.67" y="449.7" font-size="23.5">E-E<tspan font-size="15.5" dy="6">VBM</tspan><tspan dy="-6">(eV)</tspan></text>
<text x="1440.77" y="917.8" font-size="23.5">E-E<tspan font-size="15.5" dy="6">VBM</tspan><tspan dy="-6">(eV)</tspan></text>
<text transform="translate(441.00,344.93) rotate(-90)" x="0" y="0" font-size="23.5" textLength="290.29" lengthAdjust="spacing">Density of states (arb. units)</text>
<text transform="translate(440.90,817.93) rotate(-90)" x="0" y="0" font-size="23.5" textLength="290.29" lengthAdjust="spacing">Density of states (arb. units)</text>
<text transform="translate(1169.60,357.75) rotate(-90)" x="0" y="0" font-size="25.0" textLength="319.40" lengthAdjust="spacing">Density of states (arb. units)</text>
<text transform="translate(1172.90,816.83) rotate(-90)" x="0" y="0" font-size="23.5" textLength="290.29" lengthAdjust="spacing">Density of states (arb. units)</text>
</g></svg></body></html>
